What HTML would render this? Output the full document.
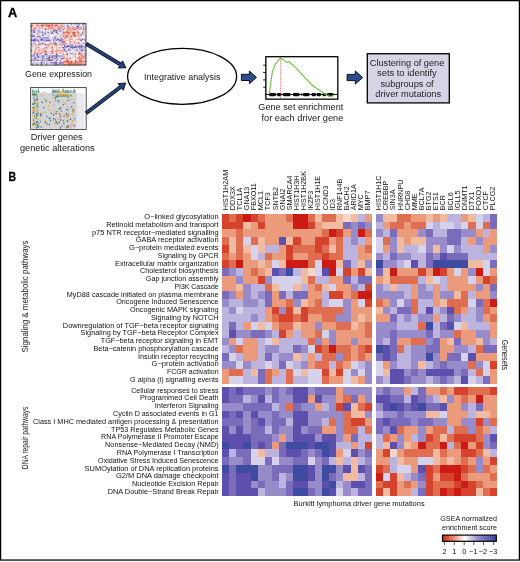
<!DOCTYPE html><html><head><meta charset="utf-8"><style>html,body{margin:0;padding:0;background:#fff;width:520px;height:562px;overflow:hidden}svg{display:block;font-family:"Liberation Sans",sans-serif;will-change:transform}</style></head><body>
<svg width="520" height="562" viewBox="0 0 520 562">
<rect x="0" y="0" width="520" height="562" fill="#fff"/>
<rect x="0.6" y="0.65" width="518.8" height="559.4" fill="none" stroke="#000" stroke-width="1.25"/>
<text x="8.0" y="16.8" font-size="12.6" font-weight="bold" fill="#000" stroke="#000" stroke-width="0.35" textLength="9.2" lengthAdjust="spacingAndGlyphs">A</text>
<text x="8.5" y="180.9" font-size="12.6" font-weight="bold" fill="#000" stroke="#000" stroke-width="0.3" textLength="7.6" lengthAdjust="spacingAndGlyphs">B</text>
<defs><filter id="bl" x="0" y="0" width="1" height="1"><feGaussianBlur stdDeviation="0.35"/></filter></defs>
<g filter="url(#bl)">
<rect x="31.00" y="23.30" width="1.43" height="1.44" fill="#f5d3ce"/>
<rect x="32.38" y="23.30" width="1.43" height="1.44" fill="#f7dad7"/>
<rect x="33.75" y="23.30" width="1.43" height="1.44" fill="#f1c0b9"/>
<rect x="35.12" y="23.30" width="1.43" height="1.44" fill="#eeb0a8"/>
<rect x="36.50" y="23.30" width="1.43" height="1.44" fill="#e37f71"/>
<rect x="37.88" y="23.30" width="1.43" height="1.44" fill="#e8988d"/>
<rect x="39.25" y="23.30" width="1.43" height="1.44" fill="#f2c7c1"/>
<rect x="40.62" y="23.30" width="1.43" height="1.44" fill="#fae9e7"/>
<rect x="42.00" y="23.30" width="1.43" height="1.44" fill="#f4ccc6"/>
<rect x="43.38" y="23.30" width="1.43" height="1.44" fill="#da5845"/>
<rect x="44.75" y="23.30" width="1.43" height="1.44" fill="#f8dfdc"/>
<rect x="46.12" y="23.30" width="1.43" height="1.44" fill="#e8998e"/>
<rect x="47.50" y="23.30" width="1.43" height="1.44" fill="#e68d80"/>
<rect x="48.88" y="23.30" width="1.43" height="1.44" fill="#f1f0f8"/>
<rect x="50.25" y="23.30" width="1.43" height="1.44" fill="#eba69c"/>
<rect x="51.62" y="23.30" width="1.43" height="1.44" fill="#d9523f"/>
<rect x="53.00" y="23.30" width="1.43" height="1.44" fill="#d0cce7"/>
<rect x="54.38" y="23.30" width="1.43" height="1.44" fill="#f1bfb8"/>
<rect x="55.75" y="23.30" width="1.43" height="1.44" fill="#eeb0a8"/>
<rect x="57.12" y="23.30" width="1.43" height="1.44" fill="#f8e0dc"/>
<rect x="58.50" y="23.30" width="1.43" height="1.44" fill="#e5887b"/>
<rect x="59.88" y="23.30" width="1.43" height="1.44" fill="#edada4"/>
<rect x="61.25" y="23.30" width="1.43" height="1.44" fill="#f3f2f8"/>
<rect x="62.62" y="23.30" width="1.43" height="1.44" fill="#e07263"/>
<rect x="64.00" y="23.30" width="1.43" height="1.44" fill="#dcd9ed"/>
<rect x="65.38" y="23.30" width="1.43" height="1.44" fill="#edecf6"/>
<rect x="66.75" y="23.30" width="1.43" height="1.44" fill="#fbf0ee"/>
<rect x="68.12" y="23.30" width="1.43" height="1.44" fill="#c8c4e3"/>
<rect x="69.50" y="23.30" width="1.43" height="1.44" fill="#b9b3db"/>
<rect x="70.88" y="23.30" width="1.43" height="1.44" fill="#5f52ad"/>
<rect x="72.25" y="23.30" width="1.43" height="1.44" fill="#d8d5eb"/>
<rect x="73.62" y="23.30" width="1.43" height="1.44" fill="#8b81c3"/>
<rect x="75.00" y="23.30" width="1.43" height="1.44" fill="#958cc8"/>
<rect x="76.38" y="23.30" width="1.43" height="1.44" fill="#6154ae"/>
<rect x="77.75" y="23.30" width="1.43" height="1.44" fill="#7468b7"/>
<rect x="79.12" y="23.30" width="1.43" height="1.44" fill="#9086c6"/>
<rect x="80.50" y="23.30" width="1.43" height="1.44" fill="#fefaf9"/>
<rect x="81.88" y="23.30" width="1.43" height="1.44" fill="#5041a5"/>
<rect x="83.25" y="23.30" width="1.43" height="1.44" fill="#5547a7"/>
<rect x="84.62" y="23.30" width="1.43" height="1.44" fill="#c0bbdf"/>
<rect x="31.00" y="24.69" width="1.43" height="1.44" fill="#d74632"/>
<rect x="32.38" y="24.69" width="1.43" height="1.44" fill="#dc6150"/>
<rect x="33.75" y="24.69" width="1.43" height="1.44" fill="#f7f7fb"/>
<rect x="35.12" y="24.69" width="1.43" height="1.44" fill="#d0cce7"/>
<rect x="36.50" y="24.69" width="1.43" height="1.44" fill="#e06f60"/>
<rect x="37.88" y="24.69" width="1.43" height="1.44" fill="#efb9b1"/>
<rect x="39.25" y="24.69" width="1.43" height="1.44" fill="#f5d2cd"/>
<rect x="40.62" y="24.69" width="1.43" height="1.44" fill="#d74632"/>
<rect x="42.00" y="24.69" width="1.43" height="1.44" fill="#d74632"/>
<rect x="43.38" y="24.69" width="1.43" height="1.44" fill="#e27d6f"/>
<rect x="44.75" y="24.69" width="1.43" height="1.44" fill="#e17768"/>
<rect x="46.12" y="24.69" width="1.43" height="1.44" fill="#de6a5a"/>
<rect x="47.50" y="24.69" width="1.43" height="1.44" fill="#d74632"/>
<rect x="48.88" y="24.69" width="1.43" height="1.44" fill="#dc5e4d"/>
<rect x="50.25" y="24.69" width="1.43" height="1.44" fill="#dd6554"/>
<rect x="51.62" y="24.69" width="1.43" height="1.44" fill="#dd6352"/>
<rect x="53.00" y="24.69" width="1.43" height="1.44" fill="#fbf0ef"/>
<rect x="54.38" y="24.69" width="1.43" height="1.44" fill="#d74632"/>
<rect x="55.75" y="24.69" width="1.43" height="1.44" fill="#d74834"/>
<rect x="57.12" y="24.69" width="1.43" height="1.44" fill="#dd6453"/>
<rect x="58.50" y="24.69" width="1.43" height="1.44" fill="#f2f1f8"/>
<rect x="59.88" y="24.69" width="1.43" height="1.44" fill="#eeb2a9"/>
<rect x="61.25" y="24.69" width="1.43" height="1.44" fill="#d94f3c"/>
<rect x="62.62" y="24.69" width="1.43" height="1.44" fill="#fdfdfe"/>
<rect x="64.00" y="24.69" width="1.43" height="1.44" fill="#c6c1e1"/>
<rect x="65.38" y="24.69" width="1.43" height="1.44" fill="#faeae8"/>
<rect x="66.75" y="24.69" width="1.43" height="1.44" fill="#7e73bd"/>
<rect x="68.12" y="24.69" width="1.43" height="1.44" fill="#f2c3bc"/>
<rect x="69.50" y="24.69" width="1.43" height="1.44" fill="#f4f3f9"/>
<rect x="70.88" y="24.69" width="1.43" height="1.44" fill="#c8c3e2"/>
<rect x="72.25" y="24.69" width="1.43" height="1.44" fill="#e6e4f2"/>
<rect x="73.62" y="24.69" width="1.43" height="1.44" fill="#fafafc"/>
<rect x="75.00" y="24.69" width="1.43" height="1.44" fill="#d9d6eb"/>
<rect x="76.38" y="24.69" width="1.43" height="1.44" fill="#f8e2df"/>
<rect x="77.75" y="24.69" width="1.43" height="1.44" fill="#a7a0d2"/>
<rect x="79.12" y="24.69" width="1.43" height="1.44" fill="#b7b1da"/>
<rect x="80.50" y="24.69" width="1.43" height="1.44" fill="#fae9e6"/>
<rect x="81.88" y="24.69" width="1.43" height="1.44" fill="#d3cfe8"/>
<rect x="83.25" y="24.69" width="1.43" height="1.44" fill="#9a91cb"/>
<rect x="84.62" y="24.69" width="1.43" height="1.44" fill="#fbefed"/>
<rect x="31.00" y="26.09" width="1.43" height="1.44" fill="#d74632"/>
<rect x="32.38" y="26.09" width="1.43" height="1.44" fill="#f2c5bf"/>
<rect x="33.75" y="26.09" width="1.43" height="1.44" fill="#f9f9fc"/>
<rect x="35.12" y="26.09" width="1.43" height="1.44" fill="#eeb1a8"/>
<rect x="36.50" y="26.09" width="1.43" height="1.44" fill="#eeb2a9"/>
<rect x="37.88" y="26.09" width="1.43" height="1.44" fill="#f0bcb4"/>
<rect x="39.25" y="26.09" width="1.43" height="1.44" fill="#d74a36"/>
<rect x="40.62" y="26.09" width="1.43" height="1.44" fill="#fbecea"/>
<rect x="42.00" y="26.09" width="1.43" height="1.44" fill="#da5441"/>
<rect x="43.38" y="26.09" width="1.43" height="1.44" fill="#fefcfc"/>
<rect x="44.75" y="26.09" width="1.43" height="1.44" fill="#f7dcd9"/>
<rect x="46.12" y="26.09" width="1.43" height="1.44" fill="#e37e70"/>
<rect x="47.50" y="26.09" width="1.43" height="1.44" fill="#db5c4b"/>
<rect x="48.88" y="26.09" width="1.43" height="1.44" fill="#df6e5f"/>
<rect x="50.25" y="26.09" width="1.43" height="1.44" fill="#e79185"/>
<rect x="51.62" y="26.09" width="1.43" height="1.44" fill="#ea9e94"/>
<rect x="53.00" y="26.09" width="1.43" height="1.44" fill="#ea9e93"/>
<rect x="54.38" y="26.09" width="1.43" height="1.44" fill="#e38174"/>
<rect x="55.75" y="26.09" width="1.43" height="1.44" fill="#eeb4ab"/>
<rect x="57.12" y="26.09" width="1.43" height="1.44" fill="#e8958a"/>
<rect x="58.50" y="26.09" width="1.43" height="1.44" fill="#e38274"/>
<rect x="59.88" y="26.09" width="1.43" height="1.44" fill="#eca89e"/>
<rect x="61.25" y="26.09" width="1.43" height="1.44" fill="#e17566"/>
<rect x="62.62" y="26.09" width="1.43" height="1.44" fill="#e48275"/>
<rect x="64.00" y="26.09" width="1.43" height="1.44" fill="#f3c8c3"/>
<rect x="65.38" y="26.09" width="1.43" height="1.44" fill="#c7c2e2"/>
<rect x="66.75" y="26.09" width="1.43" height="1.44" fill="#988fca"/>
<rect x="68.12" y="26.09" width="1.43" height="1.44" fill="#9b93cb"/>
<rect x="69.50" y="26.09" width="1.43" height="1.44" fill="#b2abd7"/>
<rect x="70.88" y="26.09" width="1.43" height="1.44" fill="#edebf5"/>
<rect x="72.25" y="26.09" width="1.43" height="1.44" fill="#9d95cd"/>
<rect x="73.62" y="26.09" width="1.43" height="1.44" fill="#cbc7e4"/>
<rect x="75.00" y="26.09" width="1.43" height="1.44" fill="#f5d4cf"/>
<rect x="76.38" y="26.09" width="1.43" height="1.44" fill="#5041a5"/>
<rect x="77.75" y="26.09" width="1.43" height="1.44" fill="#6c5fb3"/>
<rect x="79.12" y="26.09" width="1.43" height="1.44" fill="#c2bddf"/>
<rect x="80.50" y="26.09" width="1.43" height="1.44" fill="#ccc7e4"/>
<rect x="81.88" y="26.09" width="1.43" height="1.44" fill="#c2bcdf"/>
<rect x="83.25" y="26.09" width="1.43" height="1.44" fill="#978fc9"/>
<rect x="84.62" y="26.09" width="1.43" height="1.44" fill="#dcd9ed"/>
<rect x="31.00" y="27.48" width="1.43" height="1.44" fill="#e9998e"/>
<rect x="32.38" y="27.48" width="1.43" height="1.44" fill="#f4cfc9"/>
<rect x="33.75" y="27.48" width="1.43" height="1.44" fill="#d74632"/>
<rect x="35.12" y="27.48" width="1.43" height="1.44" fill="#e79488"/>
<rect x="36.50" y="27.48" width="1.43" height="1.44" fill="#f5d1cc"/>
<rect x="37.88" y="27.48" width="1.43" height="1.44" fill="#eeb2aa"/>
<rect x="39.25" y="27.48" width="1.43" height="1.44" fill="#f0bbb3"/>
<rect x="40.62" y="27.48" width="1.43" height="1.44" fill="#edb0a7"/>
<rect x="42.00" y="27.48" width="1.43" height="1.44" fill="#a098ce"/>
<rect x="43.38" y="27.48" width="1.43" height="1.44" fill="#f4ccc7"/>
<rect x="44.75" y="27.48" width="1.43" height="1.44" fill="#de6858"/>
<rect x="46.12" y="27.48" width="1.43" height="1.44" fill="#fdfaf9"/>
<rect x="47.50" y="27.48" width="1.43" height="1.44" fill="#eeb0a8"/>
<rect x="48.88" y="27.48" width="1.43" height="1.44" fill="#df6c5c"/>
<rect x="50.25" y="27.48" width="1.43" height="1.44" fill="#e07363"/>
<rect x="51.62" y="27.48" width="1.43" height="1.44" fill="#d74834"/>
<rect x="53.00" y="27.48" width="1.43" height="1.44" fill="#e1dff0"/>
<rect x="54.38" y="27.48" width="1.43" height="1.44" fill="#f2c3bd"/>
<rect x="55.75" y="27.48" width="1.43" height="1.44" fill="#f2c2bc"/>
<rect x="57.12" y="27.48" width="1.43" height="1.44" fill="#e48275"/>
<rect x="58.50" y="27.48" width="1.43" height="1.44" fill="#dd6352"/>
<rect x="59.88" y="27.48" width="1.43" height="1.44" fill="#a39cd0"/>
<rect x="61.25" y="27.48" width="1.43" height="1.44" fill="#dd6352"/>
<rect x="62.62" y="27.48" width="1.43" height="1.44" fill="#f1f0f8"/>
<rect x="64.00" y="27.48" width="1.43" height="1.44" fill="#e17566"/>
<rect x="65.38" y="27.48" width="1.43" height="1.44" fill="#f7f6fb"/>
<rect x="66.75" y="27.48" width="1.43" height="1.44" fill="#e8978c"/>
<rect x="68.12" y="27.48" width="1.43" height="1.44" fill="#d95341"/>
<rect x="69.50" y="27.48" width="1.43" height="1.44" fill="#edada4"/>
<rect x="70.88" y="27.48" width="1.43" height="1.44" fill="#e8968b"/>
<rect x="72.25" y="27.48" width="1.43" height="1.44" fill="#df6e5e"/>
<rect x="73.62" y="27.48" width="1.43" height="1.44" fill="#e9998f"/>
<rect x="75.00" y="27.48" width="1.43" height="1.44" fill="#eca9a0"/>
<rect x="76.38" y="27.48" width="1.43" height="1.44" fill="#d74632"/>
<rect x="77.75" y="27.48" width="1.43" height="1.44" fill="#dc5d4b"/>
<rect x="79.12" y="27.48" width="1.43" height="1.44" fill="#efb7af"/>
<rect x="80.50" y="27.48" width="1.43" height="1.44" fill="#d74632"/>
<rect x="81.88" y="27.48" width="1.43" height="1.44" fill="#fbefee"/>
<rect x="83.25" y="27.48" width="1.43" height="1.44" fill="#dd6655"/>
<rect x="84.62" y="27.48" width="1.43" height="1.44" fill="#efb5ad"/>
<rect x="31.00" y="28.87" width="1.43" height="1.44" fill="#f1beb7"/>
<rect x="32.38" y="28.87" width="1.43" height="1.44" fill="#e8988c"/>
<rect x="33.75" y="28.87" width="1.43" height="1.44" fill="#efb8b0"/>
<rect x="35.12" y="28.87" width="1.43" height="1.44" fill="#e99c91"/>
<rect x="36.50" y="28.87" width="1.43" height="1.44" fill="#d3cfe8"/>
<rect x="37.88" y="28.87" width="1.43" height="1.44" fill="#d4d0e9"/>
<rect x="39.25" y="28.87" width="1.43" height="1.44" fill="#ea9e93"/>
<rect x="40.62" y="28.87" width="1.43" height="1.44" fill="#f6f6fa"/>
<rect x="42.00" y="28.87" width="1.43" height="1.44" fill="#f2f1f8"/>
<rect x="43.38" y="28.87" width="1.43" height="1.44" fill="#d6d3ea"/>
<rect x="44.75" y="28.87" width="1.43" height="1.44" fill="#e07263"/>
<rect x="46.12" y="28.87" width="1.43" height="1.44" fill="#e89589"/>
<rect x="47.50" y="28.87" width="1.43" height="1.44" fill="#dd6454"/>
<rect x="48.88" y="28.87" width="1.43" height="1.44" fill="#f8f7fb"/>
<rect x="50.25" y="28.87" width="1.43" height="1.44" fill="#f2c7c1"/>
<rect x="51.62" y="28.87" width="1.43" height="1.44" fill="#ebeaf5"/>
<rect x="53.00" y="28.87" width="1.43" height="1.44" fill="#e79488"/>
<rect x="54.38" y="28.87" width="1.43" height="1.44" fill="#db5d4b"/>
<rect x="55.75" y="28.87" width="1.43" height="1.44" fill="#fbfbfd"/>
<rect x="57.12" y="28.87" width="1.43" height="1.44" fill="#dc5e4d"/>
<rect x="58.50" y="28.87" width="1.43" height="1.44" fill="#e48578"/>
<rect x="59.88" y="28.87" width="1.43" height="1.44" fill="#f5d3ce"/>
<rect x="61.25" y="28.87" width="1.43" height="1.44" fill="#b7b1da"/>
<rect x="62.62" y="28.87" width="1.43" height="1.44" fill="#de6959"/>
<rect x="64.00" y="28.87" width="1.43" height="1.44" fill="#f2c4be"/>
<rect x="65.38" y="28.87" width="1.43" height="1.44" fill="#f9e6e4"/>
<rect x="66.75" y="28.87" width="1.43" height="1.44" fill="#eba399"/>
<rect x="68.12" y="28.87" width="1.43" height="1.44" fill="#eba399"/>
<rect x="69.50" y="28.87" width="1.43" height="1.44" fill="#db5a48"/>
<rect x="70.88" y="28.87" width="1.43" height="1.44" fill="#fbfbfd"/>
<rect x="72.25" y="28.87" width="1.43" height="1.44" fill="#e07263"/>
<rect x="73.62" y="28.87" width="1.43" height="1.44" fill="#db5b49"/>
<rect x="75.00" y="28.87" width="1.43" height="1.44" fill="#dc5d4b"/>
<rect x="76.38" y="28.87" width="1.43" height="1.44" fill="#f3cac4"/>
<rect x="77.75" y="28.87" width="1.43" height="1.44" fill="#fbf0ee"/>
<rect x="79.12" y="28.87" width="1.43" height="1.44" fill="#e27a6c"/>
<rect x="80.50" y="28.87" width="1.43" height="1.44" fill="#efb6ae"/>
<rect x="81.88" y="28.87" width="1.43" height="1.44" fill="#efb6ae"/>
<rect x="83.25" y="28.87" width="1.43" height="1.44" fill="#dc5f4e"/>
<rect x="84.62" y="28.87" width="1.43" height="1.44" fill="#f4d0ca"/>
<rect x="31.00" y="30.27" width="1.43" height="1.44" fill="#5041a5"/>
<rect x="32.38" y="30.27" width="1.43" height="1.44" fill="#9289c7"/>
<rect x="33.75" y="30.27" width="1.43" height="1.44" fill="#5041a5"/>
<rect x="35.12" y="30.27" width="1.43" height="1.44" fill="#dfdcee"/>
<rect x="36.50" y="30.27" width="1.43" height="1.44" fill="#bfb9de"/>
<rect x="37.88" y="30.27" width="1.43" height="1.44" fill="#847ac0"/>
<rect x="39.25" y="30.27" width="1.43" height="1.44" fill="#aaa3d3"/>
<rect x="40.62" y="30.27" width="1.43" height="1.44" fill="#dfddef"/>
<rect x="42.00" y="30.27" width="1.43" height="1.44" fill="#b0a9d6"/>
<rect x="43.38" y="30.27" width="1.43" height="1.44" fill="#fefefe"/>
<rect x="44.75" y="30.27" width="1.43" height="1.44" fill="#a79fd1"/>
<rect x="46.12" y="30.27" width="1.43" height="1.44" fill="#edebf5"/>
<rect x="47.50" y="30.27" width="1.43" height="1.44" fill="#fcf3f2"/>
<rect x="48.88" y="30.27" width="1.43" height="1.44" fill="#faebe9"/>
<rect x="50.25" y="30.27" width="1.43" height="1.44" fill="#8076be"/>
<rect x="51.62" y="30.27" width="1.43" height="1.44" fill="#e2e0f0"/>
<rect x="53.00" y="30.27" width="1.43" height="1.44" fill="#5041a5"/>
<rect x="54.38" y="30.27" width="1.43" height="1.44" fill="#6659b0"/>
<rect x="55.75" y="30.27" width="1.43" height="1.44" fill="#5041a5"/>
<rect x="57.12" y="30.27" width="1.43" height="1.44" fill="#eeedf6"/>
<rect x="58.50" y="30.27" width="1.43" height="1.44" fill="#5d4fab"/>
<rect x="59.88" y="30.27" width="1.43" height="1.44" fill="#aaa3d3"/>
<rect x="61.25" y="30.27" width="1.43" height="1.44" fill="#9f96cd"/>
<rect x="62.62" y="30.27" width="1.43" height="1.44" fill="#f4ccc7"/>
<rect x="64.00" y="30.27" width="1.43" height="1.44" fill="#fcf2f0"/>
<rect x="65.38" y="30.27" width="1.43" height="1.44" fill="#f0bbb3"/>
<rect x="66.75" y="30.27" width="1.43" height="1.44" fill="#d95340"/>
<rect x="68.12" y="30.27" width="1.43" height="1.44" fill="#f3c7c1"/>
<rect x="69.50" y="30.27" width="1.43" height="1.44" fill="#eca79d"/>
<rect x="70.88" y="30.27" width="1.43" height="1.44" fill="#e5887b"/>
<rect x="72.25" y="30.27" width="1.43" height="1.44" fill="#f6d8d3"/>
<rect x="73.62" y="30.27" width="1.43" height="1.44" fill="#e0deef"/>
<rect x="75.00" y="30.27" width="1.43" height="1.44" fill="#fbefee"/>
<rect x="76.38" y="30.27" width="1.43" height="1.44" fill="#e48375"/>
<rect x="77.75" y="30.27" width="1.43" height="1.44" fill="#c8c3e2"/>
<rect x="79.12" y="30.27" width="1.43" height="1.44" fill="#fcf2f1"/>
<rect x="80.50" y="30.27" width="1.43" height="1.44" fill="#f3f2f8"/>
<rect x="81.88" y="30.27" width="1.43" height="1.44" fill="#e5e3f1"/>
<rect x="83.25" y="30.27" width="1.43" height="1.44" fill="#b4add8"/>
<rect x="84.62" y="30.27" width="1.43" height="1.44" fill="#e6e4f2"/>
<rect x="31.00" y="31.66" width="1.43" height="1.44" fill="#ecebf5"/>
<rect x="32.38" y="31.66" width="1.43" height="1.44" fill="#978fc9"/>
<rect x="33.75" y="31.66" width="1.43" height="1.44" fill="#7f74bd"/>
<rect x="35.12" y="31.66" width="1.43" height="1.44" fill="#bab4db"/>
<rect x="36.50" y="31.66" width="1.43" height="1.44" fill="#f8dfdc"/>
<rect x="37.88" y="31.66" width="1.43" height="1.44" fill="#beb9dd"/>
<rect x="39.25" y="31.66" width="1.43" height="1.44" fill="#a9a2d2"/>
<rect x="40.62" y="31.66" width="1.43" height="1.44" fill="#b1abd7"/>
<rect x="42.00" y="31.66" width="1.43" height="1.44" fill="#8176be"/>
<rect x="43.38" y="31.66" width="1.43" height="1.44" fill="#dad7ec"/>
<rect x="44.75" y="31.66" width="1.43" height="1.44" fill="#978fc9"/>
<rect x="46.12" y="31.66" width="1.43" height="1.44" fill="#f9f8fc"/>
<rect x="47.50" y="31.66" width="1.43" height="1.44" fill="#5041a5"/>
<rect x="48.88" y="31.66" width="1.43" height="1.44" fill="#f7f6fa"/>
<rect x="50.25" y="31.66" width="1.43" height="1.44" fill="#b9b3db"/>
<rect x="51.62" y="31.66" width="1.43" height="1.44" fill="#675ab1"/>
<rect x="53.00" y="31.66" width="1.43" height="1.44" fill="#fbecea"/>
<rect x="54.38" y="31.66" width="1.43" height="1.44" fill="#d0cde7"/>
<rect x="55.75" y="31.66" width="1.43" height="1.44" fill="#5546a7"/>
<rect x="57.12" y="31.66" width="1.43" height="1.44" fill="#aba3d3"/>
<rect x="58.50" y="31.66" width="1.43" height="1.44" fill="#f4f3f9"/>
<rect x="59.88" y="31.66" width="1.43" height="1.44" fill="#c5c0e1"/>
<rect x="61.25" y="31.66" width="1.43" height="1.44" fill="#fae9e6"/>
<rect x="62.62" y="31.66" width="1.43" height="1.44" fill="#dc5e4d"/>
<rect x="64.00" y="31.66" width="1.43" height="1.44" fill="#dd6453"/>
<rect x="65.38" y="31.66" width="1.43" height="1.44" fill="#e27a6c"/>
<rect x="66.75" y="31.66" width="1.43" height="1.44" fill="#d74632"/>
<rect x="68.12" y="31.66" width="1.43" height="1.44" fill="#dd6453"/>
<rect x="69.50" y="31.66" width="1.43" height="1.44" fill="#e07263"/>
<rect x="70.88" y="31.66" width="1.43" height="1.44" fill="#e3e1f0"/>
<rect x="72.25" y="31.66" width="1.43" height="1.44" fill="#da5442"/>
<rect x="73.62" y="31.66" width="1.43" height="1.44" fill="#d74632"/>
<rect x="75.00" y="31.66" width="1.43" height="1.44" fill="#eba49a"/>
<rect x="76.38" y="31.66" width="1.43" height="1.44" fill="#edafa7"/>
<rect x="77.75" y="31.66" width="1.43" height="1.44" fill="#d74632"/>
<rect x="79.12" y="31.66" width="1.43" height="1.44" fill="#f8f7fb"/>
<rect x="80.50" y="31.66" width="1.43" height="1.44" fill="#fcf5f4"/>
<rect x="81.88" y="31.66" width="1.43" height="1.44" fill="#e07263"/>
<rect x="83.25" y="31.66" width="1.43" height="1.44" fill="#b0a9d6"/>
<rect x="84.62" y="31.66" width="1.43" height="1.44" fill="#f9e6e3"/>
<rect x="31.00" y="33.05" width="1.43" height="1.44" fill="#f0bdb6"/>
<rect x="32.38" y="33.05" width="1.43" height="1.44" fill="#beb8dd"/>
<rect x="33.75" y="33.05" width="1.43" height="1.44" fill="#e9e7f3"/>
<rect x="35.12" y="33.05" width="1.43" height="1.44" fill="#fefefe"/>
<rect x="36.50" y="33.05" width="1.43" height="1.44" fill="#8c82c4"/>
<rect x="37.88" y="33.05" width="1.43" height="1.44" fill="#c0bade"/>
<rect x="39.25" y="33.05" width="1.43" height="1.44" fill="#d8d4eb"/>
<rect x="40.62" y="33.05" width="1.43" height="1.44" fill="#f9f9fc"/>
<rect x="42.00" y="33.05" width="1.43" height="1.44" fill="#c3bee0"/>
<rect x="43.38" y="33.05" width="1.43" height="1.44" fill="#b9b3db"/>
<rect x="44.75" y="33.05" width="1.43" height="1.44" fill="#857bc0"/>
<rect x="46.12" y="33.05" width="1.43" height="1.44" fill="#afa8d5"/>
<rect x="47.50" y="33.05" width="1.43" height="1.44" fill="#fefefe"/>
<rect x="48.88" y="33.05" width="1.43" height="1.44" fill="#ccc7e4"/>
<rect x="50.25" y="33.05" width="1.43" height="1.44" fill="#8f86c5"/>
<rect x="51.62" y="33.05" width="1.43" height="1.44" fill="#9087c6"/>
<rect x="53.00" y="33.05" width="1.43" height="1.44" fill="#e5897c"/>
<rect x="54.38" y="33.05" width="1.43" height="1.44" fill="#fbefed"/>
<rect x="55.75" y="33.05" width="1.43" height="1.44" fill="#eeecf6"/>
<rect x="57.12" y="33.05" width="1.43" height="1.44" fill="#5041a5"/>
<rect x="58.50" y="33.05" width="1.43" height="1.44" fill="#edebf5"/>
<rect x="59.88" y="33.05" width="1.43" height="1.44" fill="#e4e1f1"/>
<rect x="61.25" y="33.05" width="1.43" height="1.44" fill="#f3cac5"/>
<rect x="62.62" y="33.05" width="1.43" height="1.44" fill="#e79286"/>
<rect x="64.00" y="33.05" width="1.43" height="1.44" fill="#eeb3ab"/>
<rect x="65.38" y="33.05" width="1.43" height="1.44" fill="#e68b7f"/>
<rect x="66.75" y="33.05" width="1.43" height="1.44" fill="#cfcbe6"/>
<rect x="68.12" y="33.05" width="1.43" height="1.44" fill="#de6959"/>
<rect x="69.50" y="33.05" width="1.43" height="1.44" fill="#e8998e"/>
<rect x="70.88" y="33.05" width="1.43" height="1.44" fill="#f7ddda"/>
<rect x="72.25" y="33.05" width="1.43" height="1.44" fill="#da5644"/>
<rect x="73.62" y="33.05" width="1.43" height="1.44" fill="#d74632"/>
<rect x="75.00" y="33.05" width="1.43" height="1.44" fill="#f2f1f8"/>
<rect x="76.38" y="33.05" width="1.43" height="1.44" fill="#f7dbd7"/>
<rect x="77.75" y="33.05" width="1.43" height="1.44" fill="#e99b90"/>
<rect x="79.12" y="33.05" width="1.43" height="1.44" fill="#eba298"/>
<rect x="80.50" y="33.05" width="1.43" height="1.44" fill="#b4aed8"/>
<rect x="81.88" y="33.05" width="1.43" height="1.44" fill="#9087c6"/>
<rect x="83.25" y="33.05" width="1.43" height="1.44" fill="#eba59b"/>
<rect x="84.62" y="33.05" width="1.43" height="1.44" fill="#fbedeb"/>
<rect x="31.00" y="34.45" width="1.43" height="1.44" fill="#938ac7"/>
<rect x="32.38" y="34.45" width="1.43" height="1.44" fill="#8a80c2"/>
<rect x="33.75" y="34.45" width="1.43" height="1.44" fill="#edaea6"/>
<rect x="35.12" y="34.45" width="1.43" height="1.44" fill="#f7deda"/>
<rect x="36.50" y="34.45" width="1.43" height="1.44" fill="#eba69d"/>
<rect x="37.88" y="34.45" width="1.43" height="1.44" fill="#faeae8"/>
<rect x="39.25" y="34.45" width="1.43" height="1.44" fill="#a8a0d2"/>
<rect x="40.62" y="34.45" width="1.43" height="1.44" fill="#efeef7"/>
<rect x="42.00" y="34.45" width="1.43" height="1.44" fill="#5648a8"/>
<rect x="43.38" y="34.45" width="1.43" height="1.44" fill="#b0a9d6"/>
<rect x="44.75" y="34.45" width="1.43" height="1.44" fill="#dbd8ec"/>
<rect x="46.12" y="34.45" width="1.43" height="1.44" fill="#fefdfd"/>
<rect x="47.50" y="34.45" width="1.43" height="1.44" fill="#b1aad7"/>
<rect x="48.88" y="34.45" width="1.43" height="1.44" fill="#d7d4ea"/>
<rect x="50.25" y="34.45" width="1.43" height="1.44" fill="#fcfcfd"/>
<rect x="51.62" y="34.45" width="1.43" height="1.44" fill="#f7f6fa"/>
<rect x="53.00" y="34.45" width="1.43" height="1.44" fill="#fdf5f4"/>
<rect x="54.38" y="34.45" width="1.43" height="1.44" fill="#eceaf5"/>
<rect x="55.75" y="34.45" width="1.43" height="1.44" fill="#cac6e4"/>
<rect x="57.12" y="34.45" width="1.43" height="1.44" fill="#faebe9"/>
<rect x="58.50" y="34.45" width="1.43" height="1.44" fill="#e2dff0"/>
<rect x="59.88" y="34.45" width="1.43" height="1.44" fill="#aba3d3"/>
<rect x="61.25" y="34.45" width="1.43" height="1.44" fill="#b7b1da"/>
<rect x="62.62" y="34.45" width="1.43" height="1.44" fill="#e79388"/>
<rect x="64.00" y="34.45" width="1.43" height="1.44" fill="#e99b90"/>
<rect x="65.38" y="34.45" width="1.43" height="1.44" fill="#e5897c"/>
<rect x="66.75" y="34.45" width="1.43" height="1.44" fill="#e79388"/>
<rect x="68.12" y="34.45" width="1.43" height="1.44" fill="#e5887b"/>
<rect x="69.50" y="34.45" width="1.43" height="1.44" fill="#e99c92"/>
<rect x="70.88" y="34.45" width="1.43" height="1.44" fill="#fae7e5"/>
<rect x="72.25" y="34.45" width="1.43" height="1.44" fill="#e17769"/>
<rect x="73.62" y="34.45" width="1.43" height="1.44" fill="#d84d3a"/>
<rect x="75.00" y="34.45" width="1.43" height="1.44" fill="#e17668"/>
<rect x="76.38" y="34.45" width="1.43" height="1.44" fill="#eaa096"/>
<rect x="77.75" y="34.45" width="1.43" height="1.44" fill="#e17667"/>
<rect x="79.12" y="34.45" width="1.43" height="1.44" fill="#f5d4cf"/>
<rect x="80.50" y="34.45" width="1.43" height="1.44" fill="#6f63b5"/>
<rect x="81.88" y="34.45" width="1.43" height="1.44" fill="#ebe9f4"/>
<rect x="83.25" y="34.45" width="1.43" height="1.44" fill="#aca5d4"/>
<rect x="84.62" y="34.45" width="1.43" height="1.44" fill="#f9e6e3"/>
<rect x="31.00" y="35.84" width="1.43" height="1.44" fill="#7a6eba"/>
<rect x="32.38" y="35.84" width="1.43" height="1.44" fill="#5041a5"/>
<rect x="33.75" y="35.84" width="1.43" height="1.44" fill="#7c71bc"/>
<rect x="35.12" y="35.84" width="1.43" height="1.44" fill="#f6d9d5"/>
<rect x="36.50" y="35.84" width="1.43" height="1.44" fill="#a69ed1"/>
<rect x="37.88" y="35.84" width="1.43" height="1.44" fill="#685bb1"/>
<rect x="39.25" y="35.84" width="1.43" height="1.44" fill="#8e84c5"/>
<rect x="40.62" y="35.84" width="1.43" height="1.44" fill="#dfdcee"/>
<rect x="42.00" y="35.84" width="1.43" height="1.44" fill="#dddbed"/>
<rect x="43.38" y="35.84" width="1.43" height="1.44" fill="#c9c5e3"/>
<rect x="44.75" y="35.84" width="1.43" height="1.44" fill="#f8e0dc"/>
<rect x="46.12" y="35.84" width="1.43" height="1.44" fill="#ebe9f4"/>
<rect x="47.50" y="35.84" width="1.43" height="1.44" fill="#bdb7dd"/>
<rect x="48.88" y="35.84" width="1.43" height="1.44" fill="#e4e1f1"/>
<rect x="50.25" y="35.84" width="1.43" height="1.44" fill="#f5d4d0"/>
<rect x="51.62" y="35.84" width="1.43" height="1.44" fill="#fbfbfd"/>
<rect x="53.00" y="35.84" width="1.43" height="1.44" fill="#fefefe"/>
<rect x="54.38" y="35.84" width="1.43" height="1.44" fill="#7a6eba"/>
<rect x="55.75" y="35.84" width="1.43" height="1.44" fill="#b5aed9"/>
<rect x="57.12" y="35.84" width="1.43" height="1.44" fill="#ecebf5"/>
<rect x="58.50" y="35.84" width="1.43" height="1.44" fill="#aba4d4"/>
<rect x="59.88" y="35.84" width="1.43" height="1.44" fill="#fefbfb"/>
<rect x="61.25" y="35.84" width="1.43" height="1.44" fill="#e4e1f1"/>
<rect x="62.62" y="35.84" width="1.43" height="1.44" fill="#e2796b"/>
<rect x="64.00" y="35.84" width="1.43" height="1.44" fill="#f2c4be"/>
<rect x="65.38" y="35.84" width="1.43" height="1.44" fill="#d74632"/>
<rect x="66.75" y="35.84" width="1.43" height="1.44" fill="#dd6352"/>
<rect x="68.12" y="35.84" width="1.43" height="1.44" fill="#f2c4be"/>
<rect x="69.50" y="35.84" width="1.43" height="1.44" fill="#eeb0a8"/>
<rect x="70.88" y="35.84" width="1.43" height="1.44" fill="#d74632"/>
<rect x="72.25" y="35.84" width="1.43" height="1.44" fill="#f4cdc8"/>
<rect x="73.62" y="35.84" width="1.43" height="1.44" fill="#e27c6e"/>
<rect x="75.00" y="35.84" width="1.43" height="1.44" fill="#e17566"/>
<rect x="76.38" y="35.84" width="1.43" height="1.44" fill="#efb6ae"/>
<rect x="77.75" y="35.84" width="1.43" height="1.44" fill="#f9f9fc"/>
<rect x="79.12" y="35.84" width="1.43" height="1.44" fill="#ecaaa0"/>
<rect x="80.50" y="35.84" width="1.43" height="1.44" fill="#dddaed"/>
<rect x="81.88" y="35.84" width="1.43" height="1.44" fill="#fbeeed"/>
<rect x="83.25" y="35.84" width="1.43" height="1.44" fill="#f8f7fb"/>
<rect x="84.62" y="35.84" width="1.43" height="1.44" fill="#c8c3e2"/>
<rect x="31.00" y="37.23" width="1.43" height="1.44" fill="#fafafc"/>
<rect x="32.38" y="37.23" width="1.43" height="1.44" fill="#e6e4f2"/>
<rect x="33.75" y="37.23" width="1.43" height="1.44" fill="#d1cde7"/>
<rect x="35.12" y="37.23" width="1.43" height="1.44" fill="#c8c3e2"/>
<rect x="36.50" y="37.23" width="1.43" height="1.44" fill="#b5aed9"/>
<rect x="37.88" y="37.23" width="1.43" height="1.44" fill="#efeef7"/>
<rect x="39.25" y="37.23" width="1.43" height="1.44" fill="#8177be"/>
<rect x="40.62" y="37.23" width="1.43" height="1.44" fill="#9c94cc"/>
<rect x="42.00" y="37.23" width="1.43" height="1.44" fill="#c4bfe1"/>
<rect x="43.38" y="37.23" width="1.43" height="1.44" fill="#685bb1"/>
<rect x="44.75" y="37.23" width="1.43" height="1.44" fill="#a9a1d2"/>
<rect x="46.12" y="37.23" width="1.43" height="1.44" fill="#5041a5"/>
<rect x="47.50" y="37.23" width="1.43" height="1.44" fill="#9990ca"/>
<rect x="48.88" y="37.23" width="1.43" height="1.44" fill="#e8e6f3"/>
<rect x="50.25" y="37.23" width="1.43" height="1.44" fill="#e8e6f3"/>
<rect x="51.62" y="37.23" width="1.43" height="1.44" fill="#c1bbdf"/>
<rect x="53.00" y="37.23" width="1.43" height="1.44" fill="#b5afd9"/>
<rect x="54.38" y="37.23" width="1.43" height="1.44" fill="#6b5eb2"/>
<rect x="55.75" y="37.23" width="1.43" height="1.44" fill="#f1c2bc"/>
<rect x="57.12" y="37.23" width="1.43" height="1.44" fill="#e5e2f1"/>
<rect x="58.50" y="37.23" width="1.43" height="1.44" fill="#fcf3f2"/>
<rect x="59.88" y="37.23" width="1.43" height="1.44" fill="#8c83c4"/>
<rect x="61.25" y="37.23" width="1.43" height="1.44" fill="#b8b2da"/>
<rect x="62.62" y="37.23" width="1.43" height="1.44" fill="#d6d3ea"/>
<rect x="64.00" y="37.23" width="1.43" height="1.44" fill="#e27c6d"/>
<rect x="65.38" y="37.23" width="1.43" height="1.44" fill="#e07162"/>
<rect x="66.75" y="37.23" width="1.43" height="1.44" fill="#d1cde7"/>
<rect x="68.12" y="37.23" width="1.43" height="1.44" fill="#eeb3ab"/>
<rect x="69.50" y="37.23" width="1.43" height="1.44" fill="#e48678"/>
<rect x="70.88" y="37.23" width="1.43" height="1.44" fill="#dad7ec"/>
<rect x="72.25" y="37.23" width="1.43" height="1.44" fill="#d6d2ea"/>
<rect x="73.62" y="37.23" width="1.43" height="1.44" fill="#fdf7f6"/>
<rect x="75.00" y="37.23" width="1.43" height="1.44" fill="#f7dad6"/>
<rect x="76.38" y="37.23" width="1.43" height="1.44" fill="#f0eff7"/>
<rect x="77.75" y="37.23" width="1.43" height="1.44" fill="#edaea5"/>
<rect x="79.12" y="37.23" width="1.43" height="1.44" fill="#ea9f95"/>
<rect x="80.50" y="37.23" width="1.43" height="1.44" fill="#f4f4f9"/>
<rect x="81.88" y="37.23" width="1.43" height="1.44" fill="#f9f8fc"/>
<rect x="83.25" y="37.23" width="1.43" height="1.44" fill="#f4cfca"/>
<rect x="84.62" y="37.23" width="1.43" height="1.44" fill="#f9e6e3"/>
<rect x="31.00" y="38.63" width="1.43" height="1.44" fill="#695cb1"/>
<rect x="32.38" y="38.63" width="1.43" height="1.44" fill="#9b93cc"/>
<rect x="33.75" y="38.63" width="1.43" height="1.44" fill="#786dba"/>
<rect x="35.12" y="38.63" width="1.43" height="1.44" fill="#776cb9"/>
<rect x="36.50" y="38.63" width="1.43" height="1.44" fill="#b6b0d9"/>
<rect x="37.88" y="38.63" width="1.43" height="1.44" fill="#bcb6dc"/>
<rect x="39.25" y="38.63" width="1.43" height="1.44" fill="#dad7ec"/>
<rect x="40.62" y="38.63" width="1.43" height="1.44" fill="#5749a8"/>
<rect x="42.00" y="38.63" width="1.43" height="1.44" fill="#6d61b4"/>
<rect x="43.38" y="38.63" width="1.43" height="1.44" fill="#bab4db"/>
<rect x="44.75" y="38.63" width="1.43" height="1.44" fill="#afa8d6"/>
<rect x="46.12" y="38.63" width="1.43" height="1.44" fill="#a8a0d2"/>
<rect x="47.50" y="38.63" width="1.43" height="1.44" fill="#b7b1da"/>
<rect x="48.88" y="38.63" width="1.43" height="1.44" fill="#8b82c3"/>
<rect x="50.25" y="38.63" width="1.43" height="1.44" fill="#e8e6f3"/>
<rect x="51.62" y="38.63" width="1.43" height="1.44" fill="#d2cee7"/>
<rect x="53.00" y="38.63" width="1.43" height="1.44" fill="#b6b0d9"/>
<rect x="54.38" y="38.63" width="1.43" height="1.44" fill="#9188c6"/>
<rect x="55.75" y="38.63" width="1.43" height="1.44" fill="#b0aad6"/>
<rect x="57.12" y="38.63" width="1.43" height="1.44" fill="#5041a5"/>
<rect x="58.50" y="38.63" width="1.43" height="1.44" fill="#7d72bc"/>
<rect x="59.88" y="38.63" width="1.43" height="1.44" fill="#beb8dd"/>
<rect x="61.25" y="38.63" width="1.43" height="1.44" fill="#5c4eab"/>
<rect x="62.62" y="38.63" width="1.43" height="1.44" fill="#edaca3"/>
<rect x="64.00" y="38.63" width="1.43" height="1.44" fill="#edafa6"/>
<rect x="65.38" y="38.63" width="1.43" height="1.44" fill="#e9e8f4"/>
<rect x="66.75" y="38.63" width="1.43" height="1.44" fill="#f3cac4"/>
<rect x="68.12" y="38.63" width="1.43" height="1.44" fill="#f4cec9"/>
<rect x="69.50" y="38.63" width="1.43" height="1.44" fill="#e99a8f"/>
<rect x="70.88" y="38.63" width="1.43" height="1.44" fill="#e79084"/>
<rect x="72.25" y="38.63" width="1.43" height="1.44" fill="#f0bbb4"/>
<rect x="73.62" y="38.63" width="1.43" height="1.44" fill="#fcf2f0"/>
<rect x="75.00" y="38.63" width="1.43" height="1.44" fill="#f2c2bc"/>
<rect x="76.38" y="38.63" width="1.43" height="1.44" fill="#f0bdb6"/>
<rect x="77.75" y="38.63" width="1.43" height="1.44" fill="#e5887b"/>
<rect x="79.12" y="38.63" width="1.43" height="1.44" fill="#eba59c"/>
<rect x="80.50" y="38.63" width="1.43" height="1.44" fill="#968dc9"/>
<rect x="81.88" y="38.63" width="1.43" height="1.44" fill="#6e62b4"/>
<rect x="83.25" y="38.63" width="1.43" height="1.44" fill="#aca5d4"/>
<rect x="84.62" y="38.63" width="1.43" height="1.44" fill="#958cc8"/>
<rect x="31.00" y="40.02" width="1.43" height="1.44" fill="#5041a5"/>
<rect x="32.38" y="40.02" width="1.43" height="1.44" fill="#675ab1"/>
<rect x="33.75" y="40.02" width="1.43" height="1.44" fill="#5041a5"/>
<rect x="35.12" y="40.02" width="1.43" height="1.44" fill="#7569b8"/>
<rect x="36.50" y="40.02" width="1.43" height="1.44" fill="#9086c5"/>
<rect x="37.88" y="40.02" width="1.43" height="1.44" fill="#5446a7"/>
<rect x="39.25" y="40.02" width="1.43" height="1.44" fill="#fefcfb"/>
<rect x="40.62" y="40.02" width="1.43" height="1.44" fill="#5a4caa"/>
<rect x="42.00" y="40.02" width="1.43" height="1.44" fill="#b4aed8"/>
<rect x="43.38" y="40.02" width="1.43" height="1.44" fill="#766ab8"/>
<rect x="44.75" y="40.02" width="1.43" height="1.44" fill="#b5afd9"/>
<rect x="46.12" y="40.02" width="1.43" height="1.44" fill="#5041a5"/>
<rect x="47.50" y="40.02" width="1.43" height="1.44" fill="#5041a5"/>
<rect x="48.88" y="40.02" width="1.43" height="1.44" fill="#7e73bc"/>
<rect x="50.25" y="40.02" width="1.43" height="1.44" fill="#958bc8"/>
<rect x="51.62" y="40.02" width="1.43" height="1.44" fill="#fefbfa"/>
<rect x="53.00" y="40.02" width="1.43" height="1.44" fill="#8378bf"/>
<rect x="54.38" y="40.02" width="1.43" height="1.44" fill="#bfbade"/>
<rect x="55.75" y="40.02" width="1.43" height="1.44" fill="#9f97cd"/>
<rect x="57.12" y="40.02" width="1.43" height="1.44" fill="#aaa3d3"/>
<rect x="58.50" y="40.02" width="1.43" height="1.44" fill="#8f85c5"/>
<rect x="59.88" y="40.02" width="1.43" height="1.44" fill="#6557af"/>
<rect x="61.25" y="40.02" width="1.43" height="1.44" fill="#8f85c5"/>
<rect x="62.62" y="40.02" width="1.43" height="1.44" fill="#afa9d6"/>
<rect x="64.00" y="40.02" width="1.43" height="1.44" fill="#f0bbb4"/>
<rect x="65.38" y="40.02" width="1.43" height="1.44" fill="#b3add8"/>
<rect x="66.75" y="40.02" width="1.43" height="1.44" fill="#fdfaf9"/>
<rect x="68.12" y="40.02" width="1.43" height="1.44" fill="#e27d6f"/>
<rect x="69.50" y="40.02" width="1.43" height="1.44" fill="#e5e3f2"/>
<rect x="70.88" y="40.02" width="1.43" height="1.44" fill="#f5f4f9"/>
<rect x="72.25" y="40.02" width="1.43" height="1.44" fill="#f0bdb5"/>
<rect x="73.62" y="40.02" width="1.43" height="1.44" fill="#f5f4fa"/>
<rect x="75.00" y="40.02" width="1.43" height="1.44" fill="#c0bbdf"/>
<rect x="76.38" y="40.02" width="1.43" height="1.44" fill="#fdf9f8"/>
<rect x="77.75" y="40.02" width="1.43" height="1.44" fill="#f9e3e0"/>
<rect x="79.12" y="40.02" width="1.43" height="1.44" fill="#f7dbd7"/>
<rect x="80.50" y="40.02" width="1.43" height="1.44" fill="#5041a5"/>
<rect x="81.88" y="40.02" width="1.43" height="1.44" fill="#e5e3f2"/>
<rect x="83.25" y="40.02" width="1.43" height="1.44" fill="#e0ddef"/>
<rect x="84.62" y="40.02" width="1.43" height="1.44" fill="#786cb9"/>
<rect x="31.00" y="41.41" width="1.43" height="1.44" fill="#e8e6f3"/>
<rect x="32.38" y="41.41" width="1.43" height="1.44" fill="#bcb6dc"/>
<rect x="33.75" y="41.41" width="1.43" height="1.44" fill="#f3cac4"/>
<rect x="35.12" y="41.41" width="1.43" height="1.44" fill="#aba4d3"/>
<rect x="36.50" y="41.41" width="1.43" height="1.44" fill="#fefbfb"/>
<rect x="37.88" y="41.41" width="1.43" height="1.44" fill="#b9b3db"/>
<rect x="39.25" y="41.41" width="1.43" height="1.44" fill="#aba4d4"/>
<rect x="40.62" y="41.41" width="1.43" height="1.44" fill="#fdf8f7"/>
<rect x="42.00" y="41.41" width="1.43" height="1.44" fill="#f4cfca"/>
<rect x="43.38" y="41.41" width="1.43" height="1.44" fill="#d7d3ea"/>
<rect x="44.75" y="41.41" width="1.43" height="1.44" fill="#aca5d4"/>
<rect x="46.12" y="41.41" width="1.43" height="1.44" fill="#fcf2f0"/>
<rect x="47.50" y="41.41" width="1.43" height="1.44" fill="#d4d0e9"/>
<rect x="48.88" y="41.41" width="1.43" height="1.44" fill="#ebe9f4"/>
<rect x="50.25" y="41.41" width="1.43" height="1.44" fill="#f1c2bc"/>
<rect x="51.62" y="41.41" width="1.43" height="1.44" fill="#f7dcd9"/>
<rect x="53.00" y="41.41" width="1.43" height="1.44" fill="#b6b0d9"/>
<rect x="54.38" y="41.41" width="1.43" height="1.44" fill="#e79084"/>
<rect x="55.75" y="41.41" width="1.43" height="1.44" fill="#d7d4ea"/>
<rect x="57.12" y="41.41" width="1.43" height="1.44" fill="#fcf4f2"/>
<rect x="58.50" y="41.41" width="1.43" height="1.44" fill="#aea7d5"/>
<rect x="59.88" y="41.41" width="1.43" height="1.44" fill="#d4d1e9"/>
<rect x="61.25" y="41.41" width="1.43" height="1.44" fill="#695cb1"/>
<rect x="62.62" y="41.41" width="1.43" height="1.44" fill="#d74632"/>
<rect x="64.00" y="41.41" width="1.43" height="1.44" fill="#d74632"/>
<rect x="65.38" y="41.41" width="1.43" height="1.44" fill="#fbedeb"/>
<rect x="66.75" y="41.41" width="1.43" height="1.44" fill="#fdfdfe"/>
<rect x="68.12" y="41.41" width="1.43" height="1.44" fill="#f6f5fa"/>
<rect x="69.50" y="41.41" width="1.43" height="1.44" fill="#d84d3a"/>
<rect x="70.88" y="41.41" width="1.43" height="1.44" fill="#f0bab3"/>
<rect x="72.25" y="41.41" width="1.43" height="1.44" fill="#ea9f95"/>
<rect x="73.62" y="41.41" width="1.43" height="1.44" fill="#eeb0a8"/>
<rect x="75.00" y="41.41" width="1.43" height="1.44" fill="#eba49a"/>
<rect x="76.38" y="41.41" width="1.43" height="1.44" fill="#f9e4e1"/>
<rect x="77.75" y="41.41" width="1.43" height="1.44" fill="#e99a8f"/>
<rect x="79.12" y="41.41" width="1.43" height="1.44" fill="#fefbfb"/>
<rect x="80.50" y="41.41" width="1.43" height="1.44" fill="#dbd8ec"/>
<rect x="81.88" y="41.41" width="1.43" height="1.44" fill="#f3f2f9"/>
<rect x="83.25" y="41.41" width="1.43" height="1.44" fill="#fdfdfe"/>
<rect x="84.62" y="41.41" width="1.43" height="1.44" fill="#d1cde7"/>
<rect x="31.00" y="42.81" width="1.43" height="1.44" fill="#9086c5"/>
<rect x="32.38" y="42.81" width="1.43" height="1.44" fill="#d3cfe8"/>
<rect x="33.75" y="42.81" width="1.43" height="1.44" fill="#aaa3d3"/>
<rect x="35.12" y="42.81" width="1.43" height="1.44" fill="#f4cfca"/>
<rect x="36.50" y="42.81" width="1.43" height="1.44" fill="#f9f9fc"/>
<rect x="37.88" y="42.81" width="1.43" height="1.44" fill="#c1bcdf"/>
<rect x="39.25" y="42.81" width="1.43" height="1.44" fill="#aba4d4"/>
<rect x="40.62" y="42.81" width="1.43" height="1.44" fill="#9c94cc"/>
<rect x="42.00" y="42.81" width="1.43" height="1.44" fill="#8e84c4"/>
<rect x="43.38" y="42.81" width="1.43" height="1.44" fill="#b2acd7"/>
<rect x="44.75" y="42.81" width="1.43" height="1.44" fill="#dbd8ec"/>
<rect x="46.12" y="42.81" width="1.43" height="1.44" fill="#e9e7f4"/>
<rect x="47.50" y="42.81" width="1.43" height="1.44" fill="#edebf5"/>
<rect x="48.88" y="42.81" width="1.43" height="1.44" fill="#ecaba2"/>
<rect x="50.25" y="42.81" width="1.43" height="1.44" fill="#9c94cc"/>
<rect x="51.62" y="42.81" width="1.43" height="1.44" fill="#cac5e3"/>
<rect x="53.00" y="42.81" width="1.43" height="1.44" fill="#e27d6f"/>
<rect x="54.38" y="42.81" width="1.43" height="1.44" fill="#5344a6"/>
<rect x="55.75" y="42.81" width="1.43" height="1.44" fill="#a8a0d2"/>
<rect x="57.12" y="42.81" width="1.43" height="1.44" fill="#d3d0e8"/>
<rect x="58.50" y="42.81" width="1.43" height="1.44" fill="#d2cfe8"/>
<rect x="59.88" y="42.81" width="1.43" height="1.44" fill="#e3e0f0"/>
<rect x="61.25" y="42.81" width="1.43" height="1.44" fill="#bab4db"/>
<rect x="62.62" y="42.81" width="1.43" height="1.44" fill="#e79287"/>
<rect x="64.00" y="42.81" width="1.43" height="1.44" fill="#eca79e"/>
<rect x="65.38" y="42.81" width="1.43" height="1.44" fill="#e17769"/>
<rect x="66.75" y="42.81" width="1.43" height="1.44" fill="#d6d3ea"/>
<rect x="68.12" y="42.81" width="1.43" height="1.44" fill="#f9e6e3"/>
<rect x="69.50" y="42.81" width="1.43" height="1.44" fill="#ecaba2"/>
<rect x="70.88" y="42.81" width="1.43" height="1.44" fill="#fbf0ee"/>
<rect x="72.25" y="42.81" width="1.43" height="1.44" fill="#fbf1ef"/>
<rect x="73.62" y="42.81" width="1.43" height="1.44" fill="#e38173"/>
<rect x="75.00" y="42.81" width="1.43" height="1.44" fill="#f6d6d2"/>
<rect x="76.38" y="42.81" width="1.43" height="1.44" fill="#e38073"/>
<rect x="77.75" y="42.81" width="1.43" height="1.44" fill="#e2796a"/>
<rect x="79.12" y="42.81" width="1.43" height="1.44" fill="#e8968b"/>
<rect x="80.50" y="42.81" width="1.43" height="1.44" fill="#f1f0f8"/>
<rect x="81.88" y="42.81" width="1.43" height="1.44" fill="#cac6e4"/>
<rect x="83.25" y="42.81" width="1.43" height="1.44" fill="#786cb9"/>
<rect x="84.62" y="42.81" width="1.43" height="1.44" fill="#cfcbe6"/>
<rect x="31.00" y="44.20" width="1.43" height="1.44" fill="#e27b6d"/>
<rect x="32.38" y="44.20" width="1.43" height="1.44" fill="#f0bdb6"/>
<rect x="33.75" y="44.20" width="1.43" height="1.44" fill="#eaa096"/>
<rect x="35.12" y="44.20" width="1.43" height="1.44" fill="#de6757"/>
<rect x="36.50" y="44.20" width="1.43" height="1.44" fill="#f5d4d0"/>
<rect x="37.88" y="44.20" width="1.43" height="1.44" fill="#df6f5f"/>
<rect x="39.25" y="44.20" width="1.43" height="1.44" fill="#d74632"/>
<rect x="40.62" y="44.20" width="1.43" height="1.44" fill="#f1bfb8"/>
<rect x="42.00" y="44.20" width="1.43" height="1.44" fill="#e79084"/>
<rect x="43.38" y="44.20" width="1.43" height="1.44" fill="#eba49a"/>
<rect x="44.75" y="44.20" width="1.43" height="1.44" fill="#d74632"/>
<rect x="46.12" y="44.20" width="1.43" height="1.44" fill="#e48477"/>
<rect x="47.50" y="44.20" width="1.43" height="1.44" fill="#dc5e4c"/>
<rect x="48.88" y="44.20" width="1.43" height="1.44" fill="#f3c8c2"/>
<rect x="50.25" y="44.20" width="1.43" height="1.44" fill="#e99b90"/>
<rect x="51.62" y="44.20" width="1.43" height="1.44" fill="#e99a8f"/>
<rect x="53.00" y="44.20" width="1.43" height="1.44" fill="#eeecf6"/>
<rect x="54.38" y="44.20" width="1.43" height="1.44" fill="#d74632"/>
<rect x="55.75" y="44.20" width="1.43" height="1.44" fill="#dc5d4c"/>
<rect x="57.12" y="44.20" width="1.43" height="1.44" fill="#f0eef7"/>
<rect x="58.50" y="44.20" width="1.43" height="1.44" fill="#de6857"/>
<rect x="59.88" y="44.20" width="1.43" height="1.44" fill="#eba298"/>
<rect x="61.25" y="44.20" width="1.43" height="1.44" fill="#e27c6d"/>
<rect x="62.62" y="44.20" width="1.43" height="1.44" fill="#e38173"/>
<rect x="64.00" y="44.20" width="1.43" height="1.44" fill="#8378bf"/>
<rect x="65.38" y="44.20" width="1.43" height="1.44" fill="#d4d0e9"/>
<rect x="66.75" y="44.20" width="1.43" height="1.44" fill="#f0bab2"/>
<rect x="68.12" y="44.20" width="1.43" height="1.44" fill="#bdb7dd"/>
<rect x="69.50" y="44.20" width="1.43" height="1.44" fill="#a199ce"/>
<rect x="70.88" y="44.20" width="1.43" height="1.44" fill="#8b82c3"/>
<rect x="72.25" y="44.20" width="1.43" height="1.44" fill="#948bc8"/>
<rect x="73.62" y="44.20" width="1.43" height="1.44" fill="#f7f6fa"/>
<rect x="75.00" y="44.20" width="1.43" height="1.44" fill="#edaca3"/>
<rect x="76.38" y="44.20" width="1.43" height="1.44" fill="#fcfcfd"/>
<rect x="77.75" y="44.20" width="1.43" height="1.44" fill="#f1f0f7"/>
<rect x="79.12" y="44.20" width="1.43" height="1.44" fill="#e5887b"/>
<rect x="80.50" y="44.20" width="1.43" height="1.44" fill="#c1bbdf"/>
<rect x="81.88" y="44.20" width="1.43" height="1.44" fill="#b7b1da"/>
<rect x="83.25" y="44.20" width="1.43" height="1.44" fill="#fefafa"/>
<rect x="84.62" y="44.20" width="1.43" height="1.44" fill="#fdf9f8"/>
<rect x="31.00" y="45.59" width="1.43" height="1.44" fill="#c3bee0"/>
<rect x="32.38" y="45.59" width="1.43" height="1.44" fill="#b9b3db"/>
<rect x="33.75" y="45.59" width="1.43" height="1.44" fill="#f9e6e4"/>
<rect x="35.12" y="45.59" width="1.43" height="1.44" fill="#fae9e7"/>
<rect x="36.50" y="45.59" width="1.43" height="1.44" fill="#b0aad6"/>
<rect x="37.88" y="45.59" width="1.43" height="1.44" fill="#f6f6fa"/>
<rect x="39.25" y="45.59" width="1.43" height="1.44" fill="#e1deef"/>
<rect x="40.62" y="45.59" width="1.43" height="1.44" fill="#f7dbd7"/>
<rect x="42.00" y="45.59" width="1.43" height="1.44" fill="#fcfbfd"/>
<rect x="43.38" y="45.59" width="1.43" height="1.44" fill="#fefefe"/>
<rect x="44.75" y="45.59" width="1.43" height="1.44" fill="#edebf5"/>
<rect x="46.12" y="45.59" width="1.43" height="1.44" fill="#eeb3ab"/>
<rect x="47.50" y="45.59" width="1.43" height="1.44" fill="#e99d92"/>
<rect x="48.88" y="45.59" width="1.43" height="1.44" fill="#eceaf5"/>
<rect x="50.25" y="45.59" width="1.43" height="1.44" fill="#f1c1bb"/>
<rect x="51.62" y="45.59" width="1.43" height="1.44" fill="#d3cfe8"/>
<rect x="53.00" y="45.59" width="1.43" height="1.44" fill="#fcf5f4"/>
<rect x="54.38" y="45.59" width="1.43" height="1.44" fill="#f3c8c2"/>
<rect x="55.75" y="45.59" width="1.43" height="1.44" fill="#e89589"/>
<rect x="57.12" y="45.59" width="1.43" height="1.44" fill="#ebe9f4"/>
<rect x="58.50" y="45.59" width="1.43" height="1.44" fill="#fefefe"/>
<rect x="59.88" y="45.59" width="1.43" height="1.44" fill="#fbedeb"/>
<rect x="61.25" y="45.59" width="1.43" height="1.44" fill="#a49dd0"/>
<rect x="62.62" y="45.59" width="1.43" height="1.44" fill="#fdf9f8"/>
<rect x="64.00" y="45.59" width="1.43" height="1.44" fill="#5c4eab"/>
<rect x="65.38" y="45.59" width="1.43" height="1.44" fill="#9e96cd"/>
<rect x="66.75" y="45.59" width="1.43" height="1.44" fill="#5041a5"/>
<rect x="68.12" y="45.59" width="1.43" height="1.44" fill="#5041a5"/>
<rect x="69.50" y="45.59" width="1.43" height="1.44" fill="#897fc2"/>
<rect x="70.88" y="45.59" width="1.43" height="1.44" fill="#978ec9"/>
<rect x="72.25" y="45.59" width="1.43" height="1.44" fill="#6456af"/>
<rect x="73.62" y="45.59" width="1.43" height="1.44" fill="#beb9de"/>
<rect x="75.00" y="45.59" width="1.43" height="1.44" fill="#7569b8"/>
<rect x="76.38" y="45.59" width="1.43" height="1.44" fill="#6052ad"/>
<rect x="77.75" y="45.59" width="1.43" height="1.44" fill="#a59dd0"/>
<rect x="79.12" y="45.59" width="1.43" height="1.44" fill="#5041a5"/>
<rect x="80.50" y="45.59" width="1.43" height="1.44" fill="#5c4eab"/>
<rect x="81.88" y="45.59" width="1.43" height="1.44" fill="#857bc0"/>
<rect x="83.25" y="45.59" width="1.43" height="1.44" fill="#bcb6dc"/>
<rect x="84.62" y="45.59" width="1.43" height="1.44" fill="#7c71bb"/>
<rect x="31.00" y="46.99" width="1.43" height="1.44" fill="#fae7e5"/>
<rect x="32.38" y="46.99" width="1.43" height="1.44" fill="#d7d4ea"/>
<rect x="33.75" y="46.99" width="1.43" height="1.44" fill="#fae8e5"/>
<rect x="35.12" y="46.99" width="1.43" height="1.44" fill="#e68d81"/>
<rect x="36.50" y="46.99" width="1.43" height="1.44" fill="#d5d2e9"/>
<rect x="37.88" y="46.99" width="1.43" height="1.44" fill="#dc5e4d"/>
<rect x="39.25" y="46.99" width="1.43" height="1.44" fill="#d8d5eb"/>
<rect x="40.62" y="46.99" width="1.43" height="1.44" fill="#fefbfa"/>
<rect x="42.00" y="46.99" width="1.43" height="1.44" fill="#fbf0ef"/>
<rect x="43.38" y="46.99" width="1.43" height="1.44" fill="#efb8b0"/>
<rect x="44.75" y="46.99" width="1.43" height="1.44" fill="#b3acd8"/>
<rect x="46.12" y="46.99" width="1.43" height="1.44" fill="#7c71bb"/>
<rect x="47.50" y="46.99" width="1.43" height="1.44" fill="#f5d4cf"/>
<rect x="48.88" y="46.99" width="1.43" height="1.44" fill="#f2c7c1"/>
<rect x="50.25" y="46.99" width="1.43" height="1.44" fill="#f5d2ce"/>
<rect x="51.62" y="46.99" width="1.43" height="1.44" fill="#d84c39"/>
<rect x="53.00" y="46.99" width="1.43" height="1.44" fill="#fbeeed"/>
<rect x="54.38" y="46.99" width="1.43" height="1.44" fill="#faebe9"/>
<rect x="55.75" y="46.99" width="1.43" height="1.44" fill="#f1beb7"/>
<rect x="57.12" y="46.99" width="1.43" height="1.44" fill="#f9e3e0"/>
<rect x="58.50" y="46.99" width="1.43" height="1.44" fill="#e68d81"/>
<rect x="59.88" y="46.99" width="1.43" height="1.44" fill="#b3acd7"/>
<rect x="61.25" y="46.99" width="1.43" height="1.44" fill="#e9e7f4"/>
<rect x="62.62" y="46.99" width="1.43" height="1.44" fill="#5041a5"/>
<rect x="64.00" y="46.99" width="1.43" height="1.44" fill="#b7b1da"/>
<rect x="65.38" y="46.99" width="1.43" height="1.44" fill="#6d60b3"/>
<rect x="66.75" y="46.99" width="1.43" height="1.44" fill="#bfb9de"/>
<rect x="68.12" y="46.99" width="1.43" height="1.44" fill="#fbf0ee"/>
<rect x="69.50" y="46.99" width="1.43" height="1.44" fill="#8479bf"/>
<rect x="70.88" y="46.99" width="1.43" height="1.44" fill="#7468b7"/>
<rect x="72.25" y="46.99" width="1.43" height="1.44" fill="#6557af"/>
<rect x="73.62" y="46.99" width="1.43" height="1.44" fill="#5041a5"/>
<rect x="75.00" y="46.99" width="1.43" height="1.44" fill="#5c4eab"/>
<rect x="76.38" y="46.99" width="1.43" height="1.44" fill="#ada6d4"/>
<rect x="77.75" y="46.99" width="1.43" height="1.44" fill="#867cc1"/>
<rect x="79.12" y="46.99" width="1.43" height="1.44" fill="#887ec2"/>
<rect x="80.50" y="46.99" width="1.43" height="1.44" fill="#796eba"/>
<rect x="81.88" y="46.99" width="1.43" height="1.44" fill="#beb8dd"/>
<rect x="83.25" y="46.99" width="1.43" height="1.44" fill="#a39cd0"/>
<rect x="84.62" y="46.99" width="1.43" height="1.44" fill="#7b70bb"/>
<rect x="31.00" y="48.38" width="1.43" height="1.44" fill="#ecaaa1"/>
<rect x="32.38" y="48.38" width="1.43" height="1.44" fill="#f8e1dd"/>
<rect x="33.75" y="48.38" width="1.43" height="1.44" fill="#dcd9ed"/>
<rect x="35.12" y="48.38" width="1.43" height="1.44" fill="#e17566"/>
<rect x="36.50" y="48.38" width="1.43" height="1.44" fill="#efb7b0"/>
<rect x="37.88" y="48.38" width="1.43" height="1.44" fill="#e8e6f3"/>
<rect x="39.25" y="48.38" width="1.43" height="1.44" fill="#e68e82"/>
<rect x="40.62" y="48.38" width="1.43" height="1.44" fill="#f1bfb9"/>
<rect x="42.00" y="48.38" width="1.43" height="1.44" fill="#c2bcdf"/>
<rect x="43.38" y="48.38" width="1.43" height="1.44" fill="#df6b5b"/>
<rect x="44.75" y="48.38" width="1.43" height="1.44" fill="#f1c0b9"/>
<rect x="46.12" y="48.38" width="1.43" height="1.44" fill="#e99b90"/>
<rect x="47.50" y="48.38" width="1.43" height="1.44" fill="#f3c9c4"/>
<rect x="48.88" y="48.38" width="1.43" height="1.44" fill="#f8e0dd"/>
<rect x="50.25" y="48.38" width="1.43" height="1.44" fill="#c3bde0"/>
<rect x="51.62" y="48.38" width="1.43" height="1.44" fill="#e8968a"/>
<rect x="53.00" y="48.38" width="1.43" height="1.44" fill="#f5d4d0"/>
<rect x="54.38" y="48.38" width="1.43" height="1.44" fill="#faeae7"/>
<rect x="55.75" y="48.38" width="1.43" height="1.44" fill="#f1bfb8"/>
<rect x="57.12" y="48.38" width="1.43" height="1.44" fill="#f5d1cc"/>
<rect x="58.50" y="48.38" width="1.43" height="1.44" fill="#eca9a0"/>
<rect x="59.88" y="48.38" width="1.43" height="1.44" fill="#fbefee"/>
<rect x="61.25" y="48.38" width="1.43" height="1.44" fill="#f6d9d5"/>
<rect x="62.62" y="48.38" width="1.43" height="1.44" fill="#9d95cc"/>
<rect x="64.00" y="48.38" width="1.43" height="1.44" fill="#8d83c4"/>
<rect x="65.38" y="48.38" width="1.43" height="1.44" fill="#d2cfe8"/>
<rect x="66.75" y="48.38" width="1.43" height="1.44" fill="#fcfcfd"/>
<rect x="68.12" y="48.38" width="1.43" height="1.44" fill="#9187c6"/>
<rect x="69.50" y="48.38" width="1.43" height="1.44" fill="#a098ce"/>
<rect x="70.88" y="48.38" width="1.43" height="1.44" fill="#fbf1ef"/>
<rect x="72.25" y="48.38" width="1.43" height="1.44" fill="#938ac7"/>
<rect x="73.62" y="48.38" width="1.43" height="1.44" fill="#d6d3ea"/>
<rect x="75.00" y="48.38" width="1.43" height="1.44" fill="#faeae8"/>
<rect x="76.38" y="48.38" width="1.43" height="1.44" fill="#aaa3d3"/>
<rect x="77.75" y="48.38" width="1.43" height="1.44" fill="#f5f4fa"/>
<rect x="79.12" y="48.38" width="1.43" height="1.44" fill="#7b6fbb"/>
<rect x="80.50" y="48.38" width="1.43" height="1.44" fill="#b5aed9"/>
<rect x="81.88" y="48.38" width="1.43" height="1.44" fill="#a39bcf"/>
<rect x="83.25" y="48.38" width="1.43" height="1.44" fill="#afa8d6"/>
<rect x="84.62" y="48.38" width="1.43" height="1.44" fill="#efeef7"/>
<rect x="31.00" y="49.77" width="1.43" height="1.44" fill="#d74632"/>
<rect x="32.38" y="49.77" width="1.43" height="1.44" fill="#fbf0ef"/>
<rect x="33.75" y="49.77" width="1.43" height="1.44" fill="#faeae8"/>
<rect x="35.12" y="49.77" width="1.43" height="1.44" fill="#eba399"/>
<rect x="36.50" y="49.77" width="1.43" height="1.44" fill="#f3f2f9"/>
<rect x="37.88" y="49.77" width="1.43" height="1.44" fill="#eba399"/>
<rect x="39.25" y="49.77" width="1.43" height="1.44" fill="#ea9e93"/>
<rect x="40.62" y="49.77" width="1.43" height="1.44" fill="#f6d7d2"/>
<rect x="42.00" y="49.77" width="1.43" height="1.44" fill="#eaa196"/>
<rect x="43.38" y="49.77" width="1.43" height="1.44" fill="#d4d0e9"/>
<rect x="44.75" y="49.77" width="1.43" height="1.44" fill="#e79185"/>
<rect x="46.12" y="49.77" width="1.43" height="1.44" fill="#d4d1e9"/>
<rect x="47.50" y="49.77" width="1.43" height="1.44" fill="#fcf2f1"/>
<rect x="48.88" y="49.77" width="1.43" height="1.44" fill="#fae9e7"/>
<rect x="50.25" y="49.77" width="1.43" height="1.44" fill="#f8dfdb"/>
<rect x="51.62" y="49.77" width="1.43" height="1.44" fill="#e58b7e"/>
<rect x="53.00" y="49.77" width="1.43" height="1.44" fill="#f1bfb8"/>
<rect x="54.38" y="49.77" width="1.43" height="1.44" fill="#f8dfdb"/>
<rect x="55.75" y="49.77" width="1.43" height="1.44" fill="#eaa095"/>
<rect x="57.12" y="49.77" width="1.43" height="1.44" fill="#db5a49"/>
<rect x="58.50" y="49.77" width="1.43" height="1.44" fill="#f2c4bd"/>
<rect x="59.88" y="49.77" width="1.43" height="1.44" fill="#edaca3"/>
<rect x="61.25" y="49.77" width="1.43" height="1.44" fill="#e07162"/>
<rect x="62.62" y="49.77" width="1.43" height="1.44" fill="#eeb2aa"/>
<rect x="64.00" y="49.77" width="1.43" height="1.44" fill="#685bb1"/>
<rect x="65.38" y="49.77" width="1.43" height="1.44" fill="#eaa197"/>
<rect x="66.75" y="49.77" width="1.43" height="1.44" fill="#eeb4ac"/>
<rect x="68.12" y="49.77" width="1.43" height="1.44" fill="#5041a5"/>
<rect x="69.50" y="49.77" width="1.43" height="1.44" fill="#b7b1da"/>
<rect x="70.88" y="49.77" width="1.43" height="1.44" fill="#d4d0e8"/>
<rect x="72.25" y="49.77" width="1.43" height="1.44" fill="#f6f5fa"/>
<rect x="73.62" y="49.77" width="1.43" height="1.44" fill="#e3e1f1"/>
<rect x="75.00" y="49.77" width="1.43" height="1.44" fill="#a8a1d2"/>
<rect x="76.38" y="49.77" width="1.43" height="1.44" fill="#776bb9"/>
<rect x="77.75" y="49.77" width="1.43" height="1.44" fill="#c0bade"/>
<rect x="79.12" y="49.77" width="1.43" height="1.44" fill="#fafafc"/>
<rect x="80.50" y="49.77" width="1.43" height="1.44" fill="#7468b7"/>
<rect x="81.88" y="49.77" width="1.43" height="1.44" fill="#786db9"/>
<rect x="83.25" y="49.77" width="1.43" height="1.44" fill="#b8b2da"/>
<rect x="84.62" y="49.77" width="1.43" height="1.44" fill="#5041a5"/>
<rect x="31.00" y="51.17" width="1.43" height="1.44" fill="#eeb3ab"/>
<rect x="32.38" y="51.17" width="1.43" height="1.44" fill="#f1bfb8"/>
<rect x="33.75" y="51.17" width="1.43" height="1.44" fill="#e48477"/>
<rect x="35.12" y="51.17" width="1.43" height="1.44" fill="#f5d1cc"/>
<rect x="36.50" y="51.17" width="1.43" height="1.44" fill="#f7ddd9"/>
<rect x="37.88" y="51.17" width="1.43" height="1.44" fill="#f0bcb5"/>
<rect x="39.25" y="51.17" width="1.43" height="1.44" fill="#eba59c"/>
<rect x="40.62" y="51.17" width="1.43" height="1.44" fill="#f4cec9"/>
<rect x="42.00" y="51.17" width="1.43" height="1.44" fill="#eaa197"/>
<rect x="43.38" y="51.17" width="1.43" height="1.44" fill="#e07060"/>
<rect x="44.75" y="51.17" width="1.43" height="1.44" fill="#d95340"/>
<rect x="46.12" y="51.17" width="1.43" height="1.44" fill="#d74632"/>
<rect x="47.50" y="51.17" width="1.43" height="1.44" fill="#f6d6d2"/>
<rect x="48.88" y="51.17" width="1.43" height="1.44" fill="#f1beb7"/>
<rect x="50.25" y="51.17" width="1.43" height="1.44" fill="#b9b3db"/>
<rect x="51.62" y="51.17" width="1.43" height="1.44" fill="#d74632"/>
<rect x="53.00" y="51.17" width="1.43" height="1.44" fill="#f5d2ce"/>
<rect x="54.38" y="51.17" width="1.43" height="1.44" fill="#eba49a"/>
<rect x="55.75" y="51.17" width="1.43" height="1.44" fill="#e37f71"/>
<rect x="57.12" y="51.17" width="1.43" height="1.44" fill="#fefdfd"/>
<rect x="58.50" y="51.17" width="1.43" height="1.44" fill="#e48376"/>
<rect x="59.88" y="51.17" width="1.43" height="1.44" fill="#eba49a"/>
<rect x="61.25" y="51.17" width="1.43" height="1.44" fill="#e3e0f0"/>
<rect x="62.62" y="51.17" width="1.43" height="1.44" fill="#e68e82"/>
<rect x="64.00" y="51.17" width="1.43" height="1.44" fill="#f6d6d2"/>
<rect x="65.38" y="51.17" width="1.43" height="1.44" fill="#6356af"/>
<rect x="66.75" y="51.17" width="1.43" height="1.44" fill="#fbf0ee"/>
<rect x="68.12" y="51.17" width="1.43" height="1.44" fill="#e7e4f2"/>
<rect x="69.50" y="51.17" width="1.43" height="1.44" fill="#f7f7fb"/>
<rect x="70.88" y="51.17" width="1.43" height="1.44" fill="#f5f4fa"/>
<rect x="72.25" y="51.17" width="1.43" height="1.44" fill="#f4cfca"/>
<rect x="73.62" y="51.17" width="1.43" height="1.44" fill="#cbc7e4"/>
<rect x="75.00" y="51.17" width="1.43" height="1.44" fill="#faebe9"/>
<rect x="76.38" y="51.17" width="1.43" height="1.44" fill="#bfbade"/>
<rect x="77.75" y="51.17" width="1.43" height="1.44" fill="#fcf5f4"/>
<rect x="79.12" y="51.17" width="1.43" height="1.44" fill="#a69ed1"/>
<rect x="80.50" y="51.17" width="1.43" height="1.44" fill="#d2cfe8"/>
<rect x="81.88" y="51.17" width="1.43" height="1.44" fill="#eeb2aa"/>
<rect x="83.25" y="51.17" width="1.43" height="1.44" fill="#f5f5fa"/>
<rect x="84.62" y="51.17" width="1.43" height="1.44" fill="#cfcbe6"/>
<rect x="31.00" y="52.56" width="1.43" height="1.44" fill="#fefefe"/>
<rect x="32.38" y="52.56" width="1.43" height="1.44" fill="#f9e6e4"/>
<rect x="33.75" y="52.56" width="1.43" height="1.44" fill="#eba49b"/>
<rect x="35.12" y="52.56" width="1.43" height="1.44" fill="#e07364"/>
<rect x="36.50" y="52.56" width="1.43" height="1.44" fill="#e8958a"/>
<rect x="37.88" y="52.56" width="1.43" height="1.44" fill="#e68e82"/>
<rect x="39.25" y="52.56" width="1.43" height="1.44" fill="#eeb4ac"/>
<rect x="40.62" y="52.56" width="1.43" height="1.44" fill="#da5745"/>
<rect x="42.00" y="52.56" width="1.43" height="1.44" fill="#f3ccc6"/>
<rect x="43.38" y="52.56" width="1.43" height="1.44" fill="#f6d6d2"/>
<rect x="44.75" y="52.56" width="1.43" height="1.44" fill="#e17667"/>
<rect x="46.12" y="52.56" width="1.43" height="1.44" fill="#edada4"/>
<rect x="47.50" y="52.56" width="1.43" height="1.44" fill="#f2c4be"/>
<rect x="48.88" y="52.56" width="1.43" height="1.44" fill="#f6d8d4"/>
<rect x="50.25" y="52.56" width="1.43" height="1.44" fill="#f2c3bc"/>
<rect x="51.62" y="52.56" width="1.43" height="1.44" fill="#e5887b"/>
<rect x="53.00" y="52.56" width="1.43" height="1.44" fill="#e99a8f"/>
<rect x="54.38" y="52.56" width="1.43" height="1.44" fill="#fbfbfd"/>
<rect x="55.75" y="52.56" width="1.43" height="1.44" fill="#e8958a"/>
<rect x="57.12" y="52.56" width="1.43" height="1.44" fill="#eba59c"/>
<rect x="58.50" y="52.56" width="1.43" height="1.44" fill="#fcf4f3"/>
<rect x="59.88" y="52.56" width="1.43" height="1.44" fill="#e37e70"/>
<rect x="61.25" y="52.56" width="1.43" height="1.44" fill="#f2c4be"/>
<rect x="62.62" y="52.56" width="1.43" height="1.44" fill="#f3c8c2"/>
<rect x="64.00" y="52.56" width="1.43" height="1.44" fill="#fdfdfe"/>
<rect x="65.38" y="52.56" width="1.43" height="1.44" fill="#f7ddd9"/>
<rect x="66.75" y="52.56" width="1.43" height="1.44" fill="#9f97cd"/>
<rect x="68.12" y="52.56" width="1.43" height="1.44" fill="#e6e4f2"/>
<rect x="69.50" y="52.56" width="1.43" height="1.44" fill="#938ac7"/>
<rect x="70.88" y="52.56" width="1.43" height="1.44" fill="#e99b90"/>
<rect x="72.25" y="52.56" width="1.43" height="1.44" fill="#aca4d4"/>
<rect x="73.62" y="52.56" width="1.43" height="1.44" fill="#f9e5e3"/>
<rect x="75.00" y="52.56" width="1.43" height="1.44" fill="#a29acf"/>
<rect x="76.38" y="52.56" width="1.43" height="1.44" fill="#fefefe"/>
<rect x="77.75" y="52.56" width="1.43" height="1.44" fill="#eaa197"/>
<rect x="79.12" y="52.56" width="1.43" height="1.44" fill="#5041a5"/>
<rect x="80.50" y="52.56" width="1.43" height="1.44" fill="#afa8d6"/>
<rect x="81.88" y="52.56" width="1.43" height="1.44" fill="#eae9f4"/>
<rect x="83.25" y="52.56" width="1.43" height="1.44" fill="#c5c0e1"/>
<rect x="84.62" y="52.56" width="1.43" height="1.44" fill="#a098ce"/>
<rect x="31.00" y="53.95" width="1.43" height="1.44" fill="#eca79e"/>
<rect x="32.38" y="53.95" width="1.43" height="1.44" fill="#cecae6"/>
<rect x="33.75" y="53.95" width="1.43" height="1.44" fill="#6154ae"/>
<rect x="35.12" y="53.95" width="1.43" height="1.44" fill="#fefefe"/>
<rect x="36.50" y="53.95" width="1.43" height="1.44" fill="#5d4fab"/>
<rect x="37.88" y="53.95" width="1.43" height="1.44" fill="#faeae8"/>
<rect x="39.25" y="53.95" width="1.43" height="1.44" fill="#a59dd0"/>
<rect x="40.62" y="53.95" width="1.43" height="1.44" fill="#d2cfe8"/>
<rect x="42.00" y="53.95" width="1.43" height="1.44" fill="#f8e2df"/>
<rect x="43.38" y="53.95" width="1.43" height="1.44" fill="#d1cde7"/>
<rect x="44.75" y="53.95" width="1.43" height="1.44" fill="#7165b6"/>
<rect x="46.12" y="53.95" width="1.43" height="1.44" fill="#5e50ac"/>
<rect x="47.50" y="53.95" width="1.43" height="1.44" fill="#fae8e5"/>
<rect x="48.88" y="53.95" width="1.43" height="1.44" fill="#f8f8fb"/>
<rect x="50.25" y="53.95" width="1.43" height="1.44" fill="#968dc9"/>
<rect x="51.62" y="53.95" width="1.43" height="1.44" fill="#fefdfd"/>
<rect x="53.00" y="53.95" width="1.43" height="1.44" fill="#e9e7f3"/>
<rect x="54.38" y="53.95" width="1.43" height="1.44" fill="#f2f1f8"/>
<rect x="55.75" y="53.95" width="1.43" height="1.44" fill="#5041a5"/>
<rect x="57.12" y="53.95" width="1.43" height="1.44" fill="#b6b0d9"/>
<rect x="58.50" y="53.95" width="1.43" height="1.44" fill="#fefbfa"/>
<rect x="59.88" y="53.95" width="1.43" height="1.44" fill="#f8f7fb"/>
<rect x="61.25" y="53.95" width="1.43" height="1.44" fill="#fefcfc"/>
<rect x="62.62" y="53.95" width="1.43" height="1.44" fill="#9a92cb"/>
<rect x="64.00" y="53.95" width="1.43" height="1.44" fill="#f0b9b2"/>
<rect x="65.38" y="53.95" width="1.43" height="1.44" fill="#eba49a"/>
<rect x="66.75" y="53.95" width="1.43" height="1.44" fill="#d74632"/>
<rect x="68.12" y="53.95" width="1.43" height="1.44" fill="#f9f9fc"/>
<rect x="69.50" y="53.95" width="1.43" height="1.44" fill="#f7dad7"/>
<rect x="70.88" y="53.95" width="1.43" height="1.44" fill="#f1c2bc"/>
<rect x="72.25" y="53.95" width="1.43" height="1.44" fill="#e5897d"/>
<rect x="73.62" y="53.95" width="1.43" height="1.44" fill="#f8e2df"/>
<rect x="75.00" y="53.95" width="1.43" height="1.44" fill="#e17869"/>
<rect x="76.38" y="53.95" width="1.43" height="1.44" fill="#fdf9f8"/>
<rect x="77.75" y="53.95" width="1.43" height="1.44" fill="#df6c5d"/>
<rect x="79.12" y="53.95" width="1.43" height="1.44" fill="#eaa197"/>
<rect x="80.50" y="53.95" width="1.43" height="1.44" fill="#e07465"/>
<rect x="81.88" y="53.95" width="1.43" height="1.44" fill="#edaca3"/>
<rect x="83.25" y="53.95" width="1.43" height="1.44" fill="#fae9e6"/>
<rect x="84.62" y="53.95" width="1.43" height="1.44" fill="#d74632"/>
<rect x="31.00" y="55.35" width="1.43" height="1.44" fill="#aca5d4"/>
<rect x="32.38" y="55.35" width="1.43" height="1.44" fill="#766ab8"/>
<rect x="33.75" y="55.35" width="1.43" height="1.44" fill="#a69ed1"/>
<rect x="35.12" y="55.35" width="1.43" height="1.44" fill="#d8d4ea"/>
<rect x="36.50" y="55.35" width="1.43" height="1.44" fill="#5b4dab"/>
<rect x="37.88" y="55.35" width="1.43" height="1.44" fill="#9289c7"/>
<rect x="39.25" y="55.35" width="1.43" height="1.44" fill="#bbb5dc"/>
<rect x="40.62" y="55.35" width="1.43" height="1.44" fill="#bab4db"/>
<rect x="42.00" y="55.35" width="1.43" height="1.44" fill="#8479bf"/>
<rect x="43.38" y="55.35" width="1.43" height="1.44" fill="#5041a5"/>
<rect x="44.75" y="55.35" width="1.43" height="1.44" fill="#e8e6f3"/>
<rect x="46.12" y="55.35" width="1.43" height="1.44" fill="#aea7d5"/>
<rect x="47.50" y="55.35" width="1.43" height="1.44" fill="#9a91cb"/>
<rect x="48.88" y="55.35" width="1.43" height="1.44" fill="#877dc1"/>
<rect x="50.25" y="55.35" width="1.43" height="1.44" fill="#aaa2d3"/>
<rect x="51.62" y="55.35" width="1.43" height="1.44" fill="#7e73bc"/>
<rect x="53.00" y="55.35" width="1.43" height="1.44" fill="#584aa9"/>
<rect x="54.38" y="55.35" width="1.43" height="1.44" fill="#6a5eb2"/>
<rect x="55.75" y="55.35" width="1.43" height="1.44" fill="#7367b7"/>
<rect x="57.12" y="55.35" width="1.43" height="1.44" fill="#7266b6"/>
<rect x="58.50" y="55.35" width="1.43" height="1.44" fill="#5041a5"/>
<rect x="59.88" y="55.35" width="1.43" height="1.44" fill="#c1bcdf"/>
<rect x="61.25" y="55.35" width="1.43" height="1.44" fill="#5041a5"/>
<rect x="62.62" y="55.35" width="1.43" height="1.44" fill="#f3ccc6"/>
<rect x="64.00" y="55.35" width="1.43" height="1.44" fill="#c5c0e1"/>
<rect x="65.38" y="55.35" width="1.43" height="1.44" fill="#f8e0dd"/>
<rect x="66.75" y="55.35" width="1.43" height="1.44" fill="#e99c91"/>
<rect x="68.12" y="55.35" width="1.43" height="1.44" fill="#faeae8"/>
<rect x="69.50" y="55.35" width="1.43" height="1.44" fill="#d7d3ea"/>
<rect x="70.88" y="55.35" width="1.43" height="1.44" fill="#fcf4f3"/>
<rect x="72.25" y="55.35" width="1.43" height="1.44" fill="#fbeeec"/>
<rect x="73.62" y="55.35" width="1.43" height="1.44" fill="#988fca"/>
<rect x="75.00" y="55.35" width="1.43" height="1.44" fill="#dfdcee"/>
<rect x="76.38" y="55.35" width="1.43" height="1.44" fill="#fbedeb"/>
<rect x="77.75" y="55.35" width="1.43" height="1.44" fill="#f5d1cc"/>
<rect x="79.12" y="55.35" width="1.43" height="1.44" fill="#edaca3"/>
<rect x="80.50" y="55.35" width="1.43" height="1.44" fill="#e38073"/>
<rect x="81.88" y="55.35" width="1.43" height="1.44" fill="#e37e70"/>
<rect x="83.25" y="55.35" width="1.43" height="1.44" fill="#e17566"/>
<rect x="84.62" y="55.35" width="1.43" height="1.44" fill="#e58a7d"/>
<rect x="31.00" y="56.74" width="1.43" height="1.44" fill="#aea7d5"/>
<rect x="32.38" y="56.74" width="1.43" height="1.44" fill="#bfbade"/>
<rect x="33.75" y="56.74" width="1.43" height="1.44" fill="#afa9d6"/>
<rect x="35.12" y="56.74" width="1.43" height="1.44" fill="#ada6d4"/>
<rect x="36.50" y="56.74" width="1.43" height="1.44" fill="#b5afd9"/>
<rect x="37.88" y="56.74" width="1.43" height="1.44" fill="#5445a7"/>
<rect x="39.25" y="56.74" width="1.43" height="1.44" fill="#aba4d4"/>
<rect x="40.62" y="56.74" width="1.43" height="1.44" fill="#bfbade"/>
<rect x="42.00" y="56.74" width="1.43" height="1.44" fill="#8378bf"/>
<rect x="43.38" y="56.74" width="1.43" height="1.44" fill="#bfbade"/>
<rect x="44.75" y="56.74" width="1.43" height="1.44" fill="#e1dfef"/>
<rect x="46.12" y="56.74" width="1.43" height="1.44" fill="#b6b0d9"/>
<rect x="47.50" y="56.74" width="1.43" height="1.44" fill="#efb5ad"/>
<rect x="48.88" y="56.74" width="1.43" height="1.44" fill="#5041a5"/>
<rect x="50.25" y="56.74" width="1.43" height="1.44" fill="#b3add8"/>
<rect x="51.62" y="56.74" width="1.43" height="1.44" fill="#5041a5"/>
<rect x="53.00" y="56.74" width="1.43" height="1.44" fill="#fefefe"/>
<rect x="54.38" y="56.74" width="1.43" height="1.44" fill="#e68f83"/>
<rect x="55.75" y="56.74" width="1.43" height="1.44" fill="#5041a5"/>
<rect x="57.12" y="56.74" width="1.43" height="1.44" fill="#c9c4e3"/>
<rect x="58.50" y="56.74" width="1.43" height="1.44" fill="#e1dfef"/>
<rect x="59.88" y="56.74" width="1.43" height="1.44" fill="#ada6d5"/>
<rect x="61.25" y="56.74" width="1.43" height="1.44" fill="#e3e1f1"/>
<rect x="62.62" y="56.74" width="1.43" height="1.44" fill="#9f97cd"/>
<rect x="64.00" y="56.74" width="1.43" height="1.44" fill="#e89589"/>
<rect x="65.38" y="56.74" width="1.43" height="1.44" fill="#efb5ad"/>
<rect x="66.75" y="56.74" width="1.43" height="1.44" fill="#f4ccc7"/>
<rect x="68.12" y="56.74" width="1.43" height="1.44" fill="#fcf5f4"/>
<rect x="69.50" y="56.74" width="1.43" height="1.44" fill="#eba399"/>
<rect x="70.88" y="56.74" width="1.43" height="1.44" fill="#fbeeec"/>
<rect x="72.25" y="56.74" width="1.43" height="1.44" fill="#f1bfb8"/>
<rect x="73.62" y="56.74" width="1.43" height="1.44" fill="#fbf0ee"/>
<rect x="75.00" y="56.74" width="1.43" height="1.44" fill="#9f96cd"/>
<rect x="76.38" y="56.74" width="1.43" height="1.44" fill="#f4d0cb"/>
<rect x="77.75" y="56.74" width="1.43" height="1.44" fill="#e27a6c"/>
<rect x="79.12" y="56.74" width="1.43" height="1.44" fill="#da5543"/>
<rect x="80.50" y="56.74" width="1.43" height="1.44" fill="#f1c2bb"/>
<rect x="81.88" y="56.74" width="1.43" height="1.44" fill="#e58a7d"/>
<rect x="83.25" y="56.74" width="1.43" height="1.44" fill="#dc5e4d"/>
<rect x="84.62" y="56.74" width="1.43" height="1.44" fill="#e37e70"/>
<rect x="31.00" y="58.13" width="1.43" height="1.44" fill="#faf9fc"/>
<rect x="32.38" y="58.13" width="1.43" height="1.44" fill="#f5d2cd"/>
<rect x="33.75" y="58.13" width="1.43" height="1.44" fill="#7266b6"/>
<rect x="35.12" y="58.13" width="1.43" height="1.44" fill="#5041a5"/>
<rect x="36.50" y="58.13" width="1.43" height="1.44" fill="#e1dfef"/>
<rect x="37.88" y="58.13" width="1.43" height="1.44" fill="#fbf0ef"/>
<rect x="39.25" y="58.13" width="1.43" height="1.44" fill="#e5e3f2"/>
<rect x="40.62" y="58.13" width="1.43" height="1.44" fill="#dfdcee"/>
<rect x="42.00" y="58.13" width="1.43" height="1.44" fill="#847ac0"/>
<rect x="43.38" y="58.13" width="1.43" height="1.44" fill="#7e73bc"/>
<rect x="44.75" y="58.13" width="1.43" height="1.44" fill="#e3e1f0"/>
<rect x="46.12" y="58.13" width="1.43" height="1.44" fill="#7265b6"/>
<rect x="47.50" y="58.13" width="1.43" height="1.44" fill="#5041a5"/>
<rect x="48.88" y="58.13" width="1.43" height="1.44" fill="#6c60b3"/>
<rect x="50.25" y="58.13" width="1.43" height="1.44" fill="#eeb0a8"/>
<rect x="51.62" y="58.13" width="1.43" height="1.44" fill="#f6d6d2"/>
<rect x="53.00" y="58.13" width="1.43" height="1.44" fill="#8075bd"/>
<rect x="54.38" y="58.13" width="1.43" height="1.44" fill="#7d72bc"/>
<rect x="55.75" y="58.13" width="1.43" height="1.44" fill="#bab4db"/>
<rect x="57.12" y="58.13" width="1.43" height="1.44" fill="#7c71bb"/>
<rect x="58.50" y="58.13" width="1.43" height="1.44" fill="#fefefe"/>
<rect x="59.88" y="58.13" width="1.43" height="1.44" fill="#a69fd1"/>
<rect x="61.25" y="58.13" width="1.43" height="1.44" fill="#6759b0"/>
<rect x="62.62" y="58.13" width="1.43" height="1.44" fill="#d74632"/>
<rect x="64.00" y="58.13" width="1.43" height="1.44" fill="#eeb3ab"/>
<rect x="65.38" y="58.13" width="1.43" height="1.44" fill="#e37e70"/>
<rect x="66.75" y="58.13" width="1.43" height="1.44" fill="#e68d81"/>
<rect x="68.12" y="58.13" width="1.43" height="1.44" fill="#eaa297"/>
<rect x="69.50" y="58.13" width="1.43" height="1.44" fill="#e17768"/>
<rect x="70.88" y="58.13" width="1.43" height="1.44" fill="#f0bbb3"/>
<rect x="72.25" y="58.13" width="1.43" height="1.44" fill="#f6f5fa"/>
<rect x="73.62" y="58.13" width="1.43" height="1.44" fill="#dfdcee"/>
<rect x="75.00" y="58.13" width="1.43" height="1.44" fill="#f8e1de"/>
<rect x="76.38" y="58.13" width="1.43" height="1.44" fill="#f1bfb8"/>
<rect x="77.75" y="58.13" width="1.43" height="1.44" fill="#e68e82"/>
<rect x="79.12" y="58.13" width="1.43" height="1.44" fill="#e5897c"/>
<rect x="80.50" y="58.13" width="1.43" height="1.44" fill="#de6757"/>
<rect x="81.88" y="58.13" width="1.43" height="1.44" fill="#e48577"/>
<rect x="83.25" y="58.13" width="1.43" height="1.44" fill="#f1c2bb"/>
<rect x="84.62" y="58.13" width="1.43" height="1.44" fill="#f0bcb5"/>
<rect x="31.00" y="59.53" width="1.43" height="1.44" fill="#5041a5"/>
<rect x="32.38" y="59.53" width="1.43" height="1.44" fill="#7569b8"/>
<rect x="33.75" y="59.53" width="1.43" height="1.44" fill="#9e96cd"/>
<rect x="35.12" y="59.53" width="1.43" height="1.44" fill="#a199ce"/>
<rect x="36.50" y="59.53" width="1.43" height="1.44" fill="#786cb9"/>
<rect x="37.88" y="59.53" width="1.43" height="1.44" fill="#7468b7"/>
<rect x="39.25" y="59.53" width="1.43" height="1.44" fill="#bab5db"/>
<rect x="40.62" y="59.53" width="1.43" height="1.44" fill="#8075be"/>
<rect x="42.00" y="59.53" width="1.43" height="1.44" fill="#aea7d5"/>
<rect x="43.38" y="59.53" width="1.43" height="1.44" fill="#a49cd0"/>
<rect x="44.75" y="59.53" width="1.43" height="1.44" fill="#8d83c4"/>
<rect x="46.12" y="59.53" width="1.43" height="1.44" fill="#d2cee8"/>
<rect x="47.50" y="59.53" width="1.43" height="1.44" fill="#5b4daa"/>
<rect x="48.88" y="59.53" width="1.43" height="1.44" fill="#695cb1"/>
<rect x="50.25" y="59.53" width="1.43" height="1.44" fill="#5041a5"/>
<rect x="51.62" y="59.53" width="1.43" height="1.44" fill="#5041a5"/>
<rect x="53.00" y="59.53" width="1.43" height="1.44" fill="#e2dff0"/>
<rect x="54.38" y="59.53" width="1.43" height="1.44" fill="#eeedf6"/>
<rect x="55.75" y="59.53" width="1.43" height="1.44" fill="#8176be"/>
<rect x="57.12" y="59.53" width="1.43" height="1.44" fill="#a39bd0"/>
<rect x="58.50" y="59.53" width="1.43" height="1.44" fill="#cac5e3"/>
<rect x="59.88" y="59.53" width="1.43" height="1.44" fill="#b2acd7"/>
<rect x="61.25" y="59.53" width="1.43" height="1.44" fill="#cbc7e4"/>
<rect x="62.62" y="59.53" width="1.43" height="1.44" fill="#efedf6"/>
<rect x="64.00" y="59.53" width="1.43" height="1.44" fill="#f9e6e3"/>
<rect x="65.38" y="59.53" width="1.43" height="1.44" fill="#e99d92"/>
<rect x="66.75" y="59.53" width="1.43" height="1.44" fill="#db5b49"/>
<rect x="68.12" y="59.53" width="1.43" height="1.44" fill="#eeb4ac"/>
<rect x="69.50" y="59.53" width="1.43" height="1.44" fill="#fcf4f3"/>
<rect x="70.88" y="59.53" width="1.43" height="1.44" fill="#f5d3ce"/>
<rect x="72.25" y="59.53" width="1.43" height="1.44" fill="#f9e7e4"/>
<rect x="73.62" y="59.53" width="1.43" height="1.44" fill="#fcf4f3"/>
<rect x="75.00" y="59.53" width="1.43" height="1.44" fill="#da5744"/>
<rect x="76.38" y="59.53" width="1.43" height="1.44" fill="#f9e5e2"/>
<rect x="77.75" y="59.53" width="1.43" height="1.44" fill="#f0bab2"/>
<rect x="79.12" y="59.53" width="1.43" height="1.44" fill="#d74632"/>
<rect x="80.50" y="59.53" width="1.43" height="1.44" fill="#df6c5c"/>
<rect x="81.88" y="59.53" width="1.43" height="1.44" fill="#eba49b"/>
<rect x="83.25" y="59.53" width="1.43" height="1.44" fill="#f9e4e1"/>
<rect x="84.62" y="59.53" width="1.43" height="1.44" fill="#ea9f95"/>
<rect x="31.00" y="60.92" width="1.43" height="1.44" fill="#eeb0a8"/>
<rect x="32.38" y="60.92" width="1.43" height="1.44" fill="#fcf3f2"/>
<rect x="33.75" y="60.92" width="1.43" height="1.44" fill="#f3c8c2"/>
<rect x="35.12" y="60.92" width="1.43" height="1.44" fill="#e8e6f3"/>
<rect x="36.50" y="60.92" width="1.43" height="1.44" fill="#fefafa"/>
<rect x="37.88" y="60.92" width="1.43" height="1.44" fill="#d5d2e9"/>
<rect x="39.25" y="60.92" width="1.43" height="1.44" fill="#fdfdfe"/>
<rect x="40.62" y="60.92" width="1.43" height="1.44" fill="#f2c6bf"/>
<rect x="42.00" y="60.92" width="1.43" height="1.44" fill="#887ec1"/>
<rect x="43.38" y="60.92" width="1.43" height="1.44" fill="#dedbee"/>
<rect x="44.75" y="60.92" width="1.43" height="1.44" fill="#f1f0f8"/>
<rect x="46.12" y="60.92" width="1.43" height="1.44" fill="#beb9dd"/>
<rect x="47.50" y="60.92" width="1.43" height="1.44" fill="#cfcbe6"/>
<rect x="48.88" y="60.92" width="1.43" height="1.44" fill="#fae8e5"/>
<rect x="50.25" y="60.92" width="1.43" height="1.44" fill="#e8978c"/>
<rect x="51.62" y="60.92" width="1.43" height="1.44" fill="#fcf2f1"/>
<rect x="53.00" y="60.92" width="1.43" height="1.44" fill="#f7f6fb"/>
<rect x="54.38" y="60.92" width="1.43" height="1.44" fill="#8075be"/>
<rect x="55.75" y="60.92" width="1.43" height="1.44" fill="#e99c91"/>
<rect x="57.12" y="60.92" width="1.43" height="1.44" fill="#e7e5f2"/>
<rect x="58.50" y="60.92" width="1.43" height="1.44" fill="#e0ddef"/>
<rect x="59.88" y="60.92" width="1.43" height="1.44" fill="#9b93cc"/>
<rect x="61.25" y="60.92" width="1.43" height="1.44" fill="#dfdcee"/>
<rect x="62.62" y="60.92" width="1.43" height="1.44" fill="#e99c91"/>
<rect x="64.00" y="60.92" width="1.43" height="1.44" fill="#d84e3b"/>
<rect x="65.38" y="60.92" width="1.43" height="1.44" fill="#d74632"/>
<rect x="66.75" y="60.92" width="1.43" height="1.44" fill="#d9503d"/>
<rect x="68.12" y="60.92" width="1.43" height="1.44" fill="#d74632"/>
<rect x="69.50" y="60.92" width="1.43" height="1.44" fill="#e68b7f"/>
<rect x="70.88" y="60.92" width="1.43" height="1.44" fill="#d74632"/>
<rect x="72.25" y="60.92" width="1.43" height="1.44" fill="#e37e70"/>
<rect x="73.62" y="60.92" width="1.43" height="1.44" fill="#f4ccc6"/>
<rect x="75.00" y="60.92" width="1.43" height="1.44" fill="#dc5f4e"/>
<rect x="76.38" y="60.92" width="1.43" height="1.44" fill="#e48578"/>
<rect x="77.75" y="60.92" width="1.43" height="1.44" fill="#e8968a"/>
<rect x="79.12" y="60.92" width="1.43" height="1.44" fill="#de6a5a"/>
<rect x="80.50" y="60.92" width="1.43" height="1.44" fill="#d74632"/>
<rect x="81.88" y="60.92" width="1.43" height="1.44" fill="#eaa197"/>
<rect x="83.25" y="60.92" width="1.43" height="1.44" fill="#db5c4a"/>
<rect x="84.62" y="60.92" width="1.43" height="1.44" fill="#d74632"/>
<rect x="31.00" y="62.31" width="1.43" height="1.44" fill="#dddaed"/>
<rect x="32.38" y="62.31" width="1.43" height="1.44" fill="#a8a1d2"/>
<rect x="33.75" y="62.31" width="1.43" height="1.44" fill="#bab4db"/>
<rect x="35.12" y="62.31" width="1.43" height="1.44" fill="#aaa3d3"/>
<rect x="36.50" y="62.31" width="1.43" height="1.44" fill="#afa8d6"/>
<rect x="37.88" y="62.31" width="1.43" height="1.44" fill="#e0deef"/>
<rect x="39.25" y="62.31" width="1.43" height="1.44" fill="#aca5d4"/>
<rect x="40.62" y="62.31" width="1.43" height="1.44" fill="#5041a5"/>
<rect x="42.00" y="62.31" width="1.43" height="1.44" fill="#b1aad6"/>
<rect x="43.38" y="62.31" width="1.43" height="1.44" fill="#7a6eba"/>
<rect x="44.75" y="62.31" width="1.43" height="1.44" fill="#dbd8ec"/>
<rect x="46.12" y="62.31" width="1.43" height="1.44" fill="#8b81c3"/>
<rect x="47.50" y="62.31" width="1.43" height="1.44" fill="#bbb5dc"/>
<rect x="48.88" y="62.31" width="1.43" height="1.44" fill="#f1beb7"/>
<rect x="50.25" y="62.31" width="1.43" height="1.44" fill="#7064b5"/>
<rect x="51.62" y="62.31" width="1.43" height="1.44" fill="#6b5eb3"/>
<rect x="53.00" y="62.31" width="1.43" height="1.44" fill="#594ba9"/>
<rect x="54.38" y="62.31" width="1.43" height="1.44" fill="#5041a5"/>
<rect x="55.75" y="62.31" width="1.43" height="1.44" fill="#5041a5"/>
<rect x="57.12" y="62.31" width="1.43" height="1.44" fill="#c9c4e3"/>
<rect x="58.50" y="62.31" width="1.43" height="1.44" fill="#8a80c2"/>
<rect x="59.88" y="62.31" width="1.43" height="1.44" fill="#5041a5"/>
<rect x="61.25" y="62.31" width="1.43" height="1.44" fill="#5446a7"/>
<rect x="62.62" y="62.31" width="1.43" height="1.44" fill="#db5c4b"/>
<rect x="64.00" y="62.31" width="1.43" height="1.44" fill="#f0b9b2"/>
<rect x="65.38" y="62.31" width="1.43" height="1.44" fill="#ea9e93"/>
<rect x="66.75" y="62.31" width="1.43" height="1.44" fill="#e06f60"/>
<rect x="68.12" y="62.31" width="1.43" height="1.44" fill="#d74632"/>
<rect x="69.50" y="62.31" width="1.43" height="1.44" fill="#d74632"/>
<rect x="70.88" y="62.31" width="1.43" height="1.44" fill="#d74632"/>
<rect x="72.25" y="62.31" width="1.43" height="1.44" fill="#e27c6e"/>
<rect x="73.62" y="62.31" width="1.43" height="1.44" fill="#e2796b"/>
<rect x="75.00" y="62.31" width="1.43" height="1.44" fill="#d74632"/>
<rect x="76.38" y="62.31" width="1.43" height="1.44" fill="#d74632"/>
<rect x="77.75" y="62.31" width="1.43" height="1.44" fill="#e99a8f"/>
<rect x="79.12" y="62.31" width="1.43" height="1.44" fill="#de6756"/>
<rect x="80.50" y="62.31" width="1.43" height="1.44" fill="#e07263"/>
<rect x="81.88" y="62.31" width="1.43" height="1.44" fill="#e48274"/>
<rect x="83.25" y="62.31" width="1.43" height="1.44" fill="#eca79d"/>
<rect x="84.62" y="62.31" width="1.43" height="1.44" fill="#f7deda"/>
<rect x="31.00" y="63.71" width="1.43" height="1.44" fill="#aba4d3"/>
<rect x="32.38" y="63.71" width="1.43" height="1.44" fill="#6b5eb3"/>
<rect x="33.75" y="63.71" width="1.43" height="1.44" fill="#f8e2df"/>
<rect x="35.12" y="63.71" width="1.43" height="1.44" fill="#eeedf6"/>
<rect x="36.50" y="63.71" width="1.43" height="1.44" fill="#8075be"/>
<rect x="37.88" y="63.71" width="1.43" height="1.44" fill="#f6d6d2"/>
<rect x="39.25" y="63.71" width="1.43" height="1.44" fill="#fdf8f7"/>
<rect x="40.62" y="63.71" width="1.43" height="1.44" fill="#5445a7"/>
<rect x="42.00" y="63.71" width="1.43" height="1.44" fill="#efb8b1"/>
<rect x="43.38" y="63.71" width="1.43" height="1.44" fill="#fefdfd"/>
<rect x="44.75" y="63.71" width="1.43" height="1.44" fill="#ecaaa0"/>
<rect x="46.12" y="63.71" width="1.43" height="1.44" fill="#7f74bd"/>
<rect x="47.50" y="63.71" width="1.43" height="1.44" fill="#eeedf6"/>
<rect x="48.88" y="63.71" width="1.43" height="1.44" fill="#e7e5f3"/>
<rect x="50.25" y="63.71" width="1.43" height="1.44" fill="#d9d6eb"/>
<rect x="51.62" y="63.71" width="1.43" height="1.44" fill="#d7d4ea"/>
<rect x="53.00" y="63.71" width="1.43" height="1.44" fill="#fbedeb"/>
<rect x="54.38" y="63.71" width="1.43" height="1.44" fill="#6e62b4"/>
<rect x="55.75" y="63.71" width="1.43" height="1.44" fill="#7e73bc"/>
<rect x="57.12" y="63.71" width="1.43" height="1.44" fill="#7469b7"/>
<rect x="58.50" y="63.71" width="1.43" height="1.44" fill="#a9a2d3"/>
<rect x="59.88" y="63.71" width="1.43" height="1.44" fill="#a69fd1"/>
<rect x="61.25" y="63.71" width="1.43" height="1.44" fill="#e4e1f1"/>
<rect x="62.62" y="63.71" width="1.43" height="1.44" fill="#da5745"/>
<rect x="64.00" y="63.71" width="1.43" height="1.44" fill="#de6757"/>
<rect x="65.38" y="63.71" width="1.43" height="1.44" fill="#e8968b"/>
<rect x="66.75" y="63.71" width="1.43" height="1.44" fill="#e5877a"/>
<rect x="68.12" y="63.71" width="1.43" height="1.44" fill="#d74632"/>
<rect x="69.50" y="63.71" width="1.43" height="1.44" fill="#d74632"/>
<rect x="70.88" y="63.71" width="1.43" height="1.44" fill="#dd6352"/>
<rect x="72.25" y="63.71" width="1.43" height="1.44" fill="#e37f71"/>
<rect x="73.62" y="63.71" width="1.43" height="1.44" fill="#d74632"/>
<rect x="75.00" y="63.71" width="1.43" height="1.44" fill="#e79185"/>
<rect x="76.38" y="63.71" width="1.43" height="1.44" fill="#d74632"/>
<rect x="77.75" y="63.71" width="1.43" height="1.44" fill="#d74632"/>
<rect x="79.12" y="63.71" width="1.43" height="1.44" fill="#e27b6d"/>
<rect x="80.50" y="63.71" width="1.43" height="1.44" fill="#d74632"/>
<rect x="81.88" y="63.71" width="1.43" height="1.44" fill="#eeb4ac"/>
<rect x="83.25" y="63.71" width="1.43" height="1.44" fill="#d74632"/>
<rect x="84.62" y="63.71" width="1.43" height="1.44" fill="#db5c4a"/>
</g>
<rect x="31.00" y="23.30" width="55.00" height="41.80" fill="none" stroke="#3a3a3a" stroke-width="0.9"/>
<rect x="30.60" y="87.60" width="55.60" height="41.80" fill="#fff"/>
<rect x="31.60" y="93.00" width="45.20" height="35.60" fill="#d3d3d8"/>
<rect x="76.80" y="93.00" width="7.60" height="35.60" fill="#e6e6ea"/>
<rect x="76.80" y="93.60" width="7.6" height="0.5" fill="#f6f6f8"/>
<rect x="76.80" y="96.20" width="7.6" height="0.5" fill="#f6f6f8"/>
<rect x="76.80" y="98.80" width="7.6" height="0.5" fill="#f6f6f8"/>
<rect x="76.80" y="101.40" width="7.6" height="0.5" fill="#f6f6f8"/>
<rect x="76.80" y="104.00" width="7.6" height="0.5" fill="#f6f6f8"/>
<rect x="76.80" y="106.60" width="7.6" height="0.5" fill="#f6f6f8"/>
<rect x="76.80" y="109.20" width="7.6" height="0.5" fill="#f6f6f8"/>
<rect x="76.80" y="111.80" width="7.6" height="0.5" fill="#f6f6f8"/>
<rect x="76.80" y="114.40" width="7.6" height="0.5" fill="#f6f6f8"/>
<rect x="76.80" y="117.00" width="7.6" height="0.5" fill="#f6f6f8"/>
<rect x="76.80" y="119.60" width="7.6" height="0.5" fill="#f6f6f8"/>
<rect x="76.80" y="122.20" width="7.6" height="0.5" fill="#f6f6f8"/>
<rect x="76.80" y="124.80" width="7.6" height="0.5" fill="#f6f6f8"/>
<rect x="76.80" y="127.40" width="7.6" height="0.5" fill="#f6f6f8"/>
<rect x="47.88" y="105.32" width="1.25" height="1.4" fill="#f0a830"/>
<rect x="56.97" y="122.74" width="1.25" height="1.4" fill="#3e8a78"/>
<rect x="58.56" y="108.34" width="1.25" height="1.4" fill="#3e8a78"/>
<rect x="36.68" y="95.42" width="1.25" height="1.4" fill="#3e8a78"/>
<rect x="44.50" y="120.53" width="1.25" height="1.4" fill="#f0a830"/>
<rect x="65.43" y="125.95" width="1.25" height="1.4" fill="#f0a830"/>
<rect x="55.68" y="121.16" width="1.25" height="1.4" fill="#3e8a78"/>
<rect x="39.92" y="115.11" width="1.25" height="1.4" fill="#3e8a78"/>
<rect x="50.49" y="112.57" width="1.25" height="1.4" fill="#3e8a78"/>
<rect x="60.10" y="107.16" width="1.25" height="1.4" fill="#7b4f9d"/>
<rect x="68.87" y="107.87" width="1.25" height="1.4" fill="#f0a830"/>
<rect x="33.77" y="108.07" width="1.25" height="1.4" fill="#f0a830"/>
<rect x="37.55" y="101.49" width="1.25" height="1.4" fill="#a8cdea"/>
<rect x="35.66" y="116.90" width="1.25" height="1.4" fill="#f0a830"/>
<rect x="33.92" y="98.85" width="1.25" height="1.4" fill="#a8cdea"/>
<rect x="68.79" y="99.33" width="1.25" height="1.4" fill="#a8cdea"/>
<rect x="57.89" y="101.41" width="1.25" height="1.4" fill="#3e8a78"/>
<rect x="49.22" y="101.64" width="1.25" height="1.4" fill="#3e8a78"/>
<rect x="36.71" y="121.54" width="1.25" height="1.4" fill="#f0a830"/>
<rect x="74.03" y="118.04" width="1.25" height="1.4" fill="#3e8a78"/>
<rect x="33.93" y="100.00" width="1.25" height="1.4" fill="#3e8a78"/>
<rect x="36.08" y="100.21" width="1.25" height="1.4" fill="#f0a830"/>
<rect x="69.98" y="118.39" width="1.25" height="1.4" fill="#7b4f9d"/>
<rect x="32.51" y="124.41" width="1.25" height="1.4" fill="#f0a830"/>
<rect x="34.32" y="94.75" width="1.25" height="1.4" fill="#7b4f9d"/>
<rect x="61.92" y="101.12" width="1.25" height="1.4" fill="#f0a830"/>
<rect x="40.30" y="114.01" width="1.25" height="1.4" fill="#7b4f9d"/>
<rect x="33.37" y="122.43" width="1.25" height="1.4" fill="#7b4f9d"/>
<rect x="67.13" y="115.65" width="1.25" height="1.4" fill="#3e8a78"/>
<rect x="66.53" y="108.94" width="1.25" height="1.4" fill="#3e8a78"/>
<rect x="36.35" y="123.84" width="1.25" height="1.4" fill="#3e8a78"/>
<rect x="68.15" y="114.88" width="1.25" height="1.4" fill="#f0a830"/>
<rect x="62.96" y="94.26" width="1.25" height="1.4" fill="#7b4f9d"/>
<rect x="46.53" y="123.11" width="1.25" height="1.4" fill="#3e8a78"/>
<rect x="60.85" y="110.16" width="1.25" height="1.4" fill="#3e8a78"/>
<rect x="35.33" y="99.04" width="1.25" height="1.4" fill="#3e8a78"/>
<rect x="39.81" y="113.02" width="1.25" height="1.4" fill="#3e8a78"/>
<rect x="63.62" y="115.21" width="1.25" height="1.4" fill="#3e8a78"/>
<rect x="61.33" y="125.64" width="1.25" height="1.4" fill="#3e8a78"/>
<rect x="56.24" y="110.97" width="1.25" height="1.4" fill="#3e8a78"/>
<rect x="65.92" y="115.15" width="1.25" height="1.4" fill="#f0a830"/>
<rect x="34.40" y="94.05" width="1.25" height="1.4" fill="#7b4f9d"/>
<rect x="66.24" y="116.41" width="1.25" height="1.4" fill="#f0a830"/>
<rect x="33.77" y="107.14" width="1.25" height="1.4" fill="#3e8a78"/>
<rect x="73.72" y="109.22" width="1.25" height="1.4" fill="#f0a830"/>
<rect x="36.85" y="120.96" width="1.25" height="1.4" fill="#3e8a78"/>
<rect x="45.34" y="101.24" width="1.25" height="1.4" fill="#f0a830"/>
<rect x="35.95" y="121.27" width="1.25" height="1.4" fill="#7b4f9d"/>
<rect x="42.13" y="112.13" width="1.25" height="1.4" fill="#f0a830"/>
<rect x="62.66" y="120.09" width="1.25" height="1.4" fill="#3e8a78"/>
<rect x="34.24" y="102.17" width="1.25" height="1.4" fill="#7b4f9d"/>
<rect x="62.94" y="120.82" width="1.25" height="1.4" fill="#f0a830"/>
<rect x="36.05" y="104.43" width="1.25" height="1.4" fill="#a8cdea"/>
<rect x="46.25" y="115.88" width="1.25" height="1.4" fill="#3e8a78"/>
<rect x="33.77" y="106.62" width="1.25" height="1.4" fill="#3e8a78"/>
<rect x="72.48" y="120.10" width="1.25" height="1.4" fill="#f0a830"/>
<rect x="59.87" y="113.29" width="1.25" height="1.4" fill="#f0a830"/>
<rect x="32.27" y="103.50" width="1.25" height="1.4" fill="#3e8a78"/>
<rect x="71.32" y="99.88" width="1.25" height="1.4" fill="#a8cdea"/>
<rect x="32.79" y="124.16" width="1.25" height="1.4" fill="#f0a830"/>
<rect x="67.58" y="126.63" width="1.25" height="1.4" fill="#3e8a78"/>
<rect x="72.21" y="120.24" width="1.25" height="1.4" fill="#f0a830"/>
<rect x="36.30" y="111.54" width="1.25" height="1.4" fill="#a8cdea"/>
<rect x="54.73" y="97.60" width="1.25" height="1.4" fill="#7b4f9d"/>
<rect x="32.71" y="110.27" width="1.25" height="1.4" fill="#f0a830"/>
<rect x="49.47" y="117.27" width="1.25" height="1.4" fill="#3e8a78"/>
<rect x="45.07" y="122.77" width="1.25" height="1.4" fill="#f0a830"/>
<rect x="33.88" y="117.12" width="1.25" height="1.4" fill="#a8cdea"/>
<rect x="71.01" y="106.27" width="1.25" height="1.4" fill="#7b4f9d"/>
<rect x="67.31" y="99.70" width="1.25" height="1.4" fill="#3e8a78"/>
<rect x="52.74" y="114.21" width="1.25" height="1.4" fill="#3e8a78"/>
<rect x="54.21" y="109.96" width="1.25" height="1.4" fill="#f0a830"/>
<rect x="36.47" y="114.73" width="1.25" height="1.4" fill="#3e8a78"/>
<rect x="36.08" y="105.14" width="1.25" height="1.4" fill="#3e8a78"/>
<rect x="34.02" y="102.10" width="1.25" height="1.4" fill="#f0a830"/>
<rect x="58.69" y="121.58" width="1.25" height="1.4" fill="#7b4f9d"/>
<rect x="38.20" y="123.11" width="1.25" height="1.4" fill="#3e8a78"/>
<rect x="66.83" y="120.37" width="1.25" height="1.4" fill="#3e8a78"/>
<rect x="36.44" y="97.91" width="1.25" height="1.4" fill="#3e8a78"/>
<rect x="53.00" y="118.03" width="1.25" height="1.4" fill="#7b4f9d"/>
<rect x="53.22" y="103.75" width="1.25" height="1.4" fill="#f0a830"/>
<rect x="37.14" y="109.66" width="1.25" height="1.4" fill="#f0a830"/>
<rect x="72.57" y="114.28" width="1.25" height="1.4" fill="#f0a830"/>
<rect x="67.77" y="113.76" width="1.25" height="1.4" fill="#3e8a78"/>
<rect x="36.14" y="109.08" width="1.25" height="1.4" fill="#f0a830"/>
<rect x="32.98" y="94.85" width="1.25" height="1.4" fill="#3e8a78"/>
<rect x="66.85" y="106.07" width="1.25" height="1.4" fill="#f0a830"/>
<rect x="64.75" y="102.32" width="1.25" height="1.4" fill="#f0a830"/>
<rect x="32.02" y="94.29" width="1.25" height="1.4" fill="#f0a830"/>
<rect x="44.87" y="121.48" width="1.25" height="1.4" fill="#7b4f9d"/>
<rect x="72.77" y="108.69" width="1.25" height="1.4" fill="#f0a830"/>
<rect x="65.46" y="127.17" width="1.25" height="1.4" fill="#f0a830"/>
<rect x="43.55" y="97.05" width="1.25" height="1.4" fill="#a8cdea"/>
<rect x="32.79" y="94.12" width="1.25" height="1.4" fill="#f0a830"/>
<rect x="36.15" y="126.95" width="1.25" height="1.4" fill="#3e8a78"/>
<rect x="32.59" y="109.56" width="1.25" height="1.4" fill="#f0a830"/>
<rect x="57.55" y="118.39" width="1.25" height="1.4" fill="#f0a830"/>
<rect x="60.33" y="118.86" width="1.25" height="1.4" fill="#f0a830"/>
<rect x="54.00" y="114.85" width="1.25" height="1.4" fill="#a8cdea"/>
<rect x="49.79" y="102.19" width="1.25" height="1.4" fill="#f0a830"/>
<rect x="52.36" y="94.10" width="1.25" height="1.4" fill="#3e8a78"/>
<rect x="42.35" y="113.88" width="1.25" height="1.4" fill="#a8cdea"/>
<rect x="59.22" y="125.67" width="1.25" height="1.4" fill="#a8cdea"/>
<rect x="40.60" y="126.26" width="1.25" height="1.4" fill="#3e8a78"/>
<rect x="35.99" y="114.88" width="1.25" height="1.4" fill="#7b4f9d"/>
<rect x="47.94" y="108.90" width="1.25" height="1.4" fill="#f0a830"/>
<rect x="64.85" y="103.48" width="1.25" height="1.4" fill="#f0a830"/>
<rect x="66.75" y="120.71" width="1.25" height="1.4" fill="#3e8a78"/>
<rect x="68.43" y="94.12" width="1.25" height="1.4" fill="#f0a830"/>
<rect x="59.04" y="108.09" width="1.25" height="1.4" fill="#3e8a78"/>
<rect x="36.25" y="113.94" width="1.25" height="1.4" fill="#3e8a78"/>
<rect x="58.47" y="93.66" width="1.25" height="1.4" fill="#f0a830"/>
<rect x="32.82" y="124.72" width="1.25" height="1.4" fill="#f0a830"/>
<rect x="32.71" y="123.70" width="1.25" height="1.4" fill="#f0a830"/>
<rect x="37.33" y="120.88" width="1.25" height="1.4" fill="#a8cdea"/>
<rect x="32.35" y="112.31" width="1.25" height="1.4" fill="#7b4f9d"/>
<rect x="36.68" y="125.09" width="1.25" height="1.4" fill="#3e8a78"/>
<rect x="32.17" y="106.97" width="1.25" height="1.4" fill="#3e8a78"/>
<rect x="65.29" y="93.92" width="1.25" height="1.4" fill="#7b4f9d"/>
<rect x="39.65" y="120.86" width="1.25" height="1.4" fill="#3e8a78"/>
<rect x="35.57" y="123.92" width="1.25" height="1.4" fill="#3e8a78"/>
<rect x="45.67" y="99.99" width="1.25" height="1.4" fill="#3e8a78"/>
<rect x="37.04" y="103.40" width="1.25" height="1.4" fill="#3e8a78"/>
<rect x="44.81" y="98.64" width="1.25" height="1.4" fill="#f0a830"/>
<rect x="63.20" y="122.88" width="1.25" height="1.4" fill="#3e8a78"/>
<rect x="69.82" y="98.88" width="1.25" height="1.4" fill="#f0a830"/>
<rect x="35.18" y="94.30" width="1.25" height="1.4" fill="#f0a830"/>
<rect x="37.46" y="112.71" width="1.25" height="1.4" fill="#3e8a78"/>
<rect x="36.86" y="108.00" width="1.25" height="1.4" fill="#a8cdea"/>
<rect x="70.52" y="126.17" width="1.25" height="1.4" fill="#f0a830"/>
<rect x="59.72" y="127.22" width="1.25" height="1.4" fill="#7b4f9d"/>
<rect x="32.13" y="112.44" width="1.25" height="1.4" fill="#a8cdea"/>
<rect x="48.75" y="123.84" width="1.25" height="1.4" fill="#7b4f9d"/>
<rect x="67.99" y="96.64" width="1.25" height="1.4" fill="#3e8a78"/>
<rect x="66.51" y="125.93" width="1.25" height="1.4" fill="#7b4f9d"/>
<rect x="37.32" y="106.14" width="1.25" height="1.4" fill="#3e8a78"/>
<rect x="57.09" y="94.91" width="1.25" height="1.4" fill="#f0a830"/>
<rect x="53.43" y="112.29" width="1.25" height="1.4" fill="#f0a830"/>
<rect x="53.16" y="120.18" width="1.25" height="1.4" fill="#a8cdea"/>
<rect x="32.74" y="119.12" width="1.25" height="1.4" fill="#3e8a78"/>
<rect x="58.82" y="113.59" width="1.25" height="1.4" fill="#3e8a78"/>
<rect x="43.06" y="106.78" width="1.25" height="1.4" fill="#3e8a78"/>
<rect x="40.62" y="101.66" width="1.25" height="1.4" fill="#f0a830"/>
<rect x="72.17" y="109.41" width="1.25" height="1.4" fill="#3e8a78"/>
<rect x="55.63" y="121.75" width="1.25" height="1.4" fill="#3e8a78"/>
<rect x="71.60" y="123.64" width="1.25" height="1.4" fill="#f0a830"/>
<rect x="73.65" y="124.90" width="1.25" height="1.4" fill="#7b4f9d"/>
<rect x="66.24" y="108.89" width="1.25" height="1.4" fill="#3e8a78"/>
<rect x="33.32" y="97.51" width="1.25" height="1.4" fill="#3e8a78"/>
<rect x="33.24" y="95.52" width="1.25" height="1.4" fill="#a8cdea"/>
<rect x="55.36" y="123.03" width="1.25" height="1.4" fill="#f0a830"/>
<rect x="41.56" y="94.46" width="1.25" height="1.4" fill="#f0a830"/>
<rect x="32.89" y="110.20" width="1.25" height="1.4" fill="#3e8a78"/>
<rect x="44.39" y="98.78" width="1.25" height="1.4" fill="#f0a830"/>
<rect x="69.82" y="124.87" width="1.25" height="1.4" fill="#a8cdea"/>
<rect x="54.78" y="119.11" width="1.25" height="1.4" fill="#3e8a78"/>
<rect x="41.74" y="101.67" width="1.25" height="1.4" fill="#3e8a78"/>
<rect x="33.68" y="123.89" width="1.25" height="1.4" fill="#f0a830"/>
<rect x="74.12" y="98.48" width="1.25" height="1.4" fill="#f0a830"/>
<rect x="44.69" y="110.86" width="1.25" height="1.4" fill="#a8cdea"/>
<rect x="37.21" y="111.40" width="1.25" height="1.4" fill="#f0a830"/>
<rect x="32.06" y="107.42" width="1.25" height="1.4" fill="#f0a830"/>
<rect x="55.21" y="99.69" width="1.25" height="1.4" fill="#3e8a78"/>
<rect x="56.53" y="96.28" width="1.25" height="1.4" fill="#3e8a78"/>
<rect x="68.54" y="119.33" width="1.25" height="1.4" fill="#f0a830"/>
<rect x="35.78" y="117.52" width="1.25" height="1.4" fill="#3e8a78"/>
<rect x="56.65" y="95.82" width="1.25" height="1.4" fill="#7b4f9d"/>
<rect x="72.72" y="111.12" width="1.25" height="1.4" fill="#3e8a78"/>
<rect x="37.27" y="122.82" width="1.25" height="1.4" fill="#a8cdea"/>
<rect x="34.46" y="119.39" width="1.25" height="1.4" fill="#f0a830"/>
<rect x="58.09" y="99.89" width="1.25" height="1.4" fill="#3e8a78"/>
<rect x="36.36" y="113.03" width="1.25" height="1.4" fill="#f0a830"/>
<rect x="37.86" y="126.34" width="1.25" height="1.4" fill="#3e8a78"/>
<rect x="36.44" y="121.20" width="1.25" height="1.4" fill="#3e8a78"/>
<rect x="71.63" y="113.08" width="1.25" height="1.4" fill="#f0a830"/>
<rect x="32.50" y="118.31" width="1.25" height="1.4" fill="#a8cdea"/>
<rect x="44.97" y="111.76" width="1.25" height="1.4" fill="#f0a830"/>
<rect x="32.38" y="114.52" width="1.25" height="1.4" fill="#f0a830"/>
<rect x="33.43" y="121.22" width="1.25" height="1.4" fill="#f0a830"/>
<rect x="37.82" y="118.57" width="1.25" height="1.4" fill="#f0a830"/>
<rect x="35.70" y="113.09" width="1.25" height="1.4" fill="#3e8a78"/>
<rect x="54.41" y="122.99" width="1.25" height="1.4" fill="#f0a830"/>
<rect x="32.60" y="110.28" width="1.25" height="1.4" fill="#f0a830"/>
<rect x="32.59" y="123.49" width="1.25" height="1.4" fill="#3e8a78"/>
<rect x="55.41" y="112.96" width="1.25" height="1.4" fill="#7b4f9d"/>
<rect x="37.17" y="125.29" width="1.25" height="1.4" fill="#7b4f9d"/>
<rect x="65.53" y="113.97" width="1.25" height="1.4" fill="#f0a830"/>
<rect x="49.90" y="119.86" width="1.25" height="1.4" fill="#3e8a78"/>
<rect x="48.66" y="117.78" width="1.25" height="1.4" fill="#3e8a78"/>
<rect x="71.17" y="95.41" width="1.25" height="1.4" fill="#f0a830"/>
<rect x="73.12" y="102.03" width="1.25" height="1.4" fill="#7b4f9d"/>
<rect x="52.36" y="97.29" width="1.25" height="1.4" fill="#f0a830"/>
<rect x="34.61" y="110.66" width="1.25" height="1.4" fill="#f0a830"/>
<rect x="34.53" y="107.02" width="1.25" height="1.4" fill="#a8cdea"/>
<rect x="70.31" y="123.49" width="1.25" height="1.4" fill="#f0a830"/>
<rect x="35.97" y="102.58" width="1.25" height="1.4" fill="#f0a830"/>
<rect x="70.24" y="94.81" width="1.25" height="1.4" fill="#3e8a78"/>
<rect x="35.18" y="108.26" width="1.25" height="1.4" fill="#f0a830"/>
<rect x="33.79" y="115.49" width="1.25" height="1.4" fill="#3e8a78"/>
<rect x="38.03" y="124.73" width="1.25" height="1.4" fill="#f0a830"/>
<rect x="35.64" y="125.10" width="1.25" height="1.4" fill="#a8cdea"/>
<rect x="32.65" y="103.52" width="1.25" height="1.4" fill="#7b4f9d"/>
<rect x="58.27" y="118.47" width="1.25" height="1.4" fill="#f0a830"/>
<rect x="65.82" y="112.87" width="1.25" height="1.4" fill="#7b4f9d"/>
<rect x="36.42" y="109.18" width="1.25" height="1.4" fill="#f0a830"/>
<rect x="62.65" y="104.10" width="1.25" height="1.4" fill="#3e8a78"/>
<rect x="33.03" y="112.05" width="1.25" height="1.4" fill="#7b4f9d"/>
<rect x="34.09" y="122.73" width="1.25" height="1.4" fill="#3e8a78"/>
<rect x="33.92" y="102.72" width="1.25" height="1.4" fill="#3e8a78"/>
<rect x="36.82" y="98.96" width="1.25" height="1.4" fill="#3e8a78"/>
<rect x="59.93" y="115.83" width="1.25" height="1.4" fill="#7b4f9d"/>
<rect x="60.07" y="119.38" width="1.25" height="1.4" fill="#3e8a78"/>
<rect x="67.35" y="125.17" width="1.25" height="1.4" fill="#7b4f9d"/>
<rect x="34.09" y="116.43" width="1.25" height="1.4" fill="#f0a830"/>
<rect x="63.75" y="118.57" width="1.25" height="1.4" fill="#a8cdea"/>
<rect x="31.80" y="90.44" width="0.8" height="2.36" fill="#3e8a78"/>
<rect x="32.70" y="89.03" width="0.8" height="3.77" fill="#3e8a78"/>
<rect x="33.60" y="90.89" width="0.8" height="1.91" fill="#3e8a78"/>
<rect x="34.50" y="91.29" width="0.8" height="1.51" fill="#3e8a78"/>
<rect x="35.40" y="89.43" width="0.8" height="3.37" fill="#f0a830"/>
<rect x="36.30" y="90.03" width="0.8" height="2.77" fill="#3e8a78"/>
<rect x="37.20" y="90.82" width="0.8" height="1.98" fill="#f0a830"/>
<rect x="38.10" y="88.51" width="0.8" height="4.29" fill="#3e8a78"/>
<rect x="39.00" y="90.94" width="0.8" height="1.86" fill="#f0a830"/>
<rect x="52.10" y="89.58" width="0.8" height="3.22" fill="#3e8a78"/>
<rect x="53.00" y="89.49" width="0.8" height="3.31" fill="#3e8a78"/>
<rect x="53.90" y="90.67" width="0.8" height="2.13" fill="#2e6a5a"/>
<rect x="54.80" y="89.73" width="0.8" height="3.07" fill="#3e8a78"/>
<rect x="55.70" y="89.28" width="0.8" height="3.52" fill="#2e6a5a"/>
<rect x="56.60" y="90.58" width="0.8" height="2.22" fill="#3e8a78"/>
<rect x="57.50" y="91.21" width="0.8" height="1.59" fill="#3e8a78"/>
<rect x="58.40" y="89.23" width="0.8" height="3.57" fill="#2e6a5a"/>
<rect x="59.30" y="89.96" width="0.8" height="2.84" fill="#f0a830"/>
<rect x="60.20" y="91.52" width="0.8" height="1.28" fill="#3e8a78"/>
<rect x="61.10" y="90.76" width="0.8" height="2.04" fill="#f0a830"/>
<rect x="62.00" y="88.73" width="0.8" height="4.07" fill="#f0a830"/>
<rect x="62.90" y="88.69" width="0.8" height="4.11" fill="#3e8a78"/>
<rect x="63.80" y="91.72" width="0.8" height="1.08" fill="#3e8a78"/>
<rect x="64.70" y="89.99" width="0.8" height="2.81" fill="#2e6a5a"/>
<rect x="65.60" y="90.84" width="0.8" height="1.96" fill="#3e8a78"/>
<rect x="66.50" y="90.08" width="0.8" height="2.72" fill="#2e6a5a"/>
<rect x="67.40" y="90.14" width="0.8" height="2.66" fill="#2e6a5a"/>
<rect x="68.30" y="90.55" width="0.8" height="2.25" fill="#3e8a78"/>
<rect x="69.20" y="91.67" width="0.8" height="1.13" fill="#3e8a78"/>
<rect x="70.10" y="90.35" width="0.8" height="2.45" fill="#3e8a78"/>
<rect x="71.00" y="89.64" width="0.8" height="3.16" fill="#f0a830"/>
<rect x="71.90" y="91.48" width="0.8" height="1.32" fill="#3e8a78"/>
<rect x="72.80" y="90.20" width="0.8" height="2.60" fill="#f0a830"/>
<rect x="73.70" y="88.98" width="0.8" height="3.82" fill="#2e6a5a"/>
<rect x="74.60" y="90.24" width="0.8" height="2.56" fill="#2e6a5a"/>
<rect x="41.60" y="91.90" width="5" height="0.7" fill="#c8b070"/>
<rect x="56.60" y="93.90" width="12.5" height="1.6" fill="#f0a830"/>
<rect x="54.60" y="95.60" width="14" height="1.0" fill="#3e8a78"/>
<rect x="31.90" y="93.60" width="5" height="1.4" fill="#3e8a78"/>
<rect x="30.60" y="87.60" width="55.60" height="41.80" fill="none" stroke="#3a3a3a" stroke-width="0.9"/>
<ellipse cx="182.1" cy="76.4" rx="54.5" ry="28.0" fill="#fff" stroke="#000" stroke-width="1.3"/>
<g fill="#161616" font-size="9.2">
<text x="25" y="76.7" textLength="67" lengthAdjust="spacingAndGlyphs">Gene expression</text>
<text x="30.8" y="140.4" textLength="51.9" lengthAdjust="spacingAndGlyphs">Driver genes</text>
<text x="20" y="151" textLength="74.6" lengthAdjust="spacingAndGlyphs">genetic alterations</text>
<text x="144.1" y="79.9" textLength="76.3" lengthAdjust="spacingAndGlyphs">Integrative analysis</text>
<text x="258.3" y="110.4" textLength="85" lengthAdjust="spacingAndGlyphs">Gene set enrichment</text>
<text x="261.5" y="120.8" textLength="81.8" lengthAdjust="spacingAndGlyphs">for each driver gene</text>
</g>
<polygon points="85.47,45.17 119.61,65.81 118.26,68.03 126.00,67.80 122.61,60.84 121.27,63.07 87.13,42.43" fill="#23407a" stroke="#000" stroke-width="0.8" stroke-linejoin="miter"/>
<polygon points="87.27,114.27 121.59,88.21 123.16,90.28 125.80,83.00 118.08,83.59 119.66,85.66 85.33,111.73" fill="#23407a" stroke="#000" stroke-width="0.8" stroke-linejoin="miter"/>
<polygon points="241.40,74.30 249.40,74.30 249.40,71.00 256.50,77.40 249.40,83.80 249.40,80.50 241.40,80.50" fill="#2c4d8c" stroke="#000" stroke-width="0.9"/>
<polygon points="347.10,74.40 355.30,74.40 355.30,71.00 362.70,77.50 355.30,84.00 355.30,80.60 347.10,80.60" fill="#2c4d8c" stroke="#000" stroke-width="0.9"/>
<rect x="265.85" y="56.7" width="71.95" height="42.45" fill="#fff" stroke="#000" stroke-width="1.3"/>
<line x1="263.2" y1="65.2" x2="266" y2="65.2" stroke="#000" stroke-width="0.9"/>
<line x1="263.2" y1="72.5" x2="266" y2="72.5" stroke="#000" stroke-width="0.9"/>
<line x1="263.2" y1="79.9" x2="266" y2="79.9" stroke="#000" stroke-width="0.9"/>
<line x1="263.2" y1="87.2" x2="266" y2="87.2" stroke="#000" stroke-width="0.9"/>
<line x1="266" y1="94.5" x2="337.6" y2="94.5" stroke="#000" stroke-width="0.9"/>
<rect x="269.00" y="93.1" width="7.00" height="3.1" rx="1.1" fill="#000"/>
<ellipse cx="270.17" cy="94.65" rx="0.4" ry="0.55" fill="#3a3a3a"/>
<ellipse cx="272.50" cy="94.65" rx="0.4" ry="0.55" fill="#3a3a3a"/>
<ellipse cx="274.83" cy="94.65" rx="0.4" ry="0.55" fill="#3a3a3a"/>
<rect x="277.00" y="93.1" width="4.60" height="3.1" rx="1.1" fill="#000"/>
<ellipse cx="278.15" cy="94.65" rx="0.4" ry="0.55" fill="#3a3a3a"/>
<ellipse cx="280.45" cy="94.65" rx="0.4" ry="0.55" fill="#3a3a3a"/>
<rect x="282.80" y="93.1" width="7.70" height="3.1" rx="1.1" fill="#000"/>
<ellipse cx="284.08" cy="94.65" rx="0.4" ry="0.55" fill="#3a3a3a"/>
<ellipse cx="286.65" cy="94.65" rx="0.4" ry="0.55" fill="#3a3a3a"/>
<ellipse cx="289.22" cy="94.65" rx="0.4" ry="0.55" fill="#3a3a3a"/>
<rect x="292.80" y="93.1" width="6.80" height="3.1" rx="1.1" fill="#000"/>
<ellipse cx="294.50" cy="94.65" rx="0.4" ry="0.55" fill="#3a3a3a"/>
<ellipse cx="297.90" cy="94.65" rx="0.4" ry="0.55" fill="#3a3a3a"/>
<rect x="301.30" y="93.1" width="1.00" height="3.1" rx="1.1" fill="#000"/>
<rect x="302.90" y="93.1" width="6.60" height="3.1" rx="1.1" fill="#000"/>
<ellipse cx="304.55" cy="94.65" rx="0.4" ry="0.55" fill="#3a3a3a"/>
<ellipse cx="307.85" cy="94.65" rx="0.4" ry="0.55" fill="#3a3a3a"/>
<rect x="311.50" y="93.1" width="4.50" height="3.1" rx="1.1" fill="#000"/>
<ellipse cx="313.75" cy="94.65" rx="0.4" ry="0.55" fill="#3a3a3a"/>
<rect x="316.60" y="93.1" width="4.40" height="3.1" rx="1.1" fill="#000"/>
<ellipse cx="318.80" cy="94.65" rx="0.4" ry="0.55" fill="#3a3a3a"/>
<rect x="322.50" y="93.1" width="3.70" height="3.1" rx="1.1" fill="#000"/>
<ellipse cx="324.35" cy="94.65" rx="0.4" ry="0.55" fill="#3a3a3a"/>
<rect x="327.00" y="93.1" width="6.50" height="3.1" rx="1.1" fill="#000"/>
<ellipse cx="328.62" cy="94.65" rx="0.4" ry="0.55" fill="#3a3a3a"/>
<ellipse cx="331.88" cy="94.65" rx="0.4" ry="0.55" fill="#3a3a3a"/>
<line x1="280.75" y1="57.4" x2="280.75" y2="98.4" stroke="#e0406a" stroke-width="0.8" stroke-dasharray="1.1,0.7"/>
<path d="M269.2,94 L270.7,84 L272.4,71.6 L273.8,68.7 L274.7,65.3 L275.8,63.5 L277.3,62.1 L278.7,59.4 L280.75,58.6 L283.9,60.1 L286.8,62.4 L288.8,61.5 L291.8,64.25 L296.7,68.6 L301.5,73.9 L306.3,79.2 L311.1,84 L314.9,87.3 L319.7,90.2 L323.6,93.1 L326.5,95 L330.3,96.5 L334.2,95.3" fill="none" stroke="#70c23e" stroke-width="1.15" stroke-linejoin="round"/>
<rect x="367.3" y="53.7" width="82" height="49.2" fill="#d5d5e6" stroke="#000" stroke-width="1.3"/>
<g fill="#1e1e1e" font-size="9.2">
<text x="369.8" y="65.6" textLength="74.5" lengthAdjust="spacingAndGlyphs">Clustering of gene</text>
<text x="377.0" y="75.9" textLength="59.8" lengthAdjust="spacingAndGlyphs">sets to identify</text>
<text x="380.4" y="86.5" textLength="53.3" lengthAdjust="spacingAndGlyphs">subgroups of</text>
<text x="375.3" y="97.2" textLength="65.8" lengthAdjust="spacingAndGlyphs">driver mutations</text>
</g>
<g shape-rendering="crispEdges">
<rect x="222.00" y="213.80" width="7.64" height="8.25" fill="#d6432d"/>
<rect x="229.14" y="213.80" width="7.64" height="8.25" fill="#df6d50"/>
<rect x="236.29" y="213.80" width="7.64" height="8.25" fill="#d6432d"/>
<rect x="243.43" y="213.80" width="7.64" height="8.25" fill="#cc1a14"/>
<rect x="250.57" y="213.80" width="7.64" height="8.25" fill="#d6432d"/>
<rect x="257.71" y="213.80" width="7.64" height="8.25" fill="#df6d50"/>
<rect x="264.86" y="213.80" width="7.64" height="8.25" fill="#eb9a7c"/>
<rect x="272.00" y="213.80" width="7.64" height="8.25" fill="#eb9a7c"/>
<rect x="279.14" y="213.80" width="7.64" height="8.25" fill="#eb9a7c"/>
<rect x="286.29" y="213.80" width="7.64" height="8.25" fill="#df6d50"/>
<rect x="293.43" y="213.80" width="7.64" height="8.25" fill="#cc1a14"/>
<rect x="300.57" y="213.80" width="7.64" height="8.25" fill="#cc1a14"/>
<rect x="307.71" y="213.80" width="7.64" height="8.25" fill="#df6d50"/>
<rect x="314.86" y="213.80" width="7.64" height="8.25" fill="#f1bba2"/>
<rect x="322.00" y="213.80" width="7.64" height="8.25" fill="#df6d50"/>
<rect x="329.14" y="213.80" width="7.64" height="8.25" fill="#df6d50"/>
<rect x="336.29" y="213.80" width="7.64" height="8.25" fill="#f1bba2"/>
<rect x="343.43" y="213.80" width="7.64" height="8.25" fill="#f5d6c8"/>
<rect x="350.57" y="213.80" width="7.64" height="8.25" fill="#f1bba2"/>
<rect x="357.71" y="213.80" width="7.64" height="8.25" fill="#bcb3de"/>
<rect x="364.86" y="213.80" width="7.14" height="8.25" fill="#eb9a7c"/>
<rect x="375.50" y="213.80" width="7.65" height="8.25" fill="#978bc9"/>
<rect x="382.65" y="213.80" width="7.65" height="8.25" fill="#f1bba2"/>
<rect x="389.79" y="213.80" width="7.65" height="8.25" fill="#f1bba2"/>
<rect x="396.94" y="213.80" width="7.65" height="8.25" fill="#df6d50"/>
<rect x="404.09" y="213.80" width="7.65" height="8.25" fill="#df6d50"/>
<rect x="411.24" y="213.80" width="7.65" height="8.25" fill="#eb9a7c"/>
<rect x="418.38" y="213.80" width="7.65" height="8.25" fill="#eb9a7c"/>
<rect x="425.53" y="213.80" width="7.65" height="8.25" fill="#f1bba2"/>
<rect x="432.68" y="213.80" width="7.65" height="8.25" fill="#eb9a7c"/>
<rect x="439.82" y="213.80" width="7.65" height="8.25" fill="#f1bba2"/>
<rect x="446.97" y="213.80" width="7.65" height="8.25" fill="#bcb3de"/>
<rect x="454.12" y="213.80" width="7.65" height="8.25" fill="#bcb3de"/>
<rect x="461.26" y="213.80" width="7.65" height="8.25" fill="#eb9a7c"/>
<rect x="468.41" y="213.80" width="7.65" height="8.25" fill="#f1bba2"/>
<rect x="475.56" y="213.80" width="7.65" height="8.25" fill="#d6d2ec"/>
<rect x="482.71" y="213.80" width="7.65" height="8.25" fill="#bcb3de"/>
<rect x="489.85" y="213.80" width="7.15" height="8.25" fill="#7a6bbb"/>
<rect x="222.00" y="221.55" width="7.64" height="8.25" fill="#d6432d"/>
<rect x="229.14" y="221.55" width="7.64" height="8.25" fill="#d6432d"/>
<rect x="236.29" y="221.55" width="7.64" height="8.25" fill="#d6432d"/>
<rect x="243.43" y="221.55" width="7.64" height="8.25" fill="#f1bba2"/>
<rect x="250.57" y="221.55" width="7.64" height="8.25" fill="#eb9a7c"/>
<rect x="257.71" y="221.55" width="7.64" height="8.25" fill="#d6432d"/>
<rect x="264.86" y="221.55" width="7.64" height="8.25" fill="#eb9a7c"/>
<rect x="272.00" y="221.55" width="7.64" height="8.25" fill="#eb9a7c"/>
<rect x="279.14" y="221.55" width="7.64" height="8.25" fill="#eb9a7c"/>
<rect x="286.29" y="221.55" width="7.64" height="8.25" fill="#eb9a7c"/>
<rect x="293.43" y="221.55" width="7.64" height="8.25" fill="#cc1a14"/>
<rect x="300.57" y="221.55" width="7.64" height="8.25" fill="#cc1a14"/>
<rect x="307.71" y="221.55" width="7.64" height="8.25" fill="#d6432d"/>
<rect x="314.86" y="221.55" width="7.64" height="8.25" fill="#eb9a7c"/>
<rect x="322.00" y="221.55" width="7.64" height="8.25" fill="#f1bba2"/>
<rect x="329.14" y="221.55" width="7.64" height="8.25" fill="#f1bba2"/>
<rect x="336.29" y="221.55" width="7.64" height="8.25" fill="#f1bba2"/>
<rect x="343.43" y="221.55" width="7.64" height="8.25" fill="#7a6bbb"/>
<rect x="350.57" y="221.55" width="7.64" height="8.25" fill="#978bc9"/>
<rect x="357.71" y="221.55" width="7.64" height="8.25" fill="#7a6bbb"/>
<rect x="364.86" y="221.55" width="7.14" height="8.25" fill="#978bc9"/>
<rect x="375.50" y="221.55" width="7.65" height="8.25" fill="#bcb3de"/>
<rect x="382.65" y="221.55" width="7.65" height="8.25" fill="#eb9a7c"/>
<rect x="389.79" y="221.55" width="7.65" height="8.25" fill="#df6d50"/>
<rect x="396.94" y="221.55" width="7.65" height="8.25" fill="#df6d50"/>
<rect x="404.09" y="221.55" width="7.65" height="8.25" fill="#eb9a7c"/>
<rect x="411.24" y="221.55" width="7.65" height="8.25" fill="#df6d50"/>
<rect x="418.38" y="221.55" width="7.65" height="8.25" fill="#df6d50"/>
<rect x="425.53" y="221.55" width="7.65" height="8.25" fill="#d6d2ec"/>
<rect x="432.68" y="221.55" width="7.65" height="8.25" fill="#bcb3de"/>
<rect x="439.82" y="221.55" width="7.65" height="8.25" fill="#d6d2ec"/>
<rect x="446.97" y="221.55" width="7.65" height="8.25" fill="#d6d2ec"/>
<rect x="454.12" y="221.55" width="7.65" height="8.25" fill="#bcb3de"/>
<rect x="461.26" y="221.55" width="7.65" height="8.25" fill="#d6d2ec"/>
<rect x="468.41" y="221.55" width="7.65" height="8.25" fill="#df6d50"/>
<rect x="475.56" y="221.55" width="7.65" height="8.25" fill="#d6d2ec"/>
<rect x="482.71" y="221.55" width="7.65" height="8.25" fill="#df6d50"/>
<rect x="489.85" y="221.55" width="7.15" height="8.25" fill="#7a6bbb"/>
<rect x="222.00" y="229.29" width="7.64" height="8.25" fill="#eb9a7c"/>
<rect x="229.14" y="229.29" width="7.64" height="8.25" fill="#eb9a7c"/>
<rect x="236.29" y="229.29" width="7.64" height="8.25" fill="#df6d50"/>
<rect x="243.43" y="229.29" width="7.64" height="8.25" fill="#eb9a7c"/>
<rect x="250.57" y="229.29" width="7.64" height="8.25" fill="#eb9a7c"/>
<rect x="257.71" y="229.29" width="7.64" height="8.25" fill="#eb9a7c"/>
<rect x="264.86" y="229.29" width="7.64" height="8.25" fill="#eb9a7c"/>
<rect x="272.00" y="229.29" width="7.64" height="8.25" fill="#eb9a7c"/>
<rect x="279.14" y="229.29" width="7.64" height="8.25" fill="#eb9a7c"/>
<rect x="286.29" y="229.29" width="7.64" height="8.25" fill="#eb9a7c"/>
<rect x="293.43" y="229.29" width="7.64" height="8.25" fill="#eb9a7c"/>
<rect x="300.57" y="229.29" width="7.64" height="8.25" fill="#eb9a7c"/>
<rect x="307.71" y="229.29" width="7.64" height="8.25" fill="#eb9a7c"/>
<rect x="314.86" y="229.29" width="7.64" height="8.25" fill="#eb9a7c"/>
<rect x="322.00" y="229.29" width="7.64" height="8.25" fill="#df6d50"/>
<rect x="329.14" y="229.29" width="7.64" height="8.25" fill="#cc1a14"/>
<rect x="336.29" y="229.29" width="7.64" height="8.25" fill="#d6432d"/>
<rect x="343.43" y="229.29" width="7.64" height="8.25" fill="#eb9a7c"/>
<rect x="350.57" y="229.29" width="7.64" height="8.25" fill="#978bc9"/>
<rect x="357.71" y="229.29" width="7.64" height="8.25" fill="#cc1a14"/>
<rect x="364.86" y="229.29" width="7.14" height="8.25" fill="#df6d50"/>
<rect x="375.50" y="229.29" width="7.65" height="8.25" fill="#978bc9"/>
<rect x="382.65" y="229.29" width="7.65" height="8.25" fill="#bcb3de"/>
<rect x="389.79" y="229.29" width="7.65" height="8.25" fill="#7a6bbb"/>
<rect x="396.94" y="229.29" width="7.65" height="8.25" fill="#eb9a7c"/>
<rect x="404.09" y="229.29" width="7.65" height="8.25" fill="#eb9a7c"/>
<rect x="411.24" y="229.29" width="7.65" height="8.25" fill="#eb9a7c"/>
<rect x="418.38" y="229.29" width="7.65" height="8.25" fill="#978bc9"/>
<rect x="425.53" y="229.29" width="7.65" height="8.25" fill="#7a6bbb"/>
<rect x="432.68" y="229.29" width="7.65" height="8.25" fill="#bcb3de"/>
<rect x="439.82" y="229.29" width="7.65" height="8.25" fill="#bcb3de"/>
<rect x="446.97" y="229.29" width="7.65" height="8.25" fill="#7a6bbb"/>
<rect x="454.12" y="229.29" width="7.65" height="8.25" fill="#7a6bbb"/>
<rect x="461.26" y="229.29" width="7.65" height="8.25" fill="#978bc9"/>
<rect x="468.41" y="229.29" width="7.65" height="8.25" fill="#978bc9"/>
<rect x="475.56" y="229.29" width="7.65" height="8.25" fill="#eb9a7c"/>
<rect x="482.71" y="229.29" width="7.65" height="8.25" fill="#bcb3de"/>
<rect x="489.85" y="229.29" width="7.15" height="8.25" fill="#eb9a7c"/>
<rect x="222.00" y="237.04" width="7.64" height="8.25" fill="#df6d50"/>
<rect x="229.14" y="237.04" width="7.64" height="8.25" fill="#f1bba2"/>
<rect x="236.29" y="237.04" width="7.64" height="8.25" fill="#df6d50"/>
<rect x="243.43" y="237.04" width="7.64" height="8.25" fill="#d6d2ec"/>
<rect x="250.57" y="237.04" width="7.64" height="8.25" fill="#df6d50"/>
<rect x="257.71" y="237.04" width="7.64" height="8.25" fill="#f1bba2"/>
<rect x="264.86" y="237.04" width="7.64" height="8.25" fill="#eb9a7c"/>
<rect x="272.00" y="237.04" width="7.64" height="8.25" fill="#eb9a7c"/>
<rect x="279.14" y="237.04" width="7.64" height="8.25" fill="#5d50ac"/>
<rect x="286.29" y="237.04" width="7.64" height="8.25" fill="#f1bba2"/>
<rect x="293.43" y="237.04" width="7.64" height="8.25" fill="#d6432d"/>
<rect x="300.57" y="237.04" width="7.64" height="8.25" fill="#eb9a7c"/>
<rect x="307.71" y="237.04" width="7.64" height="8.25" fill="#eb9a7c"/>
<rect x="314.86" y="237.04" width="7.64" height="8.25" fill="#d6432d"/>
<rect x="322.00" y="237.04" width="7.64" height="8.25" fill="#d6432d"/>
<rect x="329.14" y="237.04" width="7.64" height="8.25" fill="#eb9a7c"/>
<rect x="336.29" y="237.04" width="7.64" height="8.25" fill="#df6d50"/>
<rect x="343.43" y="237.04" width="7.64" height="8.25" fill="#bcb3de"/>
<rect x="350.57" y="237.04" width="7.64" height="8.25" fill="#978bc9"/>
<rect x="357.71" y="237.04" width="7.64" height="8.25" fill="#bcb3de"/>
<rect x="364.86" y="237.04" width="7.14" height="8.25" fill="#eb9a7c"/>
<rect x="375.50" y="237.04" width="7.65" height="8.25" fill="#d6d2ec"/>
<rect x="382.65" y="237.04" width="7.65" height="8.25" fill="#df6d50"/>
<rect x="389.79" y="237.04" width="7.65" height="8.25" fill="#978bc9"/>
<rect x="396.94" y="237.04" width="7.65" height="8.25" fill="#f1bba2"/>
<rect x="404.09" y="237.04" width="7.65" height="8.25" fill="#eb9a7c"/>
<rect x="411.24" y="237.04" width="7.65" height="8.25" fill="#f1bba2"/>
<rect x="418.38" y="237.04" width="7.65" height="8.25" fill="#f1bba2"/>
<rect x="425.53" y="237.04" width="7.65" height="8.25" fill="#978bc9"/>
<rect x="432.68" y="237.04" width="7.65" height="8.25" fill="#978bc9"/>
<rect x="439.82" y="237.04" width="7.65" height="8.25" fill="#978bc9"/>
<rect x="446.97" y="237.04" width="7.65" height="8.25" fill="#7a6bbb"/>
<rect x="454.12" y="237.04" width="7.65" height="8.25" fill="#7a6bbb"/>
<rect x="461.26" y="237.04" width="7.65" height="8.25" fill="#bcb3de"/>
<rect x="468.41" y="237.04" width="7.65" height="8.25" fill="#eb9a7c"/>
<rect x="475.56" y="237.04" width="7.65" height="8.25" fill="#978bc9"/>
<rect x="482.71" y="237.04" width="7.65" height="8.25" fill="#eb9a7c"/>
<rect x="489.85" y="237.04" width="7.15" height="8.25" fill="#eb9a7c"/>
<rect x="222.00" y="244.78" width="7.64" height="8.25" fill="#d6432d"/>
<rect x="229.14" y="244.78" width="7.64" height="8.25" fill="#f1bba2"/>
<rect x="236.29" y="244.78" width="7.64" height="8.25" fill="#df6d50"/>
<rect x="243.43" y="244.78" width="7.64" height="8.25" fill="#f1bba2"/>
<rect x="250.57" y="244.78" width="7.64" height="8.25" fill="#d6d2ec"/>
<rect x="257.71" y="244.78" width="7.64" height="8.25" fill="#f1bba2"/>
<rect x="264.86" y="244.78" width="7.64" height="8.25" fill="#bcb3de"/>
<rect x="272.00" y="244.78" width="7.64" height="8.25" fill="#bcb3de"/>
<rect x="279.14" y="244.78" width="7.64" height="8.25" fill="#eb9a7c"/>
<rect x="286.29" y="244.78" width="7.64" height="8.25" fill="#d6432d"/>
<rect x="293.43" y="244.78" width="7.64" height="8.25" fill="#df6d50"/>
<rect x="300.57" y="244.78" width="7.64" height="8.25" fill="#df6d50"/>
<rect x="307.71" y="244.78" width="7.64" height="8.25" fill="#df6d50"/>
<rect x="314.86" y="244.78" width="7.64" height="8.25" fill="#d6432d"/>
<rect x="322.00" y="244.78" width="7.64" height="8.25" fill="#df6d50"/>
<rect x="329.14" y="244.78" width="7.64" height="8.25" fill="#f1bba2"/>
<rect x="336.29" y="244.78" width="7.64" height="8.25" fill="#df6d50"/>
<rect x="343.43" y="244.78" width="7.64" height="8.25" fill="#bcb3de"/>
<rect x="350.57" y="244.78" width="7.64" height="8.25" fill="#bcb3de"/>
<rect x="357.71" y="244.78" width="7.64" height="8.25" fill="#eb9a7c"/>
<rect x="364.86" y="244.78" width="7.14" height="8.25" fill="#df6d50"/>
<rect x="375.50" y="244.78" width="7.65" height="8.25" fill="#d6d2ec"/>
<rect x="382.65" y="244.78" width="7.65" height="8.25" fill="#eb9a7c"/>
<rect x="389.79" y="244.78" width="7.65" height="8.25" fill="#978bc9"/>
<rect x="396.94" y="244.78" width="7.65" height="8.25" fill="#f1bba2"/>
<rect x="404.09" y="244.78" width="7.65" height="8.25" fill="#bcb3de"/>
<rect x="411.24" y="244.78" width="7.65" height="8.25" fill="#bcb3de"/>
<rect x="418.38" y="244.78" width="7.65" height="8.25" fill="#d6d2ec"/>
<rect x="425.53" y="244.78" width="7.65" height="8.25" fill="#978bc9"/>
<rect x="432.68" y="244.78" width="7.65" height="8.25" fill="#f1bba2"/>
<rect x="439.82" y="244.78" width="7.65" height="8.25" fill="#978bc9"/>
<rect x="446.97" y="244.78" width="7.65" height="8.25" fill="#d6d2ec"/>
<rect x="454.12" y="244.78" width="7.65" height="8.25" fill="#978bc9"/>
<rect x="461.26" y="244.78" width="7.65" height="8.25" fill="#bcb3de"/>
<rect x="468.41" y="244.78" width="7.65" height="8.25" fill="#bcb3de"/>
<rect x="475.56" y="244.78" width="7.65" height="8.25" fill="#bcb3de"/>
<rect x="482.71" y="244.78" width="7.65" height="8.25" fill="#eb9a7c"/>
<rect x="489.85" y="244.78" width="7.15" height="8.25" fill="#978bc9"/>
<rect x="222.00" y="252.53" width="7.64" height="8.25" fill="#df6d50"/>
<rect x="229.14" y="252.53" width="7.64" height="8.25" fill="#eb9a7c"/>
<rect x="236.29" y="252.53" width="7.64" height="8.25" fill="#df6d50"/>
<rect x="243.43" y="252.53" width="7.64" height="8.25" fill="#eb9a7c"/>
<rect x="250.57" y="252.53" width="7.64" height="8.25" fill="#d6d2ec"/>
<rect x="257.71" y="252.53" width="7.64" height="8.25" fill="#bcb3de"/>
<rect x="264.86" y="252.53" width="7.64" height="8.25" fill="#df6d50"/>
<rect x="272.00" y="252.53" width="7.64" height="8.25" fill="#eb9a7c"/>
<rect x="279.14" y="252.53" width="7.64" height="8.25" fill="#eb9a7c"/>
<rect x="286.29" y="252.53" width="7.64" height="8.25" fill="#d6432d"/>
<rect x="293.43" y="252.53" width="7.64" height="8.25" fill="#eb9a7c"/>
<rect x="300.57" y="252.53" width="7.64" height="8.25" fill="#eb9a7c"/>
<rect x="307.71" y="252.53" width="7.64" height="8.25" fill="#df6d50"/>
<rect x="314.86" y="252.53" width="7.64" height="8.25" fill="#df6d50"/>
<rect x="322.00" y="252.53" width="7.64" height="8.25" fill="#d6432d"/>
<rect x="329.14" y="252.53" width="7.64" height="8.25" fill="#df6d50"/>
<rect x="336.29" y="252.53" width="7.64" height="8.25" fill="#df6d50"/>
<rect x="343.43" y="252.53" width="7.64" height="8.25" fill="#bcb3de"/>
<rect x="350.57" y="252.53" width="7.64" height="8.25" fill="#bcb3de"/>
<rect x="357.71" y="252.53" width="7.64" height="8.25" fill="#eb9a7c"/>
<rect x="364.86" y="252.53" width="7.14" height="8.25" fill="#eb9a7c"/>
<rect x="375.50" y="252.53" width="7.65" height="8.25" fill="#978bc9"/>
<rect x="382.65" y="252.53" width="7.65" height="8.25" fill="#bcb3de"/>
<rect x="389.79" y="252.53" width="7.65" height="8.25" fill="#7a6bbb"/>
<rect x="396.94" y="252.53" width="7.65" height="8.25" fill="#978bc9"/>
<rect x="404.09" y="252.53" width="7.65" height="8.25" fill="#978bc9"/>
<rect x="411.24" y="252.53" width="7.65" height="8.25" fill="#bcb3de"/>
<rect x="418.38" y="252.53" width="7.65" height="8.25" fill="#bcb3de"/>
<rect x="425.53" y="252.53" width="7.65" height="8.25" fill="#7a6bbb"/>
<rect x="432.68" y="252.53" width="7.65" height="8.25" fill="#978bc9"/>
<rect x="439.82" y="252.53" width="7.65" height="8.25" fill="#5d50ac"/>
<rect x="446.97" y="252.53" width="7.65" height="8.25" fill="#7a6bbb"/>
<rect x="454.12" y="252.53" width="7.65" height="8.25" fill="#7a6bbb"/>
<rect x="461.26" y="252.53" width="7.65" height="8.25" fill="#7a6bbb"/>
<rect x="468.41" y="252.53" width="7.65" height="8.25" fill="#bcb3de"/>
<rect x="475.56" y="252.53" width="7.65" height="8.25" fill="#bcb3de"/>
<rect x="482.71" y="252.53" width="7.65" height="8.25" fill="#bcb3de"/>
<rect x="489.85" y="252.53" width="7.15" height="8.25" fill="#bcb3de"/>
<rect x="222.00" y="260.27" width="7.64" height="8.25" fill="#d6432d"/>
<rect x="229.14" y="260.27" width="7.64" height="8.25" fill="#df6d50"/>
<rect x="236.29" y="260.27" width="7.64" height="8.25" fill="#cc1a14"/>
<rect x="243.43" y="260.27" width="7.64" height="8.25" fill="#eb9a7c"/>
<rect x="250.57" y="260.27" width="7.64" height="8.25" fill="#eb9a7c"/>
<rect x="257.71" y="260.27" width="7.64" height="8.25" fill="#f1bba2"/>
<rect x="264.86" y="260.27" width="7.64" height="8.25" fill="#eb9a7c"/>
<rect x="272.00" y="260.27" width="7.64" height="8.25" fill="#d6d2ec"/>
<rect x="279.14" y="260.27" width="7.64" height="8.25" fill="#f1bba2"/>
<rect x="286.29" y="260.27" width="7.64" height="8.25" fill="#cc1a14"/>
<rect x="293.43" y="260.27" width="7.64" height="8.25" fill="#cc1a14"/>
<rect x="300.57" y="260.27" width="7.64" height="8.25" fill="#cc1a14"/>
<rect x="307.71" y="260.27" width="7.64" height="8.25" fill="#df6d50"/>
<rect x="314.86" y="260.27" width="7.64" height="8.25" fill="#d6d2ec"/>
<rect x="322.00" y="260.27" width="7.64" height="8.25" fill="#cc1a14"/>
<rect x="329.14" y="260.27" width="7.64" height="8.25" fill="#cc1a14"/>
<rect x="336.29" y="260.27" width="7.64" height="8.25" fill="#f1bba2"/>
<rect x="343.43" y="260.27" width="7.64" height="8.25" fill="#7a6bbb"/>
<rect x="350.57" y="260.27" width="7.64" height="8.25" fill="#bcb3de"/>
<rect x="357.71" y="260.27" width="7.64" height="8.25" fill="#f1bba2"/>
<rect x="364.86" y="260.27" width="7.14" height="8.25" fill="#978bc9"/>
<rect x="375.50" y="260.27" width="7.65" height="8.25" fill="#3f4aa1"/>
<rect x="382.65" y="260.27" width="7.65" height="8.25" fill="#978bc9"/>
<rect x="389.79" y="260.27" width="7.65" height="8.25" fill="#978bc9"/>
<rect x="396.94" y="260.27" width="7.65" height="8.25" fill="#bcb3de"/>
<rect x="404.09" y="260.27" width="7.65" height="8.25" fill="#d6d2ec"/>
<rect x="411.24" y="260.27" width="7.65" height="8.25" fill="#5d50ac"/>
<rect x="418.38" y="260.27" width="7.65" height="8.25" fill="#bcb3de"/>
<rect x="425.53" y="260.27" width="7.65" height="8.25" fill="#7a6bbb"/>
<rect x="432.68" y="260.27" width="7.65" height="8.25" fill="#3f4aa1"/>
<rect x="439.82" y="260.27" width="7.65" height="8.25" fill="#3f4aa1"/>
<rect x="446.97" y="260.27" width="7.65" height="8.25" fill="#3f4aa1"/>
<rect x="454.12" y="260.27" width="7.65" height="8.25" fill="#3f4aa1"/>
<rect x="461.26" y="260.27" width="7.65" height="8.25" fill="#3f4aa1"/>
<rect x="468.41" y="260.27" width="7.65" height="8.25" fill="#f1bba2"/>
<rect x="475.56" y="260.27" width="7.65" height="8.25" fill="#f1bba2"/>
<rect x="482.71" y="260.27" width="7.65" height="8.25" fill="#d6d2ec"/>
<rect x="489.85" y="260.27" width="7.15" height="8.25" fill="#7a6bbb"/>
<rect x="222.00" y="268.02" width="7.64" height="8.25" fill="#7a6bbb"/>
<rect x="229.14" y="268.02" width="7.64" height="8.25" fill="#978bc9"/>
<rect x="236.29" y="268.02" width="7.64" height="8.25" fill="#bcb3de"/>
<rect x="243.43" y="268.02" width="7.64" height="8.25" fill="#eb9a7c"/>
<rect x="250.57" y="268.02" width="7.64" height="8.25" fill="#df6d50"/>
<rect x="257.71" y="268.02" width="7.64" height="8.25" fill="#eb9a7c"/>
<rect x="264.86" y="268.02" width="7.64" height="8.25" fill="#f1bba2"/>
<rect x="272.00" y="268.02" width="7.64" height="8.25" fill="#5d50ac"/>
<rect x="279.14" y="268.02" width="7.64" height="8.25" fill="#7a6bbb"/>
<rect x="286.29" y="268.02" width="7.64" height="8.25" fill="#3f4aa1"/>
<rect x="293.43" y="268.02" width="7.64" height="8.25" fill="#bcb3de"/>
<rect x="300.57" y="268.02" width="7.64" height="8.25" fill="#f1bba2"/>
<rect x="307.71" y="268.02" width="7.64" height="8.25" fill="#f5d6c8"/>
<rect x="314.86" y="268.02" width="7.64" height="8.25" fill="#d6d2ec"/>
<rect x="322.00" y="268.02" width="7.64" height="8.25" fill="#5d50ac"/>
<rect x="329.14" y="268.02" width="7.64" height="8.25" fill="#cc1a14"/>
<rect x="336.29" y="268.02" width="7.64" height="8.25" fill="#d6d2ec"/>
<rect x="343.43" y="268.02" width="7.64" height="8.25" fill="#d6432d"/>
<rect x="350.57" y="268.02" width="7.64" height="8.25" fill="#eb9a7c"/>
<rect x="357.71" y="268.02" width="7.64" height="8.25" fill="#d6432d"/>
<rect x="364.86" y="268.02" width="7.14" height="8.25" fill="#f1bba2"/>
<rect x="375.50" y="268.02" width="7.65" height="8.25" fill="#7a6bbb"/>
<rect x="382.65" y="268.02" width="7.65" height="8.25" fill="#f1bba2"/>
<rect x="389.79" y="268.02" width="7.65" height="8.25" fill="#cc1a14"/>
<rect x="396.94" y="268.02" width="7.65" height="8.25" fill="#eb9a7c"/>
<rect x="404.09" y="268.02" width="7.65" height="8.25" fill="#eb9a7c"/>
<rect x="411.24" y="268.02" width="7.65" height="8.25" fill="#eb9a7c"/>
<rect x="418.38" y="268.02" width="7.65" height="8.25" fill="#d6432d"/>
<rect x="425.53" y="268.02" width="7.65" height="8.25" fill="#eb9a7c"/>
<rect x="432.68" y="268.02" width="7.65" height="8.25" fill="#cc1a14"/>
<rect x="439.82" y="268.02" width="7.65" height="8.25" fill="#d6432d"/>
<rect x="446.97" y="268.02" width="7.65" height="8.25" fill="#eb9a7c"/>
<rect x="454.12" y="268.02" width="7.65" height="8.25" fill="#d6d2ec"/>
<rect x="461.26" y="268.02" width="7.65" height="8.25" fill="#eb9a7c"/>
<rect x="468.41" y="268.02" width="7.65" height="8.25" fill="#978bc9"/>
<rect x="475.56" y="268.02" width="7.65" height="8.25" fill="#cc1a14"/>
<rect x="482.71" y="268.02" width="7.65" height="8.25" fill="#d6d2ec"/>
<rect x="489.85" y="268.02" width="7.15" height="8.25" fill="#eb9a7c"/>
<rect x="222.00" y="275.76" width="7.64" height="8.25" fill="#eb9a7c"/>
<rect x="229.14" y="275.76" width="7.64" height="8.25" fill="#eb9a7c"/>
<rect x="236.29" y="275.76" width="7.64" height="8.25" fill="#978bc9"/>
<rect x="243.43" y="275.76" width="7.64" height="8.25" fill="#eb9a7c"/>
<rect x="250.57" y="275.76" width="7.64" height="8.25" fill="#eb9a7c"/>
<rect x="257.71" y="275.76" width="7.64" height="8.25" fill="#d6432d"/>
<rect x="264.86" y="275.76" width="7.64" height="8.25" fill="#978bc9"/>
<rect x="272.00" y="275.76" width="7.64" height="8.25" fill="#d6d2ec"/>
<rect x="279.14" y="275.76" width="7.64" height="8.25" fill="#d6d2ec"/>
<rect x="286.29" y="275.76" width="7.64" height="8.25" fill="#d6d2ec"/>
<rect x="293.43" y="275.76" width="7.64" height="8.25" fill="#d6d2ec"/>
<rect x="300.57" y="275.76" width="7.64" height="8.25" fill="#f1bba2"/>
<rect x="307.71" y="275.76" width="7.64" height="8.25" fill="#df6d50"/>
<rect x="314.86" y="275.76" width="7.64" height="8.25" fill="#bcb3de"/>
<rect x="322.00" y="275.76" width="7.64" height="8.25" fill="#bcb3de"/>
<rect x="329.14" y="275.76" width="7.64" height="8.25" fill="#eb9a7c"/>
<rect x="336.29" y="275.76" width="7.64" height="8.25" fill="#eb9a7c"/>
<rect x="343.43" y="275.76" width="7.64" height="8.25" fill="#7a6bbb"/>
<rect x="350.57" y="275.76" width="7.64" height="8.25" fill="#bcb3de"/>
<rect x="357.71" y="275.76" width="7.64" height="8.25" fill="#7a6bbb"/>
<rect x="364.86" y="275.76" width="7.14" height="8.25" fill="#7a6bbb"/>
<rect x="375.50" y="275.76" width="7.65" height="8.25" fill="#eb9a7c"/>
<rect x="382.65" y="275.76" width="7.65" height="8.25" fill="#f1bba2"/>
<rect x="389.79" y="275.76" width="7.65" height="8.25" fill="#df6d50"/>
<rect x="396.94" y="275.76" width="7.65" height="8.25" fill="#df6d50"/>
<rect x="404.09" y="275.76" width="7.65" height="8.25" fill="#df6d50"/>
<rect x="411.24" y="275.76" width="7.65" height="8.25" fill="#df6d50"/>
<rect x="418.38" y="275.76" width="7.65" height="8.25" fill="#bcb3de"/>
<rect x="425.53" y="275.76" width="7.65" height="8.25" fill="#f1bba2"/>
<rect x="432.68" y="275.76" width="7.65" height="8.25" fill="#d6d2ec"/>
<rect x="439.82" y="275.76" width="7.65" height="8.25" fill="#bcb3de"/>
<rect x="446.97" y="275.76" width="7.65" height="8.25" fill="#eb9a7c"/>
<rect x="454.12" y="275.76" width="7.65" height="8.25" fill="#eb9a7c"/>
<rect x="461.26" y="275.76" width="7.65" height="8.25" fill="#eb9a7c"/>
<rect x="468.41" y="275.76" width="7.65" height="8.25" fill="#d6d2ec"/>
<rect x="475.56" y="275.76" width="7.65" height="8.25" fill="#eb9a7c"/>
<rect x="482.71" y="275.76" width="7.65" height="8.25" fill="#d6432d"/>
<rect x="489.85" y="275.76" width="7.15" height="8.25" fill="#df6d50"/>
<rect x="222.00" y="283.51" width="7.64" height="8.25" fill="#eb9a7c"/>
<rect x="229.14" y="283.51" width="7.64" height="8.25" fill="#eb9a7c"/>
<rect x="236.29" y="283.51" width="7.64" height="8.25" fill="#f1bba2"/>
<rect x="243.43" y="283.51" width="7.64" height="8.25" fill="#978bc9"/>
<rect x="250.57" y="283.51" width="7.64" height="8.25" fill="#bcb3de"/>
<rect x="257.71" y="283.51" width="7.64" height="8.25" fill="#bcb3de"/>
<rect x="264.86" y="283.51" width="7.64" height="8.25" fill="#df6d50"/>
<rect x="272.00" y="283.51" width="7.64" height="8.25" fill="#f1bba2"/>
<rect x="279.14" y="283.51" width="7.64" height="8.25" fill="#d6d2ec"/>
<rect x="286.29" y="283.51" width="7.64" height="8.25" fill="#d6d2ec"/>
<rect x="293.43" y="283.51" width="7.64" height="8.25" fill="#f1bba2"/>
<rect x="300.57" y="283.51" width="7.64" height="8.25" fill="#bcb3de"/>
<rect x="307.71" y="283.51" width="7.64" height="8.25" fill="#eb9a7c"/>
<rect x="314.86" y="283.51" width="7.64" height="8.25" fill="#df6d50"/>
<rect x="322.00" y="283.51" width="7.64" height="8.25" fill="#f1bba2"/>
<rect x="329.14" y="283.51" width="7.64" height="8.25" fill="#d6d2ec"/>
<rect x="336.29" y="283.51" width="7.64" height="8.25" fill="#eb9a7c"/>
<rect x="343.43" y="283.51" width="7.64" height="8.25" fill="#eb9a7c"/>
<rect x="350.57" y="283.51" width="7.64" height="8.25" fill="#978bc9"/>
<rect x="357.71" y="283.51" width="7.64" height="8.25" fill="#bcb3de"/>
<rect x="364.86" y="283.51" width="7.14" height="8.25" fill="#d6432d"/>
<rect x="375.50" y="283.51" width="7.65" height="8.25" fill="#978bc9"/>
<rect x="382.65" y="283.51" width="7.65" height="8.25" fill="#bcb3de"/>
<rect x="389.79" y="283.51" width="7.65" height="8.25" fill="#f1bba2"/>
<rect x="396.94" y="283.51" width="7.65" height="8.25" fill="#bcb3de"/>
<rect x="404.09" y="283.51" width="7.65" height="8.25" fill="#bcb3de"/>
<rect x="411.24" y="283.51" width="7.65" height="8.25" fill="#eb9a7c"/>
<rect x="418.38" y="283.51" width="7.65" height="8.25" fill="#978bc9"/>
<rect x="425.53" y="283.51" width="7.65" height="8.25" fill="#bcb3de"/>
<rect x="432.68" y="283.51" width="7.65" height="8.25" fill="#eb9a7c"/>
<rect x="439.82" y="283.51" width="7.65" height="8.25" fill="#bcb3de"/>
<rect x="446.97" y="283.51" width="7.65" height="8.25" fill="#eb9a7c"/>
<rect x="454.12" y="283.51" width="7.65" height="8.25" fill="#eb9a7c"/>
<rect x="461.26" y="283.51" width="7.65" height="8.25" fill="#eb9a7c"/>
<rect x="468.41" y="283.51" width="7.65" height="8.25" fill="#eb9a7c"/>
<rect x="475.56" y="283.51" width="7.65" height="8.25" fill="#978bc9"/>
<rect x="482.71" y="283.51" width="7.65" height="8.25" fill="#eb9a7c"/>
<rect x="489.85" y="283.51" width="7.15" height="8.25" fill="#7a6bbb"/>
<rect x="222.00" y="291.25" width="7.64" height="8.25" fill="#7a6bbb"/>
<rect x="229.14" y="291.25" width="7.64" height="8.25" fill="#978bc9"/>
<rect x="236.29" y="291.25" width="7.64" height="8.25" fill="#eb9a7c"/>
<rect x="243.43" y="291.25" width="7.64" height="8.25" fill="#978bc9"/>
<rect x="250.57" y="291.25" width="7.64" height="8.25" fill="#bcb3de"/>
<rect x="257.71" y="291.25" width="7.64" height="8.25" fill="#978bc9"/>
<rect x="264.86" y="291.25" width="7.64" height="8.25" fill="#7a6bbb"/>
<rect x="272.00" y="291.25" width="7.64" height="8.25" fill="#eb9a7c"/>
<rect x="279.14" y="291.25" width="7.64" height="8.25" fill="#7a6bbb"/>
<rect x="286.29" y="291.25" width="7.64" height="8.25" fill="#bcb3de"/>
<rect x="293.43" y="291.25" width="7.64" height="8.25" fill="#7a6bbb"/>
<rect x="300.57" y="291.25" width="7.64" height="8.25" fill="#7a6bbb"/>
<rect x="307.71" y="291.25" width="7.64" height="8.25" fill="#eb9a7c"/>
<rect x="314.86" y="291.25" width="7.64" height="8.25" fill="#eb9a7c"/>
<rect x="322.00" y="291.25" width="7.64" height="8.25" fill="#bcb3de"/>
<rect x="329.14" y="291.25" width="7.64" height="8.25" fill="#d6432d"/>
<rect x="336.29" y="291.25" width="7.64" height="8.25" fill="#d6432d"/>
<rect x="343.43" y="291.25" width="7.64" height="8.25" fill="#eb9a7c"/>
<rect x="350.57" y="291.25" width="7.64" height="8.25" fill="#df6d50"/>
<rect x="357.71" y="291.25" width="7.64" height="8.25" fill="#cc1a14"/>
<rect x="364.86" y="291.25" width="7.14" height="8.25" fill="#cc1a14"/>
<rect x="375.50" y="291.25" width="7.65" height="8.25" fill="#978bc9"/>
<rect x="382.65" y="291.25" width="7.65" height="8.25" fill="#978bc9"/>
<rect x="389.79" y="291.25" width="7.65" height="8.25" fill="#978bc9"/>
<rect x="396.94" y="291.25" width="7.65" height="8.25" fill="#978bc9"/>
<rect x="404.09" y="291.25" width="7.65" height="8.25" fill="#bcb3de"/>
<rect x="411.24" y="291.25" width="7.65" height="8.25" fill="#eb9a7c"/>
<rect x="418.38" y="291.25" width="7.65" height="8.25" fill="#978bc9"/>
<rect x="425.53" y="291.25" width="7.65" height="8.25" fill="#978bc9"/>
<rect x="432.68" y="291.25" width="7.65" height="8.25" fill="#eb9a7c"/>
<rect x="439.82" y="291.25" width="7.65" height="8.25" fill="#978bc9"/>
<rect x="446.97" y="291.25" width="7.65" height="8.25" fill="#978bc9"/>
<rect x="454.12" y="291.25" width="7.65" height="8.25" fill="#f1bba2"/>
<rect x="461.26" y="291.25" width="7.65" height="8.25" fill="#df6d50"/>
<rect x="468.41" y="291.25" width="7.65" height="8.25" fill="#bcb3de"/>
<rect x="475.56" y="291.25" width="7.65" height="8.25" fill="#eb9a7c"/>
<rect x="482.71" y="291.25" width="7.65" height="8.25" fill="#eb9a7c"/>
<rect x="489.85" y="291.25" width="7.15" height="8.25" fill="#978bc9"/>
<rect x="222.00" y="299.00" width="7.64" height="8.25" fill="#978bc9"/>
<rect x="229.14" y="299.00" width="7.64" height="8.25" fill="#bcb3de"/>
<rect x="236.29" y="299.00" width="7.64" height="8.25" fill="#bcb3de"/>
<rect x="243.43" y="299.00" width="7.64" height="8.25" fill="#978bc9"/>
<rect x="250.57" y="299.00" width="7.64" height="8.25" fill="#978bc9"/>
<rect x="257.71" y="299.00" width="7.64" height="8.25" fill="#bcb3de"/>
<rect x="264.86" y="299.00" width="7.64" height="8.25" fill="#7a6bbb"/>
<rect x="272.00" y="299.00" width="7.64" height="8.25" fill="#eb9a7c"/>
<rect x="279.14" y="299.00" width="7.64" height="8.25" fill="#eb9a7c"/>
<rect x="286.29" y="299.00" width="7.64" height="8.25" fill="#df6d50"/>
<rect x="293.43" y="299.00" width="7.64" height="8.25" fill="#978bc9"/>
<rect x="300.57" y="299.00" width="7.64" height="8.25" fill="#f1bba2"/>
<rect x="307.71" y="299.00" width="7.64" height="8.25" fill="#eb9a7c"/>
<rect x="314.86" y="299.00" width="7.64" height="8.25" fill="#df6d50"/>
<rect x="322.00" y="299.00" width="7.64" height="8.25" fill="#bcb3de"/>
<rect x="329.14" y="299.00" width="7.64" height="8.25" fill="#d6d2ec"/>
<rect x="336.29" y="299.00" width="7.64" height="8.25" fill="#d6d2ec"/>
<rect x="343.43" y="299.00" width="7.64" height="8.25" fill="#978bc9"/>
<rect x="350.57" y="299.00" width="7.64" height="8.25" fill="#eb9a7c"/>
<rect x="357.71" y="299.00" width="7.64" height="8.25" fill="#d6d2ec"/>
<rect x="364.86" y="299.00" width="7.14" height="8.25" fill="#d6432d"/>
<rect x="375.50" y="299.00" width="7.65" height="8.25" fill="#df6d50"/>
<rect x="382.65" y="299.00" width="7.65" height="8.25" fill="#eb9a7c"/>
<rect x="389.79" y="299.00" width="7.65" height="8.25" fill="#978bc9"/>
<rect x="396.94" y="299.00" width="7.65" height="8.25" fill="#d6d2ec"/>
<rect x="404.09" y="299.00" width="7.65" height="8.25" fill="#978bc9"/>
<rect x="411.24" y="299.00" width="7.65" height="8.25" fill="#df6d50"/>
<rect x="418.38" y="299.00" width="7.65" height="8.25" fill="#bcb3de"/>
<rect x="425.53" y="299.00" width="7.65" height="8.25" fill="#bcb3de"/>
<rect x="432.68" y="299.00" width="7.65" height="8.25" fill="#eb9a7c"/>
<rect x="439.82" y="299.00" width="7.65" height="8.25" fill="#f1bba2"/>
<rect x="446.97" y="299.00" width="7.65" height="8.25" fill="#df6d50"/>
<rect x="454.12" y="299.00" width="7.65" height="8.25" fill="#df6d50"/>
<rect x="461.26" y="299.00" width="7.65" height="8.25" fill="#df6d50"/>
<rect x="468.41" y="299.00" width="7.65" height="8.25" fill="#d6d2ec"/>
<rect x="475.56" y="299.00" width="7.65" height="8.25" fill="#7a6bbb"/>
<rect x="482.71" y="299.00" width="7.65" height="8.25" fill="#df6d50"/>
<rect x="489.85" y="299.00" width="7.15" height="8.25" fill="#cc1a14"/>
<rect x="222.00" y="306.75" width="7.64" height="8.25" fill="#bcb3de"/>
<rect x="229.14" y="306.75" width="7.64" height="8.25" fill="#978bc9"/>
<rect x="236.29" y="306.75" width="7.64" height="8.25" fill="#d6d2ec"/>
<rect x="243.43" y="306.75" width="7.64" height="8.25" fill="#bcb3de"/>
<rect x="250.57" y="306.75" width="7.64" height="8.25" fill="#bcb3de"/>
<rect x="257.71" y="306.75" width="7.64" height="8.25" fill="#bcb3de"/>
<rect x="264.86" y="306.75" width="7.64" height="8.25" fill="#eb9a7c"/>
<rect x="272.00" y="306.75" width="7.64" height="8.25" fill="#d6432d"/>
<rect x="279.14" y="306.75" width="7.64" height="8.25" fill="#978bc9"/>
<rect x="286.29" y="306.75" width="7.64" height="8.25" fill="#d6432d"/>
<rect x="293.43" y="306.75" width="7.64" height="8.25" fill="#f1bba2"/>
<rect x="300.57" y="306.75" width="7.64" height="8.25" fill="#d6432d"/>
<rect x="307.71" y="306.75" width="7.64" height="8.25" fill="#df6d50"/>
<rect x="314.86" y="306.75" width="7.64" height="8.25" fill="#df6d50"/>
<rect x="322.00" y="306.75" width="7.64" height="8.25" fill="#df6d50"/>
<rect x="329.14" y="306.75" width="7.64" height="8.25" fill="#df6d50"/>
<rect x="336.29" y="306.75" width="7.64" height="8.25" fill="#df6d50"/>
<rect x="343.43" y="306.75" width="7.64" height="8.25" fill="#978bc9"/>
<rect x="350.57" y="306.75" width="7.64" height="8.25" fill="#eb9a7c"/>
<rect x="357.71" y="306.75" width="7.64" height="8.25" fill="#eb9a7c"/>
<rect x="364.86" y="306.75" width="7.14" height="8.25" fill="#eb9a7c"/>
<rect x="375.50" y="306.75" width="7.65" height="8.25" fill="#f1bba2"/>
<rect x="382.65" y="306.75" width="7.65" height="8.25" fill="#978bc9"/>
<rect x="389.79" y="306.75" width="7.65" height="8.25" fill="#bcb3de"/>
<rect x="396.94" y="306.75" width="7.65" height="8.25" fill="#7a6bbb"/>
<rect x="404.09" y="306.75" width="7.65" height="8.25" fill="#7a6bbb"/>
<rect x="411.24" y="306.75" width="7.65" height="8.25" fill="#df6d50"/>
<rect x="418.38" y="306.75" width="7.65" height="8.25" fill="#bcb3de"/>
<rect x="425.53" y="306.75" width="7.65" height="8.25" fill="#5d50ac"/>
<rect x="432.68" y="306.75" width="7.65" height="8.25" fill="#bcb3de"/>
<rect x="439.82" y="306.75" width="7.65" height="8.25" fill="#978bc9"/>
<rect x="446.97" y="306.75" width="7.65" height="8.25" fill="#5d50ac"/>
<rect x="454.12" y="306.75" width="7.65" height="8.25" fill="#df6d50"/>
<rect x="461.26" y="306.75" width="7.65" height="8.25" fill="#eb9a7c"/>
<rect x="468.41" y="306.75" width="7.65" height="8.25" fill="#bcb3de"/>
<rect x="475.56" y="306.75" width="7.65" height="8.25" fill="#978bc9"/>
<rect x="482.71" y="306.75" width="7.65" height="8.25" fill="#df6d50"/>
<rect x="489.85" y="306.75" width="7.15" height="8.25" fill="#eb9a7c"/>
<rect x="222.00" y="314.49" width="7.64" height="8.25" fill="#bcb3de"/>
<rect x="229.14" y="314.49" width="7.64" height="8.25" fill="#bcb3de"/>
<rect x="236.29" y="314.49" width="7.64" height="8.25" fill="#bcb3de"/>
<rect x="243.43" y="314.49" width="7.64" height="8.25" fill="#bcb3de"/>
<rect x="250.57" y="314.49" width="7.64" height="8.25" fill="#978bc9"/>
<rect x="257.71" y="314.49" width="7.64" height="8.25" fill="#bcb3de"/>
<rect x="264.86" y="314.49" width="7.64" height="8.25" fill="#eb9a7c"/>
<rect x="272.00" y="314.49" width="7.64" height="8.25" fill="#df6d50"/>
<rect x="279.14" y="314.49" width="7.64" height="8.25" fill="#d6432d"/>
<rect x="286.29" y="314.49" width="7.64" height="8.25" fill="#d6432d"/>
<rect x="293.43" y="314.49" width="7.64" height="8.25" fill="#df6d50"/>
<rect x="300.57" y="314.49" width="7.64" height="8.25" fill="#d6432d"/>
<rect x="307.71" y="314.49" width="7.64" height="8.25" fill="#eb9a7c"/>
<rect x="314.86" y="314.49" width="7.64" height="8.25" fill="#eb9a7c"/>
<rect x="322.00" y="314.49" width="7.64" height="8.25" fill="#df6d50"/>
<rect x="329.14" y="314.49" width="7.64" height="8.25" fill="#df6d50"/>
<rect x="336.29" y="314.49" width="7.64" height="8.25" fill="#978bc9"/>
<rect x="343.43" y="314.49" width="7.64" height="8.25" fill="#978bc9"/>
<rect x="350.57" y="314.49" width="7.64" height="8.25" fill="#eb9a7c"/>
<rect x="357.71" y="314.49" width="7.64" height="8.25" fill="#f1bba2"/>
<rect x="364.86" y="314.49" width="7.14" height="8.25" fill="#eb9a7c"/>
<rect x="375.50" y="314.49" width="7.65" height="8.25" fill="#eb9a7c"/>
<rect x="382.65" y="314.49" width="7.65" height="8.25" fill="#eb9a7c"/>
<rect x="389.79" y="314.49" width="7.65" height="8.25" fill="#7a6bbb"/>
<rect x="396.94" y="314.49" width="7.65" height="8.25" fill="#bcb3de"/>
<rect x="404.09" y="314.49" width="7.65" height="8.25" fill="#978bc9"/>
<rect x="411.24" y="314.49" width="7.65" height="8.25" fill="#bcb3de"/>
<rect x="418.38" y="314.49" width="7.65" height="8.25" fill="#978bc9"/>
<rect x="425.53" y="314.49" width="7.65" height="8.25" fill="#978bc9"/>
<rect x="432.68" y="314.49" width="7.65" height="8.25" fill="#eb9a7c"/>
<rect x="439.82" y="314.49" width="7.65" height="8.25" fill="#bcb3de"/>
<rect x="446.97" y="314.49" width="7.65" height="8.25" fill="#7a6bbb"/>
<rect x="454.12" y="314.49" width="7.65" height="8.25" fill="#978bc9"/>
<rect x="461.26" y="314.49" width="7.65" height="8.25" fill="#bcb3de"/>
<rect x="468.41" y="314.49" width="7.65" height="8.25" fill="#bcb3de"/>
<rect x="475.56" y="314.49" width="7.65" height="8.25" fill="#978bc9"/>
<rect x="482.71" y="314.49" width="7.65" height="8.25" fill="#eb9a7c"/>
<rect x="489.85" y="314.49" width="7.15" height="8.25" fill="#df6d50"/>
<rect x="222.00" y="322.24" width="7.64" height="8.25" fill="#bcb3de"/>
<rect x="229.14" y="322.24" width="7.64" height="8.25" fill="#7a6bbb"/>
<rect x="236.29" y="322.24" width="7.64" height="8.25" fill="#bcb3de"/>
<rect x="243.43" y="322.24" width="7.64" height="8.25" fill="#eb9a7c"/>
<rect x="250.57" y="322.24" width="7.64" height="8.25" fill="#d6d2ec"/>
<rect x="257.71" y="322.24" width="7.64" height="8.25" fill="#f1bba2"/>
<rect x="264.86" y="322.24" width="7.64" height="8.25" fill="#d6d2ec"/>
<rect x="272.00" y="322.24" width="7.64" height="8.25" fill="#eb9a7c"/>
<rect x="279.14" y="322.24" width="7.64" height="8.25" fill="#df6d50"/>
<rect x="286.29" y="322.24" width="7.64" height="8.25" fill="#df6d50"/>
<rect x="293.43" y="322.24" width="7.64" height="8.25" fill="#f1bba2"/>
<rect x="300.57" y="322.24" width="7.64" height="8.25" fill="#eb9a7c"/>
<rect x="307.71" y="322.24" width="7.64" height="8.25" fill="#eb9a7c"/>
<rect x="314.86" y="322.24" width="7.64" height="8.25" fill="#978bc9"/>
<rect x="322.00" y="322.24" width="7.64" height="8.25" fill="#eb9a7c"/>
<rect x="329.14" y="322.24" width="7.64" height="8.25" fill="#eb9a7c"/>
<rect x="336.29" y="322.24" width="7.64" height="8.25" fill="#df6d50"/>
<rect x="343.43" y="322.24" width="7.64" height="8.25" fill="#df6d50"/>
<rect x="350.57" y="322.24" width="7.64" height="8.25" fill="#f1bba2"/>
<rect x="357.71" y="322.24" width="7.64" height="8.25" fill="#eb9a7c"/>
<rect x="364.86" y="322.24" width="7.14" height="8.25" fill="#df6d50"/>
<rect x="375.50" y="322.24" width="7.65" height="8.25" fill="#978bc9"/>
<rect x="382.65" y="322.24" width="7.65" height="8.25" fill="#978bc9"/>
<rect x="389.79" y="322.24" width="7.65" height="8.25" fill="#978bc9"/>
<rect x="396.94" y="322.24" width="7.65" height="8.25" fill="#bcb3de"/>
<rect x="404.09" y="322.24" width="7.65" height="8.25" fill="#bcb3de"/>
<rect x="411.24" y="322.24" width="7.65" height="8.25" fill="#bcb3de"/>
<rect x="418.38" y="322.24" width="7.65" height="8.25" fill="#df6d50"/>
<rect x="425.53" y="322.24" width="7.65" height="8.25" fill="#3f4aa1"/>
<rect x="432.68" y="322.24" width="7.65" height="8.25" fill="#bcb3de"/>
<rect x="439.82" y="322.24" width="7.65" height="8.25" fill="#7a6bbb"/>
<rect x="446.97" y="322.24" width="7.65" height="8.25" fill="#5d50ac"/>
<rect x="454.12" y="322.24" width="7.65" height="8.25" fill="#d6d2ec"/>
<rect x="461.26" y="322.24" width="7.65" height="8.25" fill="#f1bba2"/>
<rect x="468.41" y="322.24" width="7.65" height="8.25" fill="#bcb3de"/>
<rect x="475.56" y="322.24" width="7.65" height="8.25" fill="#bcb3de"/>
<rect x="482.71" y="322.24" width="7.65" height="8.25" fill="#bcb3de"/>
<rect x="489.85" y="322.24" width="7.15" height="8.25" fill="#eb9a7c"/>
<rect x="222.00" y="329.98" width="7.64" height="8.25" fill="#bcb3de"/>
<rect x="229.14" y="329.98" width="7.64" height="8.25" fill="#5d50ac"/>
<rect x="236.29" y="329.98" width="7.64" height="8.25" fill="#978bc9"/>
<rect x="243.43" y="329.98" width="7.64" height="8.25" fill="#978bc9"/>
<rect x="250.57" y="329.98" width="7.64" height="8.25" fill="#7a6bbb"/>
<rect x="257.71" y="329.98" width="7.64" height="8.25" fill="#7a6bbb"/>
<rect x="264.86" y="329.98" width="7.64" height="8.25" fill="#978bc9"/>
<rect x="272.00" y="329.98" width="7.64" height="8.25" fill="#bcb3de"/>
<rect x="279.14" y="329.98" width="7.64" height="8.25" fill="#d6432d"/>
<rect x="286.29" y="329.98" width="7.64" height="8.25" fill="#eb9a7c"/>
<rect x="293.43" y="329.98" width="7.64" height="8.25" fill="#bcb3de"/>
<rect x="300.57" y="329.98" width="7.64" height="8.25" fill="#eb9a7c"/>
<rect x="307.71" y="329.98" width="7.64" height="8.25" fill="#eb9a7c"/>
<rect x="314.86" y="329.98" width="7.64" height="8.25" fill="#df6d50"/>
<rect x="322.00" y="329.98" width="7.64" height="8.25" fill="#d6d2ec"/>
<rect x="329.14" y="329.98" width="7.64" height="8.25" fill="#978bc9"/>
<rect x="336.29" y="329.98" width="7.64" height="8.25" fill="#eb9a7c"/>
<rect x="343.43" y="329.98" width="7.64" height="8.25" fill="#eb9a7c"/>
<rect x="350.57" y="329.98" width="7.64" height="8.25" fill="#eb9a7c"/>
<rect x="357.71" y="329.98" width="7.64" height="8.25" fill="#eb9a7c"/>
<rect x="364.86" y="329.98" width="7.14" height="8.25" fill="#df6d50"/>
<rect x="375.50" y="329.98" width="7.65" height="8.25" fill="#978bc9"/>
<rect x="382.65" y="329.98" width="7.65" height="8.25" fill="#978bc9"/>
<rect x="389.79" y="329.98" width="7.65" height="8.25" fill="#7a6bbb"/>
<rect x="396.94" y="329.98" width="7.65" height="8.25" fill="#978bc9"/>
<rect x="404.09" y="329.98" width="7.65" height="8.25" fill="#978bc9"/>
<rect x="411.24" y="329.98" width="7.65" height="8.25" fill="#978bc9"/>
<rect x="418.38" y="329.98" width="7.65" height="8.25" fill="#978bc9"/>
<rect x="425.53" y="329.98" width="7.65" height="8.25" fill="#7a6bbb"/>
<rect x="432.68" y="329.98" width="7.65" height="8.25" fill="#bcb3de"/>
<rect x="439.82" y="329.98" width="7.65" height="8.25" fill="#978bc9"/>
<rect x="446.97" y="329.98" width="7.65" height="8.25" fill="#978bc9"/>
<rect x="454.12" y="329.98" width="7.65" height="8.25" fill="#df6d50"/>
<rect x="461.26" y="329.98" width="7.65" height="8.25" fill="#eb9a7c"/>
<rect x="468.41" y="329.98" width="7.65" height="8.25" fill="#eb9a7c"/>
<rect x="475.56" y="329.98" width="7.65" height="8.25" fill="#978bc9"/>
<rect x="482.71" y="329.98" width="7.65" height="8.25" fill="#978bc9"/>
<rect x="489.85" y="329.98" width="7.15" height="8.25" fill="#eb9a7c"/>
<rect x="222.00" y="337.73" width="7.64" height="8.25" fill="#978bc9"/>
<rect x="229.14" y="337.73" width="7.64" height="8.25" fill="#eb9a7c"/>
<rect x="236.29" y="337.73" width="7.64" height="8.25" fill="#d6d2ec"/>
<rect x="243.43" y="337.73" width="7.64" height="8.25" fill="#eb9a7c"/>
<rect x="250.57" y="337.73" width="7.64" height="8.25" fill="#eb9a7c"/>
<rect x="257.71" y="337.73" width="7.64" height="8.25" fill="#bcb3de"/>
<rect x="264.86" y="337.73" width="7.64" height="8.25" fill="#d6d2ec"/>
<rect x="272.00" y="337.73" width="7.64" height="8.25" fill="#f1bba2"/>
<rect x="279.14" y="337.73" width="7.64" height="8.25" fill="#bcb3de"/>
<rect x="286.29" y="337.73" width="7.64" height="8.25" fill="#bcb3de"/>
<rect x="293.43" y="337.73" width="7.64" height="8.25" fill="#bcb3de"/>
<rect x="300.57" y="337.73" width="7.64" height="8.25" fill="#bcb3de"/>
<rect x="307.71" y="337.73" width="7.64" height="8.25" fill="#df6d50"/>
<rect x="314.86" y="337.73" width="7.64" height="8.25" fill="#978bc9"/>
<rect x="322.00" y="337.73" width="7.64" height="8.25" fill="#eb9a7c"/>
<rect x="329.14" y="337.73" width="7.64" height="8.25" fill="#978bc9"/>
<rect x="336.29" y="337.73" width="7.64" height="8.25" fill="#eb9a7c"/>
<rect x="343.43" y="337.73" width="7.64" height="8.25" fill="#eb9a7c"/>
<rect x="350.57" y="337.73" width="7.64" height="8.25" fill="#978bc9"/>
<rect x="357.71" y="337.73" width="7.64" height="8.25" fill="#eb9a7c"/>
<rect x="364.86" y="337.73" width="7.14" height="8.25" fill="#eb9a7c"/>
<rect x="375.50" y="337.73" width="7.65" height="8.25" fill="#978bc9"/>
<rect x="382.65" y="337.73" width="7.65" height="8.25" fill="#bcb3de"/>
<rect x="389.79" y="337.73" width="7.65" height="8.25" fill="#7a6bbb"/>
<rect x="396.94" y="337.73" width="7.65" height="8.25" fill="#eb9a7c"/>
<rect x="404.09" y="337.73" width="7.65" height="8.25" fill="#eb9a7c"/>
<rect x="411.24" y="337.73" width="7.65" height="8.25" fill="#df6d50"/>
<rect x="418.38" y="337.73" width="7.65" height="8.25" fill="#df6d50"/>
<rect x="425.53" y="337.73" width="7.65" height="8.25" fill="#978bc9"/>
<rect x="432.68" y="337.73" width="7.65" height="8.25" fill="#7a6bbb"/>
<rect x="439.82" y="337.73" width="7.65" height="8.25" fill="#eb9a7c"/>
<rect x="446.97" y="337.73" width="7.65" height="8.25" fill="#f1bba2"/>
<rect x="454.12" y="337.73" width="7.65" height="8.25" fill="#7a6bbb"/>
<rect x="461.26" y="337.73" width="7.65" height="8.25" fill="#eb9a7c"/>
<rect x="468.41" y="337.73" width="7.65" height="8.25" fill="#eb9a7c"/>
<rect x="475.56" y="337.73" width="7.65" height="8.25" fill="#f1bba2"/>
<rect x="482.71" y="337.73" width="7.65" height="8.25" fill="#978bc9"/>
<rect x="489.85" y="337.73" width="7.15" height="8.25" fill="#bcb3de"/>
<rect x="222.00" y="345.47" width="7.64" height="8.25" fill="#bcb3de"/>
<rect x="229.14" y="345.47" width="7.64" height="8.25" fill="#978bc9"/>
<rect x="236.29" y="345.47" width="7.64" height="8.25" fill="#df6d50"/>
<rect x="243.43" y="345.47" width="7.64" height="8.25" fill="#eb9a7c"/>
<rect x="250.57" y="345.47" width="7.64" height="8.25" fill="#eb9a7c"/>
<rect x="257.71" y="345.47" width="7.64" height="8.25" fill="#bcb3de"/>
<rect x="264.86" y="345.47" width="7.64" height="8.25" fill="#978bc9"/>
<rect x="272.00" y="345.47" width="7.64" height="8.25" fill="#978bc9"/>
<rect x="279.14" y="345.47" width="7.64" height="8.25" fill="#bcb3de"/>
<rect x="286.29" y="345.47" width="7.64" height="8.25" fill="#bcb3de"/>
<rect x="293.43" y="345.47" width="7.64" height="8.25" fill="#7a6bbb"/>
<rect x="300.57" y="345.47" width="7.64" height="8.25" fill="#978bc9"/>
<rect x="307.71" y="345.47" width="7.64" height="8.25" fill="#d6d2ec"/>
<rect x="314.86" y="345.47" width="7.64" height="8.25" fill="#d6432d"/>
<rect x="322.00" y="345.47" width="7.64" height="8.25" fill="#df6d50"/>
<rect x="329.14" y="345.47" width="7.64" height="8.25" fill="#cc1a14"/>
<rect x="336.29" y="345.47" width="7.64" height="8.25" fill="#df6d50"/>
<rect x="343.43" y="345.47" width="7.64" height="8.25" fill="#df6d50"/>
<rect x="350.57" y="345.47" width="7.64" height="8.25" fill="#eb9a7c"/>
<rect x="357.71" y="345.47" width="7.64" height="8.25" fill="#df6d50"/>
<rect x="364.86" y="345.47" width="7.14" height="8.25" fill="#d6432d"/>
<rect x="375.50" y="345.47" width="7.65" height="8.25" fill="#3f4aa1"/>
<rect x="382.65" y="345.47" width="7.65" height="8.25" fill="#5d50ac"/>
<rect x="389.79" y="345.47" width="7.65" height="8.25" fill="#7a6bbb"/>
<rect x="396.94" y="345.47" width="7.65" height="8.25" fill="#df6d50"/>
<rect x="404.09" y="345.47" width="7.65" height="8.25" fill="#bcb3de"/>
<rect x="411.24" y="345.47" width="7.65" height="8.25" fill="#978bc9"/>
<rect x="418.38" y="345.47" width="7.65" height="8.25" fill="#978bc9"/>
<rect x="425.53" y="345.47" width="7.65" height="8.25" fill="#7a6bbb"/>
<rect x="432.68" y="345.47" width="7.65" height="8.25" fill="#7a6bbb"/>
<rect x="439.82" y="345.47" width="7.65" height="8.25" fill="#eb9a7c"/>
<rect x="446.97" y="345.47" width="7.65" height="8.25" fill="#eb9a7c"/>
<rect x="454.12" y="345.47" width="7.65" height="8.25" fill="#978bc9"/>
<rect x="461.26" y="345.47" width="7.65" height="8.25" fill="#978bc9"/>
<rect x="468.41" y="345.47" width="7.65" height="8.25" fill="#bcb3de"/>
<rect x="475.56" y="345.47" width="7.65" height="8.25" fill="#df6d50"/>
<rect x="482.71" y="345.47" width="7.65" height="8.25" fill="#7a6bbb"/>
<rect x="489.85" y="345.47" width="7.15" height="8.25" fill="#7a6bbb"/>
<rect x="222.00" y="353.22" width="7.64" height="8.25" fill="#7a6bbb"/>
<rect x="229.14" y="353.22" width="7.64" height="8.25" fill="#d6d2ec"/>
<rect x="236.29" y="353.22" width="7.64" height="8.25" fill="#bcb3de"/>
<rect x="243.43" y="353.22" width="7.64" height="8.25" fill="#eb9a7c"/>
<rect x="250.57" y="353.22" width="7.64" height="8.25" fill="#eb9a7c"/>
<rect x="257.71" y="353.22" width="7.64" height="8.25" fill="#bcb3de"/>
<rect x="264.86" y="353.22" width="7.64" height="8.25" fill="#7a6bbb"/>
<rect x="272.00" y="353.22" width="7.64" height="8.25" fill="#bcb3de"/>
<rect x="279.14" y="353.22" width="7.64" height="8.25" fill="#978bc9"/>
<rect x="286.29" y="353.22" width="7.64" height="8.25" fill="#978bc9"/>
<rect x="293.43" y="353.22" width="7.64" height="8.25" fill="#f1bba2"/>
<rect x="300.57" y="353.22" width="7.64" height="8.25" fill="#bcb3de"/>
<rect x="307.71" y="353.22" width="7.64" height="8.25" fill="#eb9a7c"/>
<rect x="314.86" y="353.22" width="7.64" height="8.25" fill="#bcb3de"/>
<rect x="322.00" y="353.22" width="7.64" height="8.25" fill="#df6d50"/>
<rect x="329.14" y="353.22" width="7.64" height="8.25" fill="#df6d50"/>
<rect x="336.29" y="353.22" width="7.64" height="8.25" fill="#978bc9"/>
<rect x="343.43" y="353.22" width="7.64" height="8.25" fill="#df6d50"/>
<rect x="350.57" y="353.22" width="7.64" height="8.25" fill="#eb9a7c"/>
<rect x="357.71" y="353.22" width="7.64" height="8.25" fill="#df6d50"/>
<rect x="364.86" y="353.22" width="7.14" height="8.25" fill="#eb9a7c"/>
<rect x="375.50" y="353.22" width="7.65" height="8.25" fill="#7a6bbb"/>
<rect x="382.65" y="353.22" width="7.65" height="8.25" fill="#5d50ac"/>
<rect x="389.79" y="353.22" width="7.65" height="8.25" fill="#7a6bbb"/>
<rect x="396.94" y="353.22" width="7.65" height="8.25" fill="#bcb3de"/>
<rect x="404.09" y="353.22" width="7.65" height="8.25" fill="#bcb3de"/>
<rect x="411.24" y="353.22" width="7.65" height="8.25" fill="#978bc9"/>
<rect x="418.38" y="353.22" width="7.65" height="8.25" fill="#978bc9"/>
<rect x="425.53" y="353.22" width="7.65" height="8.25" fill="#3f4aa1"/>
<rect x="432.68" y="353.22" width="7.65" height="8.25" fill="#978bc9"/>
<rect x="439.82" y="353.22" width="7.65" height="8.25" fill="#eb9a7c"/>
<rect x="446.97" y="353.22" width="7.65" height="8.25" fill="#7a6bbb"/>
<rect x="454.12" y="353.22" width="7.65" height="8.25" fill="#7a6bbb"/>
<rect x="461.26" y="353.22" width="7.65" height="8.25" fill="#d6d2ec"/>
<rect x="468.41" y="353.22" width="7.65" height="8.25" fill="#5d50ac"/>
<rect x="475.56" y="353.22" width="7.65" height="8.25" fill="#eb9a7c"/>
<rect x="482.71" y="353.22" width="7.65" height="8.25" fill="#eb9a7c"/>
<rect x="489.85" y="353.22" width="7.15" height="8.25" fill="#eb9a7c"/>
<rect x="222.00" y="360.96" width="7.64" height="8.25" fill="#978bc9"/>
<rect x="229.14" y="360.96" width="7.64" height="8.25" fill="#978bc9"/>
<rect x="236.29" y="360.96" width="7.64" height="8.25" fill="#d6d2ec"/>
<rect x="243.43" y="360.96" width="7.64" height="8.25" fill="#978bc9"/>
<rect x="250.57" y="360.96" width="7.64" height="8.25" fill="#bcb3de"/>
<rect x="257.71" y="360.96" width="7.64" height="8.25" fill="#bcb3de"/>
<rect x="264.86" y="360.96" width="7.64" height="8.25" fill="#d6d2ec"/>
<rect x="272.00" y="360.96" width="7.64" height="8.25" fill="#bcb3de"/>
<rect x="279.14" y="360.96" width="7.64" height="8.25" fill="#7a6bbb"/>
<rect x="286.29" y="360.96" width="7.64" height="8.25" fill="#d6d2ec"/>
<rect x="293.43" y="360.96" width="7.64" height="8.25" fill="#bcb3de"/>
<rect x="300.57" y="360.96" width="7.64" height="8.25" fill="#978bc9"/>
<rect x="307.71" y="360.96" width="7.64" height="8.25" fill="#eb9a7c"/>
<rect x="314.86" y="360.96" width="7.64" height="8.25" fill="#df6d50"/>
<rect x="322.00" y="360.96" width="7.64" height="8.25" fill="#df6d50"/>
<rect x="329.14" y="360.96" width="7.64" height="8.25" fill="#bcb3de"/>
<rect x="336.29" y="360.96" width="7.64" height="8.25" fill="#df6d50"/>
<rect x="343.43" y="360.96" width="7.64" height="8.25" fill="#eb9a7c"/>
<rect x="350.57" y="360.96" width="7.64" height="8.25" fill="#d6d2ec"/>
<rect x="357.71" y="360.96" width="7.64" height="8.25" fill="#bcb3de"/>
<rect x="364.86" y="360.96" width="7.14" height="8.25" fill="#978bc9"/>
<rect x="375.50" y="360.96" width="7.65" height="8.25" fill="#d6d2ec"/>
<rect x="382.65" y="360.96" width="7.65" height="8.25" fill="#eb9a7c"/>
<rect x="389.79" y="360.96" width="7.65" height="8.25" fill="#978bc9"/>
<rect x="396.94" y="360.96" width="7.65" height="8.25" fill="#bcb3de"/>
<rect x="404.09" y="360.96" width="7.65" height="8.25" fill="#bcb3de"/>
<rect x="411.24" y="360.96" width="7.65" height="8.25" fill="#978bc9"/>
<rect x="418.38" y="360.96" width="7.65" height="8.25" fill="#f1bba2"/>
<rect x="425.53" y="360.96" width="7.65" height="8.25" fill="#bcb3de"/>
<rect x="432.68" y="360.96" width="7.65" height="8.25" fill="#978bc9"/>
<rect x="439.82" y="360.96" width="7.65" height="8.25" fill="#7a6bbb"/>
<rect x="446.97" y="360.96" width="7.65" height="8.25" fill="#978bc9"/>
<rect x="454.12" y="360.96" width="7.65" height="8.25" fill="#978bc9"/>
<rect x="461.26" y="360.96" width="7.65" height="8.25" fill="#978bc9"/>
<rect x="468.41" y="360.96" width="7.65" height="8.25" fill="#df6d50"/>
<rect x="475.56" y="360.96" width="7.65" height="8.25" fill="#978bc9"/>
<rect x="482.71" y="360.96" width="7.65" height="8.25" fill="#d6d2ec"/>
<rect x="489.85" y="360.96" width="7.15" height="8.25" fill="#d6432d"/>
<rect x="222.00" y="368.71" width="7.64" height="8.25" fill="#eb9a7c"/>
<rect x="229.14" y="368.71" width="7.64" height="8.25" fill="#df6d50"/>
<rect x="236.29" y="368.71" width="7.64" height="8.25" fill="#df6d50"/>
<rect x="243.43" y="368.71" width="7.64" height="8.25" fill="#bcb3de"/>
<rect x="250.57" y="368.71" width="7.64" height="8.25" fill="#f1bba2"/>
<rect x="257.71" y="368.71" width="7.64" height="8.25" fill="#7a6bbb"/>
<rect x="264.86" y="368.71" width="7.64" height="8.25" fill="#df6d50"/>
<rect x="272.00" y="368.71" width="7.64" height="8.25" fill="#eb9a7c"/>
<rect x="279.14" y="368.71" width="7.64" height="8.25" fill="#bcb3de"/>
<rect x="286.29" y="368.71" width="7.64" height="8.25" fill="#df6d50"/>
<rect x="293.43" y="368.71" width="7.64" height="8.25" fill="#d6d2ec"/>
<rect x="300.57" y="368.71" width="7.64" height="8.25" fill="#f1bba2"/>
<rect x="307.71" y="368.71" width="7.64" height="8.25" fill="#d6d2ec"/>
<rect x="314.86" y="368.71" width="7.64" height="8.25" fill="#d6d2ec"/>
<rect x="322.00" y="368.71" width="7.64" height="8.25" fill="#d6432d"/>
<rect x="329.14" y="368.71" width="7.64" height="8.25" fill="#f1bba2"/>
<rect x="336.29" y="368.71" width="7.64" height="8.25" fill="#d6432d"/>
<rect x="343.43" y="368.71" width="7.64" height="8.25" fill="#d6d2ec"/>
<rect x="350.57" y="368.71" width="7.64" height="8.25" fill="#978bc9"/>
<rect x="357.71" y="368.71" width="7.64" height="8.25" fill="#d6d2ec"/>
<rect x="364.86" y="368.71" width="7.14" height="8.25" fill="#978bc9"/>
<rect x="375.50" y="368.71" width="7.65" height="8.25" fill="#d6d2ec"/>
<rect x="382.65" y="368.71" width="7.65" height="8.25" fill="#f1bba2"/>
<rect x="389.79" y="368.71" width="7.65" height="8.25" fill="#5d50ac"/>
<rect x="396.94" y="368.71" width="7.65" height="8.25" fill="#5d50ac"/>
<rect x="404.09" y="368.71" width="7.65" height="8.25" fill="#978bc9"/>
<rect x="411.24" y="368.71" width="7.65" height="8.25" fill="#7a6bbb"/>
<rect x="418.38" y="368.71" width="7.65" height="8.25" fill="#978bc9"/>
<rect x="425.53" y="368.71" width="7.65" height="8.25" fill="#5d50ac"/>
<rect x="432.68" y="368.71" width="7.65" height="8.25" fill="#5d50ac"/>
<rect x="439.82" y="368.71" width="7.65" height="8.25" fill="#5d50ac"/>
<rect x="446.97" y="368.71" width="7.65" height="8.25" fill="#5d50ac"/>
<rect x="454.12" y="368.71" width="7.65" height="8.25" fill="#978bc9"/>
<rect x="461.26" y="368.71" width="7.65" height="8.25" fill="#7a6bbb"/>
<rect x="468.41" y="368.71" width="7.65" height="8.25" fill="#bcb3de"/>
<rect x="475.56" y="368.71" width="7.65" height="8.25" fill="#df6d50"/>
<rect x="482.71" y="368.71" width="7.65" height="8.25" fill="#d6d2ec"/>
<rect x="489.85" y="368.71" width="7.15" height="8.25" fill="#eb9a7c"/>
<rect x="222.00" y="376.45" width="7.64" height="7.75" fill="#eb9a7c"/>
<rect x="229.14" y="376.45" width="7.64" height="7.75" fill="#d6d2ec"/>
<rect x="236.29" y="376.45" width="7.64" height="7.75" fill="#d6d2ec"/>
<rect x="243.43" y="376.45" width="7.64" height="7.75" fill="#bcb3de"/>
<rect x="250.57" y="376.45" width="7.64" height="7.75" fill="#bcb3de"/>
<rect x="257.71" y="376.45" width="7.64" height="7.75" fill="#7a6bbb"/>
<rect x="264.86" y="376.45" width="7.64" height="7.75" fill="#df6d50"/>
<rect x="272.00" y="376.45" width="7.64" height="7.75" fill="#bcb3de"/>
<rect x="279.14" y="376.45" width="7.64" height="7.75" fill="#bcb3de"/>
<rect x="286.29" y="376.45" width="7.64" height="7.75" fill="#df6d50"/>
<rect x="293.43" y="376.45" width="7.64" height="7.75" fill="#bcb3de"/>
<rect x="300.57" y="376.45" width="7.64" height="7.75" fill="#bcb3de"/>
<rect x="307.71" y="376.45" width="7.64" height="7.75" fill="#d6d2ec"/>
<rect x="314.86" y="376.45" width="7.64" height="7.75" fill="#d6d2ec"/>
<rect x="322.00" y="376.45" width="7.64" height="7.75" fill="#df6d50"/>
<rect x="329.14" y="376.45" width="7.64" height="7.75" fill="#eb9a7c"/>
<rect x="336.29" y="376.45" width="7.64" height="7.75" fill="#eb9a7c"/>
<rect x="343.43" y="376.45" width="7.64" height="7.75" fill="#d6d2ec"/>
<rect x="350.57" y="376.45" width="7.64" height="7.75" fill="#f1bba2"/>
<rect x="357.71" y="376.45" width="7.64" height="7.75" fill="#eb9a7c"/>
<rect x="364.86" y="376.45" width="7.14" height="7.75" fill="#978bc9"/>
<rect x="375.50" y="376.45" width="7.65" height="7.75" fill="#978bc9"/>
<rect x="382.65" y="376.45" width="7.65" height="7.75" fill="#bcb3de"/>
<rect x="389.79" y="376.45" width="7.65" height="7.75" fill="#5d50ac"/>
<rect x="396.94" y="376.45" width="7.65" height="7.75" fill="#5d50ac"/>
<rect x="404.09" y="376.45" width="7.65" height="7.75" fill="#7a6bbb"/>
<rect x="411.24" y="376.45" width="7.65" height="7.75" fill="#978bc9"/>
<rect x="418.38" y="376.45" width="7.65" height="7.75" fill="#978bc9"/>
<rect x="425.53" y="376.45" width="7.65" height="7.75" fill="#bcb3de"/>
<rect x="432.68" y="376.45" width="7.65" height="7.75" fill="#978bc9"/>
<rect x="439.82" y="376.45" width="7.65" height="7.75" fill="#7a6bbb"/>
<rect x="446.97" y="376.45" width="7.65" height="7.75" fill="#978bc9"/>
<rect x="454.12" y="376.45" width="7.65" height="7.75" fill="#bcb3de"/>
<rect x="461.26" y="376.45" width="7.65" height="7.75" fill="#5d50ac"/>
<rect x="468.41" y="376.45" width="7.65" height="7.75" fill="#d6d2ec"/>
<rect x="475.56" y="376.45" width="7.65" height="7.75" fill="#bcb3de"/>
<rect x="482.71" y="376.45" width="7.65" height="7.75" fill="#7a6bbb"/>
<rect x="489.85" y="376.45" width="7.15" height="7.75" fill="#eb9a7c"/>
<rect x="222.00" y="387.20" width="7.64" height="8.29" fill="#5d50ac"/>
<rect x="229.14" y="387.20" width="7.64" height="8.29" fill="#7a6bbb"/>
<rect x="236.29" y="387.20" width="7.64" height="8.29" fill="#5d50ac"/>
<rect x="243.43" y="387.20" width="7.64" height="8.29" fill="#7a6bbb"/>
<rect x="250.57" y="387.20" width="7.64" height="8.29" fill="#7a6bbb"/>
<rect x="257.71" y="387.20" width="7.64" height="8.29" fill="#7a6bbb"/>
<rect x="264.86" y="387.20" width="7.64" height="8.29" fill="#978bc9"/>
<rect x="272.00" y="387.20" width="7.64" height="8.29" fill="#7a6bbb"/>
<rect x="279.14" y="387.20" width="7.64" height="8.29" fill="#978bc9"/>
<rect x="286.29" y="387.20" width="7.64" height="8.29" fill="#7a6bbb"/>
<rect x="293.43" y="387.20" width="7.64" height="8.29" fill="#5d50ac"/>
<rect x="300.57" y="387.20" width="7.64" height="8.29" fill="#5d50ac"/>
<rect x="307.71" y="387.20" width="7.64" height="8.29" fill="#978bc9"/>
<rect x="314.86" y="387.20" width="7.64" height="8.29" fill="#7a6bbb"/>
<rect x="322.00" y="387.20" width="7.64" height="8.29" fill="#7a6bbb"/>
<rect x="329.14" y="387.20" width="7.64" height="8.29" fill="#7a6bbb"/>
<rect x="336.29" y="387.20" width="7.64" height="8.29" fill="#eb9a7c"/>
<rect x="343.43" y="387.20" width="7.64" height="8.29" fill="#978bc9"/>
<rect x="350.57" y="387.20" width="7.64" height="8.29" fill="#978bc9"/>
<rect x="357.71" y="387.20" width="7.64" height="8.29" fill="#978bc9"/>
<rect x="364.86" y="387.20" width="7.14" height="8.29" fill="#978bc9"/>
<rect x="375.50" y="387.20" width="7.65" height="8.29" fill="#978bc9"/>
<rect x="382.65" y="387.20" width="7.65" height="8.29" fill="#7a6bbb"/>
<rect x="389.79" y="387.20" width="7.65" height="8.29" fill="#978bc9"/>
<rect x="396.94" y="387.20" width="7.65" height="8.29" fill="#978bc9"/>
<rect x="404.09" y="387.20" width="7.65" height="8.29" fill="#eb9a7c"/>
<rect x="411.24" y="387.20" width="7.65" height="8.29" fill="#bcb3de"/>
<rect x="418.38" y="387.20" width="7.65" height="8.29" fill="#7a6bbb"/>
<rect x="425.53" y="387.20" width="7.65" height="8.29" fill="#eb9a7c"/>
<rect x="432.68" y="387.20" width="7.65" height="8.29" fill="#eb9a7c"/>
<rect x="439.82" y="387.20" width="7.65" height="8.29" fill="#df6d50"/>
<rect x="446.97" y="387.20" width="7.65" height="8.29" fill="#eb9a7c"/>
<rect x="454.12" y="387.20" width="7.65" height="8.29" fill="#d6432d"/>
<rect x="461.26" y="387.20" width="7.65" height="8.29" fill="#d6432d"/>
<rect x="468.41" y="387.20" width="7.65" height="8.29" fill="#df6d50"/>
<rect x="475.56" y="387.20" width="7.65" height="8.29" fill="#df6d50"/>
<rect x="482.71" y="387.20" width="7.65" height="8.29" fill="#df6d50"/>
<rect x="489.85" y="387.20" width="7.15" height="8.29" fill="#d6432d"/>
<rect x="222.00" y="394.99" width="7.64" height="8.29" fill="#5d50ac"/>
<rect x="229.14" y="394.99" width="7.64" height="8.29" fill="#7a6bbb"/>
<rect x="236.29" y="394.99" width="7.64" height="8.29" fill="#7a6bbb"/>
<rect x="243.43" y="394.99" width="7.64" height="8.29" fill="#bcb3de"/>
<rect x="250.57" y="394.99" width="7.64" height="8.29" fill="#978bc9"/>
<rect x="257.71" y="394.99" width="7.64" height="8.29" fill="#5d50ac"/>
<rect x="264.86" y="394.99" width="7.64" height="8.29" fill="#bcb3de"/>
<rect x="272.00" y="394.99" width="7.64" height="8.29" fill="#7a6bbb"/>
<rect x="279.14" y="394.99" width="7.64" height="8.29" fill="#978bc9"/>
<rect x="286.29" y="394.99" width="7.64" height="8.29" fill="#978bc9"/>
<rect x="293.43" y="394.99" width="7.64" height="8.29" fill="#5d50ac"/>
<rect x="300.57" y="394.99" width="7.64" height="8.29" fill="#5d50ac"/>
<rect x="307.71" y="394.99" width="7.64" height="8.29" fill="#eb9a7c"/>
<rect x="314.86" y="394.99" width="7.64" height="8.29" fill="#5d50ac"/>
<rect x="322.00" y="394.99" width="7.64" height="8.29" fill="#978bc9"/>
<rect x="329.14" y="394.99" width="7.64" height="8.29" fill="#978bc9"/>
<rect x="336.29" y="394.99" width="7.64" height="8.29" fill="#eb9a7c"/>
<rect x="343.43" y="394.99" width="7.64" height="8.29" fill="#df6d50"/>
<rect x="350.57" y="394.99" width="7.64" height="8.29" fill="#7a6bbb"/>
<rect x="357.71" y="394.99" width="7.64" height="8.29" fill="#eb9a7c"/>
<rect x="364.86" y="394.99" width="7.14" height="8.29" fill="#978bc9"/>
<rect x="375.50" y="394.99" width="7.65" height="8.29" fill="#5d50ac"/>
<rect x="382.65" y="394.99" width="7.65" height="8.29" fill="#5d50ac"/>
<rect x="389.79" y="394.99" width="7.65" height="8.29" fill="#7a6bbb"/>
<rect x="396.94" y="394.99" width="7.65" height="8.29" fill="#7a6bbb"/>
<rect x="404.09" y="394.99" width="7.65" height="8.29" fill="#bcb3de"/>
<rect x="411.24" y="394.99" width="7.65" height="8.29" fill="#5d50ac"/>
<rect x="418.38" y="394.99" width="7.65" height="8.29" fill="#7a6bbb"/>
<rect x="425.53" y="394.99" width="7.65" height="8.29" fill="#978bc9"/>
<rect x="432.68" y="394.99" width="7.65" height="8.29" fill="#bcb3de"/>
<rect x="439.82" y="394.99" width="7.65" height="8.29" fill="#f1bba2"/>
<rect x="446.97" y="394.99" width="7.65" height="8.29" fill="#978bc9"/>
<rect x="454.12" y="394.99" width="7.65" height="8.29" fill="#eb9a7c"/>
<rect x="461.26" y="394.99" width="7.65" height="8.29" fill="#df6d50"/>
<rect x="468.41" y="394.99" width="7.65" height="8.29" fill="#eb9a7c"/>
<rect x="475.56" y="394.99" width="7.65" height="8.29" fill="#cc1a14"/>
<rect x="482.71" y="394.99" width="7.65" height="8.29" fill="#eb9a7c"/>
<rect x="489.85" y="394.99" width="7.15" height="8.29" fill="#eb9a7c"/>
<rect x="222.00" y="402.77" width="7.64" height="8.29" fill="#978bc9"/>
<rect x="229.14" y="402.77" width="7.64" height="8.29" fill="#978bc9"/>
<rect x="236.29" y="402.77" width="7.64" height="8.29" fill="#978bc9"/>
<rect x="243.43" y="402.77" width="7.64" height="8.29" fill="#7a6bbb"/>
<rect x="250.57" y="402.77" width="7.64" height="8.29" fill="#7a6bbb"/>
<rect x="257.71" y="402.77" width="7.64" height="8.29" fill="#7a6bbb"/>
<rect x="264.86" y="402.77" width="7.64" height="8.29" fill="#7a6bbb"/>
<rect x="272.00" y="402.77" width="7.64" height="8.29" fill="#bcb3de"/>
<rect x="279.14" y="402.77" width="7.64" height="8.29" fill="#978bc9"/>
<rect x="286.29" y="402.77" width="7.64" height="8.29" fill="#df6d50"/>
<rect x="293.43" y="402.77" width="7.64" height="8.29" fill="#7a6bbb"/>
<rect x="300.57" y="402.77" width="7.64" height="8.29" fill="#978bc9"/>
<rect x="307.71" y="402.77" width="7.64" height="8.29" fill="#978bc9"/>
<rect x="314.86" y="402.77" width="7.64" height="8.29" fill="#eb9a7c"/>
<rect x="322.00" y="402.77" width="7.64" height="8.29" fill="#bcb3de"/>
<rect x="329.14" y="402.77" width="7.64" height="8.29" fill="#978bc9"/>
<rect x="336.29" y="402.77" width="7.64" height="8.29" fill="#d6432d"/>
<rect x="343.43" y="402.77" width="7.64" height="8.29" fill="#5d50ac"/>
<rect x="350.57" y="402.77" width="7.64" height="8.29" fill="#f1bba2"/>
<rect x="357.71" y="402.77" width="7.64" height="8.29" fill="#df6d50"/>
<rect x="364.86" y="402.77" width="7.14" height="8.29" fill="#d6432d"/>
<rect x="375.50" y="402.77" width="7.65" height="8.29" fill="#978bc9"/>
<rect x="382.65" y="402.77" width="7.65" height="8.29" fill="#5d50ac"/>
<rect x="389.79" y="402.77" width="7.65" height="8.29" fill="#3f4aa1"/>
<rect x="396.94" y="402.77" width="7.65" height="8.29" fill="#5d50ac"/>
<rect x="404.09" y="402.77" width="7.65" height="8.29" fill="#7a6bbb"/>
<rect x="411.24" y="402.77" width="7.65" height="8.29" fill="#5d50ac"/>
<rect x="418.38" y="402.77" width="7.65" height="8.29" fill="#3f4aa1"/>
<rect x="425.53" y="402.77" width="7.65" height="8.29" fill="#7a6bbb"/>
<rect x="432.68" y="402.77" width="7.65" height="8.29" fill="#7a6bbb"/>
<rect x="439.82" y="402.77" width="7.65" height="8.29" fill="#5d50ac"/>
<rect x="446.97" y="402.77" width="7.65" height="8.29" fill="#eb9a7c"/>
<rect x="454.12" y="402.77" width="7.65" height="8.29" fill="#eb9a7c"/>
<rect x="461.26" y="402.77" width="7.65" height="8.29" fill="#978bc9"/>
<rect x="468.41" y="402.77" width="7.65" height="8.29" fill="#bcb3de"/>
<rect x="475.56" y="402.77" width="7.65" height="8.29" fill="#7a6bbb"/>
<rect x="482.71" y="402.77" width="7.65" height="8.29" fill="#eb9a7c"/>
<rect x="489.85" y="402.77" width="7.15" height="8.29" fill="#eb9a7c"/>
<rect x="222.00" y="410.56" width="7.64" height="8.29" fill="#5d50ac"/>
<rect x="229.14" y="410.56" width="7.64" height="8.29" fill="#7a6bbb"/>
<rect x="236.29" y="410.56" width="7.64" height="8.29" fill="#5d50ac"/>
<rect x="243.43" y="410.56" width="7.64" height="8.29" fill="#978bc9"/>
<rect x="250.57" y="410.56" width="7.64" height="8.29" fill="#5d50ac"/>
<rect x="257.71" y="410.56" width="7.64" height="8.29" fill="#978bc9"/>
<rect x="264.86" y="410.56" width="7.64" height="8.29" fill="#978bc9"/>
<rect x="272.00" y="410.56" width="7.64" height="8.29" fill="#7a6bbb"/>
<rect x="279.14" y="410.56" width="7.64" height="8.29" fill="#978bc9"/>
<rect x="286.29" y="410.56" width="7.64" height="8.29" fill="#978bc9"/>
<rect x="293.43" y="410.56" width="7.64" height="8.29" fill="#5d50ac"/>
<rect x="300.57" y="410.56" width="7.64" height="8.29" fill="#5d50ac"/>
<rect x="307.71" y="410.56" width="7.64" height="8.29" fill="#978bc9"/>
<rect x="314.86" y="410.56" width="7.64" height="8.29" fill="#978bc9"/>
<rect x="322.00" y="410.56" width="7.64" height="8.29" fill="#978bc9"/>
<rect x="329.14" y="410.56" width="7.64" height="8.29" fill="#978bc9"/>
<rect x="336.29" y="410.56" width="7.64" height="8.29" fill="#978bc9"/>
<rect x="343.43" y="410.56" width="7.64" height="8.29" fill="#df6d50"/>
<rect x="350.57" y="410.56" width="7.64" height="8.29" fill="#f1bba2"/>
<rect x="357.71" y="410.56" width="7.64" height="8.29" fill="#f1bba2"/>
<rect x="364.86" y="410.56" width="7.14" height="8.29" fill="#978bc9"/>
<rect x="375.50" y="410.56" width="7.65" height="8.29" fill="#bcb3de"/>
<rect x="382.65" y="410.56" width="7.65" height="8.29" fill="#978bc9"/>
<rect x="389.79" y="410.56" width="7.65" height="8.29" fill="#978bc9"/>
<rect x="396.94" y="410.56" width="7.65" height="8.29" fill="#7a6bbb"/>
<rect x="404.09" y="410.56" width="7.65" height="8.29" fill="#978bc9"/>
<rect x="411.24" y="410.56" width="7.65" height="8.29" fill="#978bc9"/>
<rect x="418.38" y="410.56" width="7.65" height="8.29" fill="#978bc9"/>
<rect x="425.53" y="410.56" width="7.65" height="8.29" fill="#f1bba2"/>
<rect x="432.68" y="410.56" width="7.65" height="8.29" fill="#f1bba2"/>
<rect x="439.82" y="410.56" width="7.65" height="8.29" fill="#d6d2ec"/>
<rect x="446.97" y="410.56" width="7.65" height="8.29" fill="#eb9a7c"/>
<rect x="454.12" y="410.56" width="7.65" height="8.29" fill="#eb9a7c"/>
<rect x="461.26" y="410.56" width="7.65" height="8.29" fill="#eb9a7c"/>
<rect x="468.41" y="410.56" width="7.65" height="8.29" fill="#bcb3de"/>
<rect x="475.56" y="410.56" width="7.65" height="8.29" fill="#f1bba2"/>
<rect x="482.71" y="410.56" width="7.65" height="8.29" fill="#f1bba2"/>
<rect x="489.85" y="410.56" width="7.15" height="8.29" fill="#eb9a7c"/>
<rect x="222.00" y="418.34" width="7.64" height="8.29" fill="#7a6bbb"/>
<rect x="229.14" y="418.34" width="7.64" height="8.29" fill="#7a6bbb"/>
<rect x="236.29" y="418.34" width="7.64" height="8.29" fill="#7a6bbb"/>
<rect x="243.43" y="418.34" width="7.64" height="8.29" fill="#978bc9"/>
<rect x="250.57" y="418.34" width="7.64" height="8.29" fill="#7a6bbb"/>
<rect x="257.71" y="418.34" width="7.64" height="8.29" fill="#5d50ac"/>
<rect x="264.86" y="418.34" width="7.64" height="8.29" fill="#978bc9"/>
<rect x="272.00" y="418.34" width="7.64" height="8.29" fill="#7a6bbb"/>
<rect x="279.14" y="418.34" width="7.64" height="8.29" fill="#7a6bbb"/>
<rect x="286.29" y="418.34" width="7.64" height="8.29" fill="#bcb3de"/>
<rect x="293.43" y="418.34" width="7.64" height="8.29" fill="#5d50ac"/>
<rect x="300.57" y="418.34" width="7.64" height="8.29" fill="#5d50ac"/>
<rect x="307.71" y="418.34" width="7.64" height="8.29" fill="#978bc9"/>
<rect x="314.86" y="418.34" width="7.64" height="8.29" fill="#978bc9"/>
<rect x="322.00" y="418.34" width="7.64" height="8.29" fill="#bcb3de"/>
<rect x="329.14" y="418.34" width="7.64" height="8.29" fill="#df6d50"/>
<rect x="336.29" y="418.34" width="7.64" height="8.29" fill="#978bc9"/>
<rect x="343.43" y="418.34" width="7.64" height="8.29" fill="#df6d50"/>
<rect x="350.57" y="418.34" width="7.64" height="8.29" fill="#d6432d"/>
<rect x="357.71" y="418.34" width="7.64" height="8.29" fill="#d6432d"/>
<rect x="364.86" y="418.34" width="7.14" height="8.29" fill="#eb9a7c"/>
<rect x="375.50" y="418.34" width="7.65" height="8.29" fill="#7a6bbb"/>
<rect x="382.65" y="418.34" width="7.65" height="8.29" fill="#5d50ac"/>
<rect x="389.79" y="418.34" width="7.65" height="8.29" fill="#7a6bbb"/>
<rect x="396.94" y="418.34" width="7.65" height="8.29" fill="#7a6bbb"/>
<rect x="404.09" y="418.34" width="7.65" height="8.29" fill="#7a6bbb"/>
<rect x="411.24" y="418.34" width="7.65" height="8.29" fill="#978bc9"/>
<rect x="418.38" y="418.34" width="7.65" height="8.29" fill="#7a6bbb"/>
<rect x="425.53" y="418.34" width="7.65" height="8.29" fill="#7a6bbb"/>
<rect x="432.68" y="418.34" width="7.65" height="8.29" fill="#978bc9"/>
<rect x="439.82" y="418.34" width="7.65" height="8.29" fill="#978bc9"/>
<rect x="446.97" y="418.34" width="7.65" height="8.29" fill="#eb9a7c"/>
<rect x="454.12" y="418.34" width="7.65" height="8.29" fill="#eb9a7c"/>
<rect x="461.26" y="418.34" width="7.65" height="8.29" fill="#978bc9"/>
<rect x="468.41" y="418.34" width="7.65" height="8.29" fill="#978bc9"/>
<rect x="475.56" y="418.34" width="7.65" height="8.29" fill="#d6432d"/>
<rect x="482.71" y="418.34" width="7.65" height="8.29" fill="#978bc9"/>
<rect x="489.85" y="418.34" width="7.15" height="8.29" fill="#df6d50"/>
<rect x="222.00" y="426.13" width="7.64" height="8.29" fill="#5d50ac"/>
<rect x="229.14" y="426.13" width="7.64" height="8.29" fill="#978bc9"/>
<rect x="236.29" y="426.13" width="7.64" height="8.29" fill="#5d50ac"/>
<rect x="243.43" y="426.13" width="7.64" height="8.29" fill="#978bc9"/>
<rect x="250.57" y="426.13" width="7.64" height="8.29" fill="#7a6bbb"/>
<rect x="257.71" y="426.13" width="7.64" height="8.29" fill="#7a6bbb"/>
<rect x="264.86" y="426.13" width="7.64" height="8.29" fill="#bcb3de"/>
<rect x="272.00" y="426.13" width="7.64" height="8.29" fill="#7a6bbb"/>
<rect x="279.14" y="426.13" width="7.64" height="8.29" fill="#978bc9"/>
<rect x="286.29" y="426.13" width="7.64" height="8.29" fill="#978bc9"/>
<rect x="293.43" y="426.13" width="7.64" height="8.29" fill="#5d50ac"/>
<rect x="300.57" y="426.13" width="7.64" height="8.29" fill="#978bc9"/>
<rect x="307.71" y="426.13" width="7.64" height="8.29" fill="#7a6bbb"/>
<rect x="314.86" y="426.13" width="7.64" height="8.29" fill="#7a6bbb"/>
<rect x="322.00" y="426.13" width="7.64" height="8.29" fill="#eb9a7c"/>
<rect x="329.14" y="426.13" width="7.64" height="8.29" fill="#eb9a7c"/>
<rect x="336.29" y="426.13" width="7.64" height="8.29" fill="#978bc9"/>
<rect x="343.43" y="426.13" width="7.64" height="8.29" fill="#df6d50"/>
<rect x="350.57" y="426.13" width="7.64" height="8.29" fill="#df6d50"/>
<rect x="357.71" y="426.13" width="7.64" height="8.29" fill="#bcb3de"/>
<rect x="364.86" y="426.13" width="7.14" height="8.29" fill="#df6d50"/>
<rect x="375.50" y="426.13" width="7.65" height="8.29" fill="#7a6bbb"/>
<rect x="382.65" y="426.13" width="7.65" height="8.29" fill="#978bc9"/>
<rect x="389.79" y="426.13" width="7.65" height="8.29" fill="#5d50ac"/>
<rect x="396.94" y="426.13" width="7.65" height="8.29" fill="#df6d50"/>
<rect x="404.09" y="426.13" width="7.65" height="8.29" fill="#eb9a7c"/>
<rect x="411.24" y="426.13" width="7.65" height="8.29" fill="#eb9a7c"/>
<rect x="418.38" y="426.13" width="7.65" height="8.29" fill="#978bc9"/>
<rect x="425.53" y="426.13" width="7.65" height="8.29" fill="#eb9a7c"/>
<rect x="432.68" y="426.13" width="7.65" height="8.29" fill="#df6d50"/>
<rect x="439.82" y="426.13" width="7.65" height="8.29" fill="#df6d50"/>
<rect x="446.97" y="426.13" width="7.65" height="8.29" fill="#bcb3de"/>
<rect x="454.12" y="426.13" width="7.65" height="8.29" fill="#df6d50"/>
<rect x="461.26" y="426.13" width="7.65" height="8.29" fill="#df6d50"/>
<rect x="468.41" y="426.13" width="7.65" height="8.29" fill="#978bc9"/>
<rect x="475.56" y="426.13" width="7.65" height="8.29" fill="#df6d50"/>
<rect x="482.71" y="426.13" width="7.65" height="8.29" fill="#eb9a7c"/>
<rect x="489.85" y="426.13" width="7.15" height="8.29" fill="#bcb3de"/>
<rect x="222.00" y="433.91" width="7.64" height="8.29" fill="#5d50ac"/>
<rect x="229.14" y="433.91" width="7.64" height="8.29" fill="#5d50ac"/>
<rect x="236.29" y="433.91" width="7.64" height="8.29" fill="#5d50ac"/>
<rect x="243.43" y="433.91" width="7.64" height="8.29" fill="#5d50ac"/>
<rect x="250.57" y="433.91" width="7.64" height="8.29" fill="#7a6bbb"/>
<rect x="257.71" y="433.91" width="7.64" height="8.29" fill="#7a6bbb"/>
<rect x="264.86" y="433.91" width="7.64" height="8.29" fill="#7a6bbb"/>
<rect x="272.00" y="433.91" width="7.64" height="8.29" fill="#978bc9"/>
<rect x="279.14" y="433.91" width="7.64" height="8.29" fill="#eb9a7c"/>
<rect x="286.29" y="433.91" width="7.64" height="8.29" fill="#978bc9"/>
<rect x="293.43" y="433.91" width="7.64" height="8.29" fill="#5d50ac"/>
<rect x="300.57" y="433.91" width="7.64" height="8.29" fill="#5d50ac"/>
<rect x="307.71" y="433.91" width="7.64" height="8.29" fill="#5d50ac"/>
<rect x="314.86" y="433.91" width="7.64" height="8.29" fill="#978bc9"/>
<rect x="322.00" y="433.91" width="7.64" height="8.29" fill="#5d50ac"/>
<rect x="329.14" y="433.91" width="7.64" height="8.29" fill="#5d50ac"/>
<rect x="336.29" y="433.91" width="7.64" height="8.29" fill="#978bc9"/>
<rect x="343.43" y="433.91" width="7.64" height="8.29" fill="#eb9a7c"/>
<rect x="350.57" y="433.91" width="7.64" height="8.29" fill="#7a6bbb"/>
<rect x="357.71" y="433.91" width="7.64" height="8.29" fill="#bcb3de"/>
<rect x="364.86" y="433.91" width="7.14" height="8.29" fill="#bcb3de"/>
<rect x="375.50" y="433.91" width="7.65" height="8.29" fill="#bcb3de"/>
<rect x="382.65" y="433.91" width="7.65" height="8.29" fill="#df6d50"/>
<rect x="389.79" y="433.91" width="7.65" height="8.29" fill="#eb9a7c"/>
<rect x="396.94" y="433.91" width="7.65" height="8.29" fill="#978bc9"/>
<rect x="404.09" y="433.91" width="7.65" height="8.29" fill="#eb9a7c"/>
<rect x="411.24" y="433.91" width="7.65" height="8.29" fill="#bcb3de"/>
<rect x="418.38" y="433.91" width="7.65" height="8.29" fill="#978bc9"/>
<rect x="425.53" y="433.91" width="7.65" height="8.29" fill="#d6432d"/>
<rect x="432.68" y="433.91" width="7.65" height="8.29" fill="#df6d50"/>
<rect x="439.82" y="433.91" width="7.65" height="8.29" fill="#f1bba2"/>
<rect x="446.97" y="433.91" width="7.65" height="8.29" fill="#df6d50"/>
<rect x="454.12" y="433.91" width="7.65" height="8.29" fill="#d6432d"/>
<rect x="461.26" y="433.91" width="7.65" height="8.29" fill="#d6432d"/>
<rect x="468.41" y="433.91" width="7.65" height="8.29" fill="#d6432d"/>
<rect x="475.56" y="433.91" width="7.65" height="8.29" fill="#df6d50"/>
<rect x="482.71" y="433.91" width="7.65" height="8.29" fill="#978bc9"/>
<rect x="489.85" y="433.91" width="7.15" height="8.29" fill="#5d50ac"/>
<rect x="222.00" y="441.70" width="7.64" height="8.29" fill="#3f4aa1"/>
<rect x="229.14" y="441.70" width="7.64" height="8.29" fill="#5d50ac"/>
<rect x="236.29" y="441.70" width="7.64" height="8.29" fill="#5d50ac"/>
<rect x="243.43" y="441.70" width="7.64" height="8.29" fill="#3f4aa1"/>
<rect x="250.57" y="441.70" width="7.64" height="8.29" fill="#7a6bbb"/>
<rect x="257.71" y="441.70" width="7.64" height="8.29" fill="#5d50ac"/>
<rect x="264.86" y="441.70" width="7.64" height="8.29" fill="#7a6bbb"/>
<rect x="272.00" y="441.70" width="7.64" height="8.29" fill="#eb9a7c"/>
<rect x="279.14" y="441.70" width="7.64" height="8.29" fill="#7a6bbb"/>
<rect x="286.29" y="441.70" width="7.64" height="8.29" fill="#3f4aa1"/>
<rect x="293.43" y="441.70" width="7.64" height="8.29" fill="#3f4aa1"/>
<rect x="300.57" y="441.70" width="7.64" height="8.29" fill="#3f4aa1"/>
<rect x="307.71" y="441.70" width="7.64" height="8.29" fill="#5d50ac"/>
<rect x="314.86" y="441.70" width="7.64" height="8.29" fill="#3f4aa1"/>
<rect x="322.00" y="441.70" width="7.64" height="8.29" fill="#3f4aa1"/>
<rect x="329.14" y="441.70" width="7.64" height="8.29" fill="#5d50ac"/>
<rect x="336.29" y="441.70" width="7.64" height="8.29" fill="#bcb3de"/>
<rect x="343.43" y="441.70" width="7.64" height="8.29" fill="#bcb3de"/>
<rect x="350.57" y="441.70" width="7.64" height="8.29" fill="#eb9a7c"/>
<rect x="357.71" y="441.70" width="7.64" height="8.29" fill="#bcb3de"/>
<rect x="364.86" y="441.70" width="7.14" height="8.29" fill="#d6432d"/>
<rect x="375.50" y="441.70" width="7.65" height="8.29" fill="#bcb3de"/>
<rect x="382.65" y="441.70" width="7.65" height="8.29" fill="#f1bba2"/>
<rect x="389.79" y="441.70" width="7.65" height="8.29" fill="#5d50ac"/>
<rect x="396.94" y="441.70" width="7.65" height="8.29" fill="#978bc9"/>
<rect x="404.09" y="441.70" width="7.65" height="8.29" fill="#f1bba2"/>
<rect x="411.24" y="441.70" width="7.65" height="8.29" fill="#eb9a7c"/>
<rect x="418.38" y="441.70" width="7.65" height="8.29" fill="#cc1a14"/>
<rect x="425.53" y="441.70" width="7.65" height="8.29" fill="#df6d50"/>
<rect x="432.68" y="441.70" width="7.65" height="8.29" fill="#df6d50"/>
<rect x="439.82" y="441.70" width="7.65" height="8.29" fill="#cc1a14"/>
<rect x="446.97" y="441.70" width="7.65" height="8.29" fill="#bcb3de"/>
<rect x="454.12" y="441.70" width="7.65" height="8.29" fill="#df6d50"/>
<rect x="461.26" y="441.70" width="7.65" height="8.29" fill="#cc1a14"/>
<rect x="468.41" y="441.70" width="7.65" height="8.29" fill="#eb9a7c"/>
<rect x="475.56" y="441.70" width="7.65" height="8.29" fill="#d6432d"/>
<rect x="482.71" y="441.70" width="7.65" height="8.29" fill="#978bc9"/>
<rect x="489.85" y="441.70" width="7.15" height="8.29" fill="#7a6bbb"/>
<rect x="222.00" y="449.49" width="7.64" height="8.29" fill="#5d50ac"/>
<rect x="229.14" y="449.49" width="7.64" height="8.29" fill="#bcb3de"/>
<rect x="236.29" y="449.49" width="7.64" height="8.29" fill="#7a6bbb"/>
<rect x="243.43" y="449.49" width="7.64" height="8.29" fill="#7a6bbb"/>
<rect x="250.57" y="449.49" width="7.64" height="8.29" fill="#d6d2ec"/>
<rect x="257.71" y="449.49" width="7.64" height="8.29" fill="#f1bba2"/>
<rect x="264.86" y="449.49" width="7.64" height="8.29" fill="#bcb3de"/>
<rect x="272.00" y="449.49" width="7.64" height="8.29" fill="#bcb3de"/>
<rect x="279.14" y="449.49" width="7.64" height="8.29" fill="#7a6bbb"/>
<rect x="286.29" y="449.49" width="7.64" height="8.29" fill="#5d50ac"/>
<rect x="293.43" y="449.49" width="7.64" height="8.29" fill="#5d50ac"/>
<rect x="300.57" y="449.49" width="7.64" height="8.29" fill="#7a6bbb"/>
<rect x="307.71" y="449.49" width="7.64" height="8.29" fill="#978bc9"/>
<rect x="314.86" y="449.49" width="7.64" height="8.29" fill="#7a6bbb"/>
<rect x="322.00" y="449.49" width="7.64" height="8.29" fill="#3f4aa1"/>
<rect x="329.14" y="449.49" width="7.64" height="8.29" fill="#5d50ac"/>
<rect x="336.29" y="449.49" width="7.64" height="8.29" fill="#eb9a7c"/>
<rect x="343.43" y="449.49" width="7.64" height="8.29" fill="#d6d2ec"/>
<rect x="350.57" y="449.49" width="7.64" height="8.29" fill="#5d50ac"/>
<rect x="357.71" y="449.49" width="7.64" height="8.29" fill="#978bc9"/>
<rect x="364.86" y="449.49" width="7.14" height="8.29" fill="#7a6bbb"/>
<rect x="375.50" y="449.49" width="7.65" height="8.29" fill="#eb9a7c"/>
<rect x="382.65" y="449.49" width="7.65" height="8.29" fill="#d6432d"/>
<rect x="389.79" y="449.49" width="7.65" height="8.29" fill="#f5d6c8"/>
<rect x="396.94" y="449.49" width="7.65" height="8.29" fill="#eb9a7c"/>
<rect x="404.09" y="449.49" width="7.65" height="8.29" fill="#df6d50"/>
<rect x="411.24" y="449.49" width="7.65" height="8.29" fill="#df6d50"/>
<rect x="418.38" y="449.49" width="7.65" height="8.29" fill="#df6d50"/>
<rect x="425.53" y="449.49" width="7.65" height="8.29" fill="#df6d50"/>
<rect x="432.68" y="449.49" width="7.65" height="8.29" fill="#f1bba2"/>
<rect x="439.82" y="449.49" width="7.65" height="8.29" fill="#df6d50"/>
<rect x="446.97" y="449.49" width="7.65" height="8.29" fill="#eb9a7c"/>
<rect x="454.12" y="449.49" width="7.65" height="8.29" fill="#eb9a7c"/>
<rect x="461.26" y="449.49" width="7.65" height="8.29" fill="#d6432d"/>
<rect x="468.41" y="449.49" width="7.65" height="8.29" fill="#d6432d"/>
<rect x="475.56" y="449.49" width="7.65" height="8.29" fill="#df6d50"/>
<rect x="482.71" y="449.49" width="7.65" height="8.29" fill="#f1bba2"/>
<rect x="489.85" y="449.49" width="7.15" height="8.29" fill="#bcb3de"/>
<rect x="222.00" y="457.27" width="7.64" height="8.29" fill="#7a6bbb"/>
<rect x="229.14" y="457.27" width="7.64" height="8.29" fill="#978bc9"/>
<rect x="236.29" y="457.27" width="7.64" height="8.29" fill="#978bc9"/>
<rect x="243.43" y="457.27" width="7.64" height="8.29" fill="#7a6bbb"/>
<rect x="250.57" y="457.27" width="7.64" height="8.29" fill="#d6d2ec"/>
<rect x="257.71" y="457.27" width="7.64" height="8.29" fill="#d6d2ec"/>
<rect x="264.86" y="457.27" width="7.64" height="8.29" fill="#7a6bbb"/>
<rect x="272.00" y="457.27" width="7.64" height="8.29" fill="#d6d2ec"/>
<rect x="279.14" y="457.27" width="7.64" height="8.29" fill="#978bc9"/>
<rect x="286.29" y="457.27" width="7.64" height="8.29" fill="#978bc9"/>
<rect x="293.43" y="457.27" width="7.64" height="8.29" fill="#7a6bbb"/>
<rect x="300.57" y="457.27" width="7.64" height="8.29" fill="#7a6bbb"/>
<rect x="307.71" y="457.27" width="7.64" height="8.29" fill="#d6d2ec"/>
<rect x="314.86" y="457.27" width="7.64" height="8.29" fill="#978bc9"/>
<rect x="322.00" y="457.27" width="7.64" height="8.29" fill="#7a6bbb"/>
<rect x="329.14" y="457.27" width="7.64" height="8.29" fill="#bcb3de"/>
<rect x="336.29" y="457.27" width="7.64" height="8.29" fill="#f1bba2"/>
<rect x="343.43" y="457.27" width="7.64" height="8.29" fill="#bcb3de"/>
<rect x="350.57" y="457.27" width="7.64" height="8.29" fill="#f1bba2"/>
<rect x="357.71" y="457.27" width="7.64" height="8.29" fill="#bcb3de"/>
<rect x="364.86" y="457.27" width="7.14" height="8.29" fill="#978bc9"/>
<rect x="375.50" y="457.27" width="7.65" height="8.29" fill="#eb9a7c"/>
<rect x="382.65" y="457.27" width="7.65" height="8.29" fill="#eb9a7c"/>
<rect x="389.79" y="457.27" width="7.65" height="8.29" fill="#bcb3de"/>
<rect x="396.94" y="457.27" width="7.65" height="8.29" fill="#f1bba2"/>
<rect x="404.09" y="457.27" width="7.65" height="8.29" fill="#eb9a7c"/>
<rect x="411.24" y="457.27" width="7.65" height="8.29" fill="#eb9a7c"/>
<rect x="418.38" y="457.27" width="7.65" height="8.29" fill="#d6d2ec"/>
<rect x="425.53" y="457.27" width="7.65" height="8.29" fill="#d6d2ec"/>
<rect x="432.68" y="457.27" width="7.65" height="8.29" fill="#f1bba2"/>
<rect x="439.82" y="457.27" width="7.65" height="8.29" fill="#eb9a7c"/>
<rect x="446.97" y="457.27" width="7.65" height="8.29" fill="#f1bba2"/>
<rect x="454.12" y="457.27" width="7.65" height="8.29" fill="#eb9a7c"/>
<rect x="461.26" y="457.27" width="7.65" height="8.29" fill="#df6d50"/>
<rect x="468.41" y="457.27" width="7.65" height="8.29" fill="#eb9a7c"/>
<rect x="475.56" y="457.27" width="7.65" height="8.29" fill="#978bc9"/>
<rect x="482.71" y="457.27" width="7.65" height="8.29" fill="#eb9a7c"/>
<rect x="489.85" y="457.27" width="7.15" height="8.29" fill="#d6432d"/>
<rect x="222.00" y="465.06" width="7.64" height="8.29" fill="#3f4aa1"/>
<rect x="229.14" y="465.06" width="7.64" height="8.29" fill="#7a6bbb"/>
<rect x="236.29" y="465.06" width="7.64" height="8.29" fill="#3f4aa1"/>
<rect x="243.43" y="465.06" width="7.64" height="8.29" fill="#3f4aa1"/>
<rect x="250.57" y="465.06" width="7.64" height="8.29" fill="#3f4aa1"/>
<rect x="257.71" y="465.06" width="7.64" height="8.29" fill="#978bc9"/>
<rect x="264.86" y="465.06" width="7.64" height="8.29" fill="#978bc9"/>
<rect x="272.00" y="465.06" width="7.64" height="8.29" fill="#7a6bbb"/>
<rect x="279.14" y="465.06" width="7.64" height="8.29" fill="#7a6bbb"/>
<rect x="286.29" y="465.06" width="7.64" height="8.29" fill="#7a6bbb"/>
<rect x="293.43" y="465.06" width="7.64" height="8.29" fill="#3f4aa1"/>
<rect x="300.57" y="465.06" width="7.64" height="8.29" fill="#3f4aa1"/>
<rect x="307.71" y="465.06" width="7.64" height="8.29" fill="#5d50ac"/>
<rect x="314.86" y="465.06" width="7.64" height="8.29" fill="#978bc9"/>
<rect x="322.00" y="465.06" width="7.64" height="8.29" fill="#3f4aa1"/>
<rect x="329.14" y="465.06" width="7.64" height="8.29" fill="#3f4aa1"/>
<rect x="336.29" y="465.06" width="7.64" height="8.29" fill="#978bc9"/>
<rect x="343.43" y="465.06" width="7.64" height="8.29" fill="#5d50ac"/>
<rect x="350.57" y="465.06" width="7.64" height="8.29" fill="#f1bba2"/>
<rect x="357.71" y="465.06" width="7.64" height="8.29" fill="#5d50ac"/>
<rect x="364.86" y="465.06" width="7.14" height="8.29" fill="#7a6bbb"/>
<rect x="375.50" y="465.06" width="7.65" height="8.29" fill="#d6432d"/>
<rect x="382.65" y="465.06" width="7.65" height="8.29" fill="#df6d50"/>
<rect x="389.79" y="465.06" width="7.65" height="8.29" fill="#bcb3de"/>
<rect x="396.94" y="465.06" width="7.65" height="8.29" fill="#d6d2ec"/>
<rect x="404.09" y="465.06" width="7.65" height="8.29" fill="#d6d2ec"/>
<rect x="411.24" y="465.06" width="7.65" height="8.29" fill="#eb9a7c"/>
<rect x="418.38" y="465.06" width="7.65" height="8.29" fill="#5d50ac"/>
<rect x="425.53" y="465.06" width="7.65" height="8.29" fill="#d6432d"/>
<rect x="432.68" y="465.06" width="7.65" height="8.29" fill="#df6d50"/>
<rect x="439.82" y="465.06" width="7.65" height="8.29" fill="#cc1a14"/>
<rect x="446.97" y="465.06" width="7.65" height="8.29" fill="#cc1a14"/>
<rect x="454.12" y="465.06" width="7.65" height="8.29" fill="#cc1a14"/>
<rect x="461.26" y="465.06" width="7.65" height="8.29" fill="#d6432d"/>
<rect x="468.41" y="465.06" width="7.65" height="8.29" fill="#df6d50"/>
<rect x="475.56" y="465.06" width="7.65" height="8.29" fill="#978bc9"/>
<rect x="482.71" y="465.06" width="7.65" height="8.29" fill="#df6d50"/>
<rect x="489.85" y="465.06" width="7.15" height="8.29" fill="#eb9a7c"/>
<rect x="222.00" y="472.84" width="7.64" height="8.29" fill="#5d50ac"/>
<rect x="229.14" y="472.84" width="7.64" height="8.29" fill="#7a6bbb"/>
<rect x="236.29" y="472.84" width="7.64" height="8.29" fill="#5d50ac"/>
<rect x="243.43" y="472.84" width="7.64" height="8.29" fill="#5d50ac"/>
<rect x="250.57" y="472.84" width="7.64" height="8.29" fill="#3f4aa1"/>
<rect x="257.71" y="472.84" width="7.64" height="8.29" fill="#978bc9"/>
<rect x="264.86" y="472.84" width="7.64" height="8.29" fill="#978bc9"/>
<rect x="272.00" y="472.84" width="7.64" height="8.29" fill="#7a6bbb"/>
<rect x="279.14" y="472.84" width="7.64" height="8.29" fill="#bcb3de"/>
<rect x="286.29" y="472.84" width="7.64" height="8.29" fill="#978bc9"/>
<rect x="293.43" y="472.84" width="7.64" height="8.29" fill="#3f4aa1"/>
<rect x="300.57" y="472.84" width="7.64" height="8.29" fill="#3f4aa1"/>
<rect x="307.71" y="472.84" width="7.64" height="8.29" fill="#5d50ac"/>
<rect x="314.86" y="472.84" width="7.64" height="8.29" fill="#978bc9"/>
<rect x="322.00" y="472.84" width="7.64" height="8.29" fill="#3f4aa1"/>
<rect x="329.14" y="472.84" width="7.64" height="8.29" fill="#7a6bbb"/>
<rect x="336.29" y="472.84" width="7.64" height="8.29" fill="#978bc9"/>
<rect x="343.43" y="472.84" width="7.64" height="8.29" fill="#f1bba2"/>
<rect x="350.57" y="472.84" width="7.64" height="8.29" fill="#f1bba2"/>
<rect x="357.71" y="472.84" width="7.64" height="8.29" fill="#bcb3de"/>
<rect x="364.86" y="472.84" width="7.14" height="8.29" fill="#7a6bbb"/>
<rect x="375.50" y="472.84" width="7.65" height="8.29" fill="#cc1a14"/>
<rect x="382.65" y="472.84" width="7.65" height="8.29" fill="#d6d2ec"/>
<rect x="389.79" y="472.84" width="7.65" height="8.29" fill="#d6432d"/>
<rect x="396.94" y="472.84" width="7.65" height="8.29" fill="#f1bba2"/>
<rect x="404.09" y="472.84" width="7.65" height="8.29" fill="#bcb3de"/>
<rect x="411.24" y="472.84" width="7.65" height="8.29" fill="#978bc9"/>
<rect x="418.38" y="472.84" width="7.65" height="8.29" fill="#7a6bbb"/>
<rect x="425.53" y="472.84" width="7.65" height="8.29" fill="#d6432d"/>
<rect x="432.68" y="472.84" width="7.65" height="8.29" fill="#eb9a7c"/>
<rect x="439.82" y="472.84" width="7.65" height="8.29" fill="#d6432d"/>
<rect x="446.97" y="472.84" width="7.65" height="8.29" fill="#d6432d"/>
<rect x="454.12" y="472.84" width="7.65" height="8.29" fill="#cc1a14"/>
<rect x="461.26" y="472.84" width="7.65" height="8.29" fill="#df6d50"/>
<rect x="468.41" y="472.84" width="7.65" height="8.29" fill="#eb9a7c"/>
<rect x="475.56" y="472.84" width="7.65" height="8.29" fill="#eb9a7c"/>
<rect x="482.71" y="472.84" width="7.65" height="8.29" fill="#eb9a7c"/>
<rect x="489.85" y="472.84" width="7.15" height="8.29" fill="#df6d50"/>
<rect x="222.00" y="480.63" width="7.64" height="8.29" fill="#5d50ac"/>
<rect x="229.14" y="480.63" width="7.64" height="8.29" fill="#7a6bbb"/>
<rect x="236.29" y="480.63" width="7.64" height="8.29" fill="#5d50ac"/>
<rect x="243.43" y="480.63" width="7.64" height="8.29" fill="#5d50ac"/>
<rect x="250.57" y="480.63" width="7.64" height="8.29" fill="#978bc9"/>
<rect x="257.71" y="480.63" width="7.64" height="8.29" fill="#7a6bbb"/>
<rect x="264.86" y="480.63" width="7.64" height="8.29" fill="#978bc9"/>
<rect x="272.00" y="480.63" width="7.64" height="8.29" fill="#978bc9"/>
<rect x="279.14" y="480.63" width="7.64" height="8.29" fill="#bcb3de"/>
<rect x="286.29" y="480.63" width="7.64" height="8.29" fill="#7a6bbb"/>
<rect x="293.43" y="480.63" width="7.64" height="8.29" fill="#5d50ac"/>
<rect x="300.57" y="480.63" width="7.64" height="8.29" fill="#5d50ac"/>
<rect x="307.71" y="480.63" width="7.64" height="8.29" fill="#978bc9"/>
<rect x="314.86" y="480.63" width="7.64" height="8.29" fill="#978bc9"/>
<rect x="322.00" y="480.63" width="7.64" height="8.29" fill="#5d50ac"/>
<rect x="329.14" y="480.63" width="7.64" height="8.29" fill="#3f4aa1"/>
<rect x="336.29" y="480.63" width="7.64" height="8.29" fill="#bcb3de"/>
<rect x="343.43" y="480.63" width="7.64" height="8.29" fill="#978bc9"/>
<rect x="350.57" y="480.63" width="7.64" height="8.29" fill="#5d50ac"/>
<rect x="357.71" y="480.63" width="7.64" height="8.29" fill="#5d50ac"/>
<rect x="364.86" y="480.63" width="7.14" height="8.29" fill="#7a6bbb"/>
<rect x="375.50" y="480.63" width="7.65" height="8.29" fill="#df6d50"/>
<rect x="382.65" y="480.63" width="7.65" height="8.29" fill="#d6432d"/>
<rect x="389.79" y="480.63" width="7.65" height="8.29" fill="#d6432d"/>
<rect x="396.94" y="480.63" width="7.65" height="8.29" fill="#eb9a7c"/>
<rect x="404.09" y="480.63" width="7.65" height="8.29" fill="#df6d50"/>
<rect x="411.24" y="480.63" width="7.65" height="8.29" fill="#eb9a7c"/>
<rect x="418.38" y="480.63" width="7.65" height="8.29" fill="#978bc9"/>
<rect x="425.53" y="480.63" width="7.65" height="8.29" fill="#d6432d"/>
<rect x="432.68" y="480.63" width="7.65" height="8.29" fill="#df6d50"/>
<rect x="439.82" y="480.63" width="7.65" height="8.29" fill="#df6d50"/>
<rect x="446.97" y="480.63" width="7.65" height="8.29" fill="#df6d50"/>
<rect x="454.12" y="480.63" width="7.65" height="8.29" fill="#d6432d"/>
<rect x="461.26" y="480.63" width="7.65" height="8.29" fill="#cc1a14"/>
<rect x="468.41" y="480.63" width="7.65" height="8.29" fill="#d6432d"/>
<rect x="475.56" y="480.63" width="7.65" height="8.29" fill="#df6d50"/>
<rect x="482.71" y="480.63" width="7.65" height="8.29" fill="#eb9a7c"/>
<rect x="489.85" y="480.63" width="7.15" height="8.29" fill="#eb9a7c"/>
<rect x="222.00" y="488.41" width="7.64" height="7.79" fill="#5d50ac"/>
<rect x="229.14" y="488.41" width="7.64" height="7.79" fill="#7a6bbb"/>
<rect x="236.29" y="488.41" width="7.64" height="7.79" fill="#5d50ac"/>
<rect x="243.43" y="488.41" width="7.64" height="7.79" fill="#5d50ac"/>
<rect x="250.57" y="488.41" width="7.64" height="7.79" fill="#5d50ac"/>
<rect x="257.71" y="488.41" width="7.64" height="7.79" fill="#bcb3de"/>
<rect x="264.86" y="488.41" width="7.64" height="7.79" fill="#978bc9"/>
<rect x="272.00" y="488.41" width="7.64" height="7.79" fill="#978bc9"/>
<rect x="279.14" y="488.41" width="7.64" height="7.79" fill="#978bc9"/>
<rect x="286.29" y="488.41" width="7.64" height="7.79" fill="#7a6bbb"/>
<rect x="293.43" y="488.41" width="7.64" height="7.79" fill="#3f4aa1"/>
<rect x="300.57" y="488.41" width="7.64" height="7.79" fill="#3f4aa1"/>
<rect x="307.71" y="488.41" width="7.64" height="7.79" fill="#7a6bbb"/>
<rect x="314.86" y="488.41" width="7.64" height="7.79" fill="#978bc9"/>
<rect x="322.00" y="488.41" width="7.64" height="7.79" fill="#3f4aa1"/>
<rect x="329.14" y="488.41" width="7.64" height="7.79" fill="#5d50ac"/>
<rect x="336.29" y="488.41" width="7.64" height="7.79" fill="#d6d2ec"/>
<rect x="343.43" y="488.41" width="7.64" height="7.79" fill="#978bc9"/>
<rect x="350.57" y="488.41" width="7.64" height="7.79" fill="#bcb3de"/>
<rect x="357.71" y="488.41" width="7.64" height="7.79" fill="#7a6bbb"/>
<rect x="364.86" y="488.41" width="7.14" height="7.79" fill="#7a6bbb"/>
<rect x="375.50" y="488.41" width="7.65" height="7.79" fill="#d6432d"/>
<rect x="382.65" y="488.41" width="7.65" height="7.79" fill="#f1bba2"/>
<rect x="389.79" y="488.41" width="7.65" height="7.79" fill="#d6432d"/>
<rect x="396.94" y="488.41" width="7.65" height="7.79" fill="#eb9a7c"/>
<rect x="404.09" y="488.41" width="7.65" height="7.79" fill="#eb9a7c"/>
<rect x="411.24" y="488.41" width="7.65" height="7.79" fill="#bcb3de"/>
<rect x="418.38" y="488.41" width="7.65" height="7.79" fill="#7a6bbb"/>
<rect x="425.53" y="488.41" width="7.65" height="7.79" fill="#d6432d"/>
<rect x="432.68" y="488.41" width="7.65" height="7.79" fill="#df6d50"/>
<rect x="439.82" y="488.41" width="7.65" height="7.79" fill="#cc1a14"/>
<rect x="446.97" y="488.41" width="7.65" height="7.79" fill="#d6432d"/>
<rect x="454.12" y="488.41" width="7.65" height="7.79" fill="#cc1a14"/>
<rect x="461.26" y="488.41" width="7.65" height="7.79" fill="#d6432d"/>
<rect x="468.41" y="488.41" width="7.65" height="7.79" fill="#d6432d"/>
<rect x="475.56" y="488.41" width="7.65" height="7.79" fill="#f1bba2"/>
<rect x="482.71" y="488.41" width="7.65" height="7.79" fill="#df6d50"/>
<rect x="489.85" y="488.41" width="7.15" height="7.79" fill="#d6432d"/>
</g>
<g fill="#111" font-size="7.2">
<text transform="translate(227.60,210.2) rotate(-90)">HIST1H2AM</text>
<text transform="translate(234.74,210.2) rotate(-90)">DDX3X</text>
<text transform="translate(241.89,210.2) rotate(-90)">TCL1A</text>
<text transform="translate(249.03,210.2) rotate(-90)">GNA13</text>
<text transform="translate(256.17,210.2) rotate(-90)">FBXO11</text>
<text transform="translate(263.31,210.2) rotate(-90)">MCL1</text>
<text transform="translate(270.46,210.2) rotate(-90)">TCF3</text>
<text transform="translate(277.60,210.2) rotate(-90)">SNTB2</text>
<text transform="translate(284.74,210.2) rotate(-90)">GNAI2</text>
<text transform="translate(291.89,210.2) rotate(-90)">SMARCA4</text>
<text transform="translate(299.03,210.2) rotate(-90)">HIST1H3H</text>
<text transform="translate(306.17,210.2) rotate(-90)">HIST1H2BK</text>
<text transform="translate(313.31,210.2) rotate(-90)">IKZF3</text>
<text transform="translate(320.46,210.2) rotate(-90)">HIST1H1E</text>
<text transform="translate(327.60,210.2) rotate(-90)">CCND3</text>
<text transform="translate(334.74,210.2) rotate(-90)">ID3</text>
<text transform="translate(341.89,210.2) rotate(-90)">RNF144B</text>
<text transform="translate(349.03,210.2) rotate(-90)">BACH2</text>
<text transform="translate(356.17,210.2) rotate(-90)">ARID1A</text>
<text transform="translate(363.31,210.2) rotate(-90)">MYC</text>
<text transform="translate(370.46,210.2) rotate(-90)">BMP7</text>
<text transform="translate(381.10,210.2) rotate(-90)">HIST1H1C</text>
<text transform="translate(388.25,210.2) rotate(-90)">CREBBP</text>
<text transform="translate(395.39,210.2) rotate(-90)">SIN3A</text>
<text transform="translate(402.54,210.2) rotate(-90)">HNRNPU</text>
<text transform="translate(409.69,210.2) rotate(-90)">CHD8</text>
<text transform="translate(416.84,210.2) rotate(-90)">MME</text>
<text transform="translate(423.98,210.2) rotate(-90)">BCL7A</text>
<text transform="translate(431.13,210.2) rotate(-90)">BTG2</text>
<text transform="translate(438.28,210.2) rotate(-90)">ETS1</text>
<text transform="translate(445.42,210.2) rotate(-90)">BCR</text>
<text transform="translate(452.57,210.2) rotate(-90)">BCL6</text>
<text transform="translate(459.72,210.2) rotate(-90)">IGLL5</text>
<text transform="translate(466.86,210.2) rotate(-90)">DNMT1</text>
<text transform="translate(474.01,210.2) rotate(-90)">DTX1</text>
<text transform="translate(481.16,210.2) rotate(-90)">FOXO1</text>
<text transform="translate(488.31,210.2) rotate(-90)">CTCF</text>
<text transform="translate(495.45,210.2) rotate(-90)">PLCG2</text>
</g>
<g fill="#111" font-size="6.9">
<text x="144.3" y="219.22" textLength="74.3" lengthAdjust="spacingAndGlyphs">O−linked glycosylation</text>
<text x="106.2" y="226.97" textLength="112.4" lengthAdjust="spacingAndGlyphs">Retinoid metabolism and transport</text>
<text x="92.0" y="234.71" textLength="126.6" lengthAdjust="spacingAndGlyphs">p75 NTR receptor−mediated signalling</text>
<text x="135.7" y="242.46" textLength="82.9" lengthAdjust="spacingAndGlyphs">GABA receptor activation</text>
<text x="128.9" y="250.20" textLength="89.7" lengthAdjust="spacingAndGlyphs">G−protein mediated events</text>
<text x="157.7" y="257.95" textLength="60.9" lengthAdjust="spacingAndGlyphs">Signaling by GPCR</text>
<text x="115.1" y="265.70" textLength="103.5" lengthAdjust="spacingAndGlyphs">Extracellular matrix organization</text>
<text x="140.0" y="273.44" textLength="78.6" lengthAdjust="spacingAndGlyphs">Cholesterol biosynthesis</text>
<text x="145.8" y="281.19" textLength="72.8" lengthAdjust="spacingAndGlyphs">Gap junction assembly</text>
<text x="174.5" y="288.93" textLength="44.1" lengthAdjust="spacingAndGlyphs">PI3K Cascade</text>
<text x="66.8" y="296.68" textLength="151.8" lengthAdjust="spacingAndGlyphs">MyD88 cascade initiated on plasma membrane</text>
<text x="116.2" y="304.42" textLength="102.4" lengthAdjust="spacingAndGlyphs">Oncogene Induced Senescence</text>
<text x="130.0" y="312.17" textLength="88.6" lengthAdjust="spacingAndGlyphs">Oncogenic MAPK signaling</text>
<text x="151.0" y="319.91" textLength="67.6" lengthAdjust="spacingAndGlyphs">Signaling by NOTCH</text>
<text x="62.8" y="327.66" textLength="155.8" lengthAdjust="spacingAndGlyphs">Downregulation of TGF−beta receptor signaling</text>
<text x="80.6" y="335.40" textLength="138.0" lengthAdjust="spacingAndGlyphs">Signaling by TGF−beta Receptor Complex</text>
<text x="100.7" y="343.15" textLength="117.9" lengthAdjust="spacingAndGlyphs">TGF−beta receptor signaling in EMT</text>
<text x="93.5" y="350.90" textLength="125.1" lengthAdjust="spacingAndGlyphs">Beta−catenin phosphorylation cascade</text>
<text x="138.0" y="358.64" textLength="80.6" lengthAdjust="spacingAndGlyphs">Insulin receptor recycling</text>
<text x="151.6" y="366.39" textLength="67.0" lengthAdjust="spacingAndGlyphs">G−protein activation</text>
<text x="166.9" y="374.13" textLength="51.7" lengthAdjust="spacingAndGlyphs">FCGR activation</text>
<text x="130.1" y="381.88" textLength="88.5" lengthAdjust="spacingAndGlyphs">G alpha (i) signalling events</text>
<text x="131.2" y="392.64" textLength="87.4" lengthAdjust="spacingAndGlyphs">Cellular responses to stress</text>
<text x="139.9" y="400.43" textLength="78.7" lengthAdjust="spacingAndGlyphs">Programmed Cell Death</text>
<text x="154.8" y="408.21" textLength="63.8" lengthAdjust="spacingAndGlyphs">Interferon Signaling</text>
<text x="113.1" y="416.00" textLength="105.5" lengthAdjust="spacingAndGlyphs">Cyclin D associated events in G1</text>
<text x="33.0" y="423.79" textLength="185.6" lengthAdjust="spacingAndGlyphs">Class I MHC mediated antigen processing &amp; presentation</text>
<text x="111.1" y="431.57" textLength="107.5" lengthAdjust="spacingAndGlyphs">TP53 Regulates Metabolic Genes</text>
<text x="101.1" y="439.36" textLength="117.5" lengthAdjust="spacingAndGlyphs">RNA Polymerase II Promoter Escape</text>
<text x="105.1" y="447.14" textLength="113.5" lengthAdjust="spacingAndGlyphs">Nonsense−Mediated Decay (NMD)</text>
<text x="116.8" y="454.93" textLength="101.8" lengthAdjust="spacingAndGlyphs">RNA Polymerase I Transcription</text>
<text x="98.1" y="462.71" textLength="120.5" lengthAdjust="spacingAndGlyphs">Oxidative Stress Induced Senescence</text>
<text x="84.6" y="470.50" textLength="134.0" lengthAdjust="spacingAndGlyphs">SUMOylation of DNA replication proteins</text>
<text x="115.9" y="478.29" textLength="102.7" lengthAdjust="spacingAndGlyphs">G2/M DNA damage checkpoint</text>
<text x="131.9" y="486.07" textLength="86.7" lengthAdjust="spacingAndGlyphs">Nucleotide Excision Repair</text>
<text x="107.8" y="493.86" textLength="110.8" lengthAdjust="spacingAndGlyphs">DNA Double−Strand Break Repair</text>
</g>
<g fill="#1a1a1a" font-size="8.4">
<text transform="translate(27.9,296.5) rotate(-90)" text-anchor="middle" textLength="112" lengthAdjust="spacingAndGlyphs">Signaling &amp; metabolic pathways</text>
<text transform="translate(27.9,437.9) rotate(-90)" text-anchor="middle" textLength="62.5" lengthAdjust="spacingAndGlyphs">DNA repair pathways</text>
<text transform="translate(502.2,354.9) rotate(90)" text-anchor="middle" textLength="30.5" lengthAdjust="spacingAndGlyphs">Genesets</text>
</g>
<text x="293.6" y="506.2" font-size="7.5" fill="#111" textLength="131" lengthAdjust="spacingAndGlyphs">Burkitt lymphoma driver gene mutations</text>
<g fill="#111" font-size="6.9">
<text x="440.3" y="521.3" textLength="56.6" lengthAdjust="spacingAndGlyphs">GSEA normalized</text>
<text x="441.9" y="529.7" textLength="55" lengthAdjust="spacingAndGlyphs">enrichment score</text>
</g>
<defs><linearGradient id="cb" x1="442.5" x2="496.3" y1="0" y2="0" gradientUnits="userSpaceOnUse"><stop offset="0" stop-color="#cc2a1c"/><stop offset="0.2" stop-color="#e8876a"/><stop offset="0.41" stop-color="#ffffff"/><stop offset="0.65" stop-color="#9a8fcc"/><stop offset="1" stop-color="#3c449e"/></linearGradient></defs>
<rect x="442.5" y="535.1" width="53.8" height="6.2" fill="url(#cb)" stroke="#000" stroke-width="1.2"/>
<line x1="444.6" y1="541.8" x2="444.6" y2="545" stroke="#333" stroke-width="0.8"/>
<line x1="454.3" y1="541.8" x2="454.3" y2="545" stroke="#333" stroke-width="0.8"/>
<line x1="464.2" y1="541.8" x2="464.2" y2="545" stroke="#333" stroke-width="0.8"/>
<line x1="473.8" y1="541.8" x2="473.8" y2="545" stroke="#333" stroke-width="0.8"/>
<line x1="483.6" y1="541.8" x2="483.6" y2="545" stroke="#333" stroke-width="0.8"/>
<line x1="493.7" y1="541.8" x2="493.7" y2="545" stroke="#333" stroke-width="0.8"/>
<g fill="#111" font-size="7.4" text-anchor="middle">
<text x="444.6" y="554.4">2</text>
<text x="454.3" y="554.4">1</text>
<text x="464.2" y="554.4">0</text>
<text x="473.2" y="554.4">−1</text>
<text x="483.0" y="554.4">−2</text>
<text x="493.1" y="554.4">−3</text>
</g>
</svg></body></html>
